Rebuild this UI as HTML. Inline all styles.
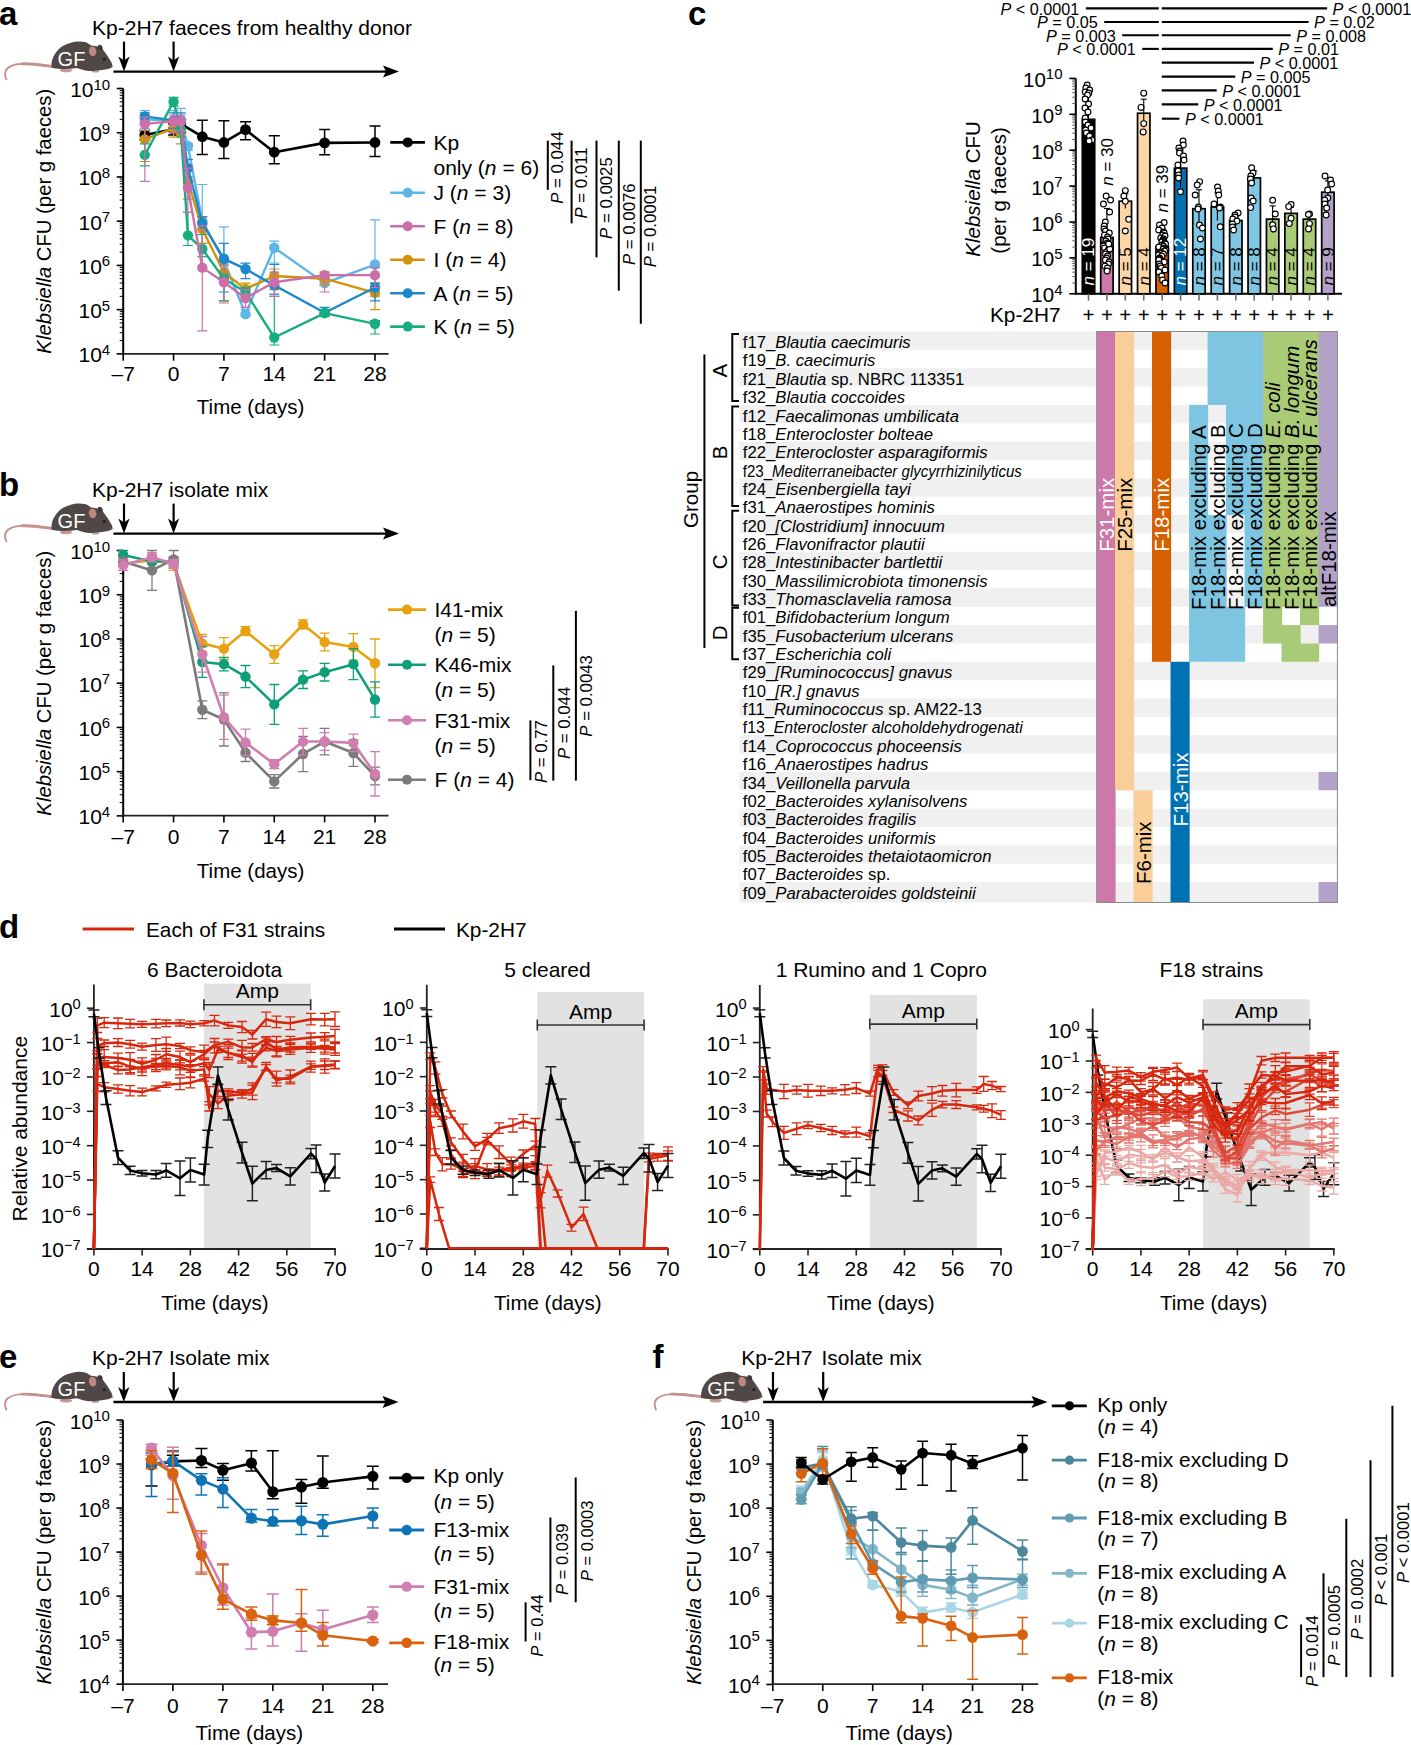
<!DOCTYPE html>
<html><head><meta charset="utf-8"><style>
html,body{margin:0;padding:0;background:#fff;overflow:hidden;width:1411px;height:1745px;}
svg{display:block;font-family:"Liberation Sans",sans-serif;}
</style></head><body>
<svg width="1411" height="1745" viewBox="0 0 1411 1745">
<defs><symbol id="mouse" overflow="visible">
<path d="M51.5,66.3 C42,65 32,63.3 22,63.8 C14,64.2 8,66.5 5.8,70.5 C4.6,73.5 5,76.5 6.4,79.3" fill="none" stroke="#C4918B" stroke-width="1.9" stroke-linecap="round"/>
<path d="M51.5,66.3 C42,65 32,63.3 22,63.8" fill="none" stroke="#C4918B" stroke-width="2.8" stroke-linecap="round"/>
<ellipse cx="66" cy="70.3" rx="6.2" ry="1.9" fill="#C99893"/>
<ellipse cx="95.5" cy="71.2" rx="3.8" ry="1.4" fill="#C99893"/>
<path d="M51.4,67.5 C51.2,62 52.5,57 55.6,53 C57.8,50 59.5,48.3 62,46.6 C64.5,45 66.5,44.1 68.9,43.4 C71.5,42.5 74,41.8 76.9,41.6 C80,41.4 82.5,41.5 84.9,42.1 C87,42.8 89,44 90.5,45.2 L97.6,46.5 C97.8,45.5 98.3,44.9 99.2,45 C101,45.3 102.5,47 103,49.8 C106,53.5 109,58 111.2,62 C112,63.5 112.6,65 112.5,66.8 C111.5,68 110.4,68.4 108,69 C104,69.8 100,70.2 96,70.6 C93,71 90,71 87,70.7 C83,70.3 80,69 76.9,68 C72,68.5 67,69.2 62,69 C57,68.8 53.5,68.3 51.4,67.5 Z" fill="#4F4846"/>
<ellipse cx="100.3" cy="47.4" rx="2.2" ry="2.5" fill="#3E3836"/>
<ellipse cx="92.6" cy="51.4" rx="3.7" ry="4.9" fill="#BE8782" transform="rotate(-10 92.6 51.4)"/>
<circle cx="104.3" cy="59.4" r="1.4" fill="#1a1a1a"/>
<circle cx="112.6" cy="66.6" r="0.9" fill="#D49C97"/>
<text x="57.6" y="65.5" font-size="20" fill="#fff">GF</text>
</symbol></defs>
<rect width="1411" height="1745" fill="#fff"/>
<text x="-1.00" y="24.80" font-size="33" font-weight="bold" >a</text>
<use href="#mouse" x="0.00" y="0.00"/>
<line x1="113.40" y1="71.60" x2="391.00" y2="71.60" stroke="#000" stroke-width="2.4" />
<path d="M399.00,71.60 L383.00,65.60 L386.00,71.60 L383.00,77.60 Z" fill="#000"/>
<line x1="124.00" y1="41.60" x2="124.00" y2="65.60" stroke="#000" stroke-width="2.2" />
<path d="M124.00,71.60 L118.40,56.60 L124.00,60.60 L129.60,56.60 Z" fill="#000"/>
<line x1="173.60" y1="41.60" x2="173.60" y2="65.60" stroke="#000" stroke-width="2.2" />
<path d="M173.60,71.60 L168.00,56.60 L173.60,60.60 L179.20,56.60 Z" fill="#000"/>
<text x="92.00" y="34.70" font-size="21" textLength="320" lengthAdjust="spacingAndGlyphs" >Kp-2H7 faeces from healthy donor</text>
<line x1="123.20" y1="88.50" x2="123.20" y2="353.88" stroke="#000" stroke-width="2" />
<line x1="116.70" y1="353.88" x2="123.20" y2="353.88" stroke="#000" stroke-width="1.6" />
<line x1="119.70" y1="340.57" x2="123.20" y2="340.57" stroke="#000" stroke-width="1.0" />
<line x1="119.70" y1="332.78" x2="123.20" y2="332.78" stroke="#000" stroke-width="1.0" />
<line x1="119.70" y1="327.25" x2="123.20" y2="327.25" stroke="#000" stroke-width="1.0" />
<line x1="119.70" y1="322.96" x2="123.20" y2="322.96" stroke="#000" stroke-width="1.0" />
<line x1="119.70" y1="319.46" x2="123.20" y2="319.46" stroke="#000" stroke-width="1.0" />
<line x1="119.70" y1="316.50" x2="123.20" y2="316.50" stroke="#000" stroke-width="1.0" />
<line x1="119.70" y1="313.94" x2="123.20" y2="313.94" stroke="#000" stroke-width="1.0" />
<line x1="119.70" y1="311.67" x2="123.20" y2="311.67" stroke="#000" stroke-width="1.0" />
<text x="110.20" y="362.38" font-size="21" text-anchor="end">10<tspan font-size="15" dy="-7.5">4</tspan></text>
<line x1="116.70" y1="309.65" x2="123.20" y2="309.65" stroke="#000" stroke-width="1.6" />
<line x1="119.70" y1="296.34" x2="123.20" y2="296.34" stroke="#000" stroke-width="1.0" />
<line x1="119.70" y1="288.55" x2="123.20" y2="288.55" stroke="#000" stroke-width="1.0" />
<line x1="119.70" y1="283.02" x2="123.20" y2="283.02" stroke="#000" stroke-width="1.0" />
<line x1="119.70" y1="278.73" x2="123.20" y2="278.73" stroke="#000" stroke-width="1.0" />
<line x1="119.70" y1="275.23" x2="123.20" y2="275.23" stroke="#000" stroke-width="1.0" />
<line x1="119.70" y1="272.27" x2="123.20" y2="272.27" stroke="#000" stroke-width="1.0" />
<line x1="119.70" y1="269.71" x2="123.20" y2="269.71" stroke="#000" stroke-width="1.0" />
<line x1="119.70" y1="267.44" x2="123.20" y2="267.44" stroke="#000" stroke-width="1.0" />
<text x="110.20" y="318.15" font-size="21" text-anchor="end">10<tspan font-size="15" dy="-7.5">5</tspan></text>
<line x1="116.70" y1="265.42" x2="123.20" y2="265.42" stroke="#000" stroke-width="1.6" />
<line x1="119.70" y1="252.11" x2="123.20" y2="252.11" stroke="#000" stroke-width="1.0" />
<line x1="119.70" y1="244.32" x2="123.20" y2="244.32" stroke="#000" stroke-width="1.0" />
<line x1="119.70" y1="238.79" x2="123.20" y2="238.79" stroke="#000" stroke-width="1.0" />
<line x1="119.70" y1="234.50" x2="123.20" y2="234.50" stroke="#000" stroke-width="1.0" />
<line x1="119.70" y1="231.00" x2="123.20" y2="231.00" stroke="#000" stroke-width="1.0" />
<line x1="119.70" y1="228.04" x2="123.20" y2="228.04" stroke="#000" stroke-width="1.0" />
<line x1="119.70" y1="225.48" x2="123.20" y2="225.48" stroke="#000" stroke-width="1.0" />
<line x1="119.70" y1="223.21" x2="123.20" y2="223.21" stroke="#000" stroke-width="1.0" />
<text x="110.20" y="273.92" font-size="21" text-anchor="end">10<tspan font-size="15" dy="-7.5">6</tspan></text>
<line x1="116.70" y1="221.19" x2="123.20" y2="221.19" stroke="#000" stroke-width="1.6" />
<line x1="119.70" y1="207.88" x2="123.20" y2="207.88" stroke="#000" stroke-width="1.0" />
<line x1="119.70" y1="200.09" x2="123.20" y2="200.09" stroke="#000" stroke-width="1.0" />
<line x1="119.70" y1="194.56" x2="123.20" y2="194.56" stroke="#000" stroke-width="1.0" />
<line x1="119.70" y1="190.27" x2="123.20" y2="190.27" stroke="#000" stroke-width="1.0" />
<line x1="119.70" y1="186.77" x2="123.20" y2="186.77" stroke="#000" stroke-width="1.0" />
<line x1="119.70" y1="183.81" x2="123.20" y2="183.81" stroke="#000" stroke-width="1.0" />
<line x1="119.70" y1="181.25" x2="123.20" y2="181.25" stroke="#000" stroke-width="1.0" />
<line x1="119.70" y1="178.98" x2="123.20" y2="178.98" stroke="#000" stroke-width="1.0" />
<text x="110.20" y="229.69" font-size="21" text-anchor="end">10<tspan font-size="15" dy="-7.5">7</tspan></text>
<line x1="116.70" y1="176.96" x2="123.20" y2="176.96" stroke="#000" stroke-width="1.6" />
<line x1="119.70" y1="163.65" x2="123.20" y2="163.65" stroke="#000" stroke-width="1.0" />
<line x1="119.70" y1="155.86" x2="123.20" y2="155.86" stroke="#000" stroke-width="1.0" />
<line x1="119.70" y1="150.33" x2="123.20" y2="150.33" stroke="#000" stroke-width="1.0" />
<line x1="119.70" y1="146.04" x2="123.20" y2="146.04" stroke="#000" stroke-width="1.0" />
<line x1="119.70" y1="142.54" x2="123.20" y2="142.54" stroke="#000" stroke-width="1.0" />
<line x1="119.70" y1="139.58" x2="123.20" y2="139.58" stroke="#000" stroke-width="1.0" />
<line x1="119.70" y1="137.02" x2="123.20" y2="137.02" stroke="#000" stroke-width="1.0" />
<line x1="119.70" y1="134.75" x2="123.20" y2="134.75" stroke="#000" stroke-width="1.0" />
<text x="110.20" y="185.46" font-size="21" text-anchor="end">10<tspan font-size="15" dy="-7.5">8</tspan></text>
<line x1="116.70" y1="132.73" x2="123.20" y2="132.73" stroke="#000" stroke-width="1.6" />
<line x1="119.70" y1="119.42" x2="123.20" y2="119.42" stroke="#000" stroke-width="1.0" />
<line x1="119.70" y1="111.63" x2="123.20" y2="111.63" stroke="#000" stroke-width="1.0" />
<line x1="119.70" y1="106.10" x2="123.20" y2="106.10" stroke="#000" stroke-width="1.0" />
<line x1="119.70" y1="101.81" x2="123.20" y2="101.81" stroke="#000" stroke-width="1.0" />
<line x1="119.70" y1="98.31" x2="123.20" y2="98.31" stroke="#000" stroke-width="1.0" />
<line x1="119.70" y1="95.35" x2="123.20" y2="95.35" stroke="#000" stroke-width="1.0" />
<line x1="119.70" y1="92.79" x2="123.20" y2="92.79" stroke="#000" stroke-width="1.0" />
<line x1="119.70" y1="90.52" x2="123.20" y2="90.52" stroke="#000" stroke-width="1.0" />
<text x="110.20" y="141.23" font-size="21" text-anchor="end">10<tspan font-size="15" dy="-7.5">9</tspan></text>
<line x1="116.70" y1="88.50" x2="123.20" y2="88.50" stroke="#000" stroke-width="1.6" />
<text x="110.20" y="97.00" font-size="21" text-anchor="end">10<tspan font-size="15" dy="-7.5">10</tspan></text>
<line x1="122.20" y1="353.90" x2="388.60" y2="353.90" stroke="#222" stroke-width="1.8" />
<line x1="123.20" y1="353.90" x2="123.20" y2="360.70" stroke="#000" stroke-width="1.6" />
<text x="123.20" y="381.20" font-size="21" text-anchor="middle" >–7</text>
<line x1="173.56" y1="353.90" x2="173.56" y2="360.70" stroke="#000" stroke-width="1.6" />
<text x="173.56" y="381.20" font-size="21" text-anchor="middle" >0</text>
<line x1="223.92" y1="353.90" x2="223.92" y2="360.70" stroke="#000" stroke-width="1.6" />
<text x="223.92" y="381.20" font-size="21" text-anchor="middle" >7</text>
<line x1="274.27" y1="353.90" x2="274.27" y2="360.70" stroke="#000" stroke-width="1.6" />
<text x="274.27" y="381.20" font-size="21" text-anchor="middle" >14</text>
<line x1="324.63" y1="353.90" x2="324.63" y2="360.70" stroke="#000" stroke-width="1.6" />
<text x="324.63" y="381.20" font-size="21" text-anchor="middle" >21</text>
<line x1="374.99" y1="353.90" x2="374.99" y2="360.70" stroke="#000" stroke-width="1.6" />
<text x="374.99" y="381.20" font-size="21" text-anchor="middle" >28</text>
<text x="250.59" y="414.40" font-size="20.5" text-anchor="middle" >Time (days)</text>
<text x="51.00" y="221.19" font-size="20.3" text-anchor="middle" transform="rotate(-90 51.00 221.19)"><tspan font-style="italic">Klebsiella</tspan> CFU (per g faeces)</text>
<path d="M144.8,130.5V139.4M139.3,130.5h11.0M139.3,139.4h11.0" stroke="#000" stroke-width="1.5" fill="none"/>
<path d="M173.6,123.9V134.9M168.1,123.9h11.0M168.1,134.9h11.0" stroke="#000" stroke-width="1.5" fill="none"/>
<path d="M180.8,119.5V132.7M175.3,119.5h11.0M175.3,132.7h11.0" stroke="#000" stroke-width="1.5" fill="none"/>
<path d="M202.3,120.3V154.4M196.8,120.3h11.0M196.8,154.4h11.0" stroke="#000" stroke-width="1.5" fill="none"/>
<path d="M223.9,120.8V158.4M218.4,120.8h11.0M218.4,158.4h11.0" stroke="#000" stroke-width="1.5" fill="none"/>
<path d="M245.5,121.7V139.8M240.0,121.7h11.0M240.0,139.8h11.0" stroke="#000" stroke-width="1.5" fill="none"/>
<path d="M274.3,135.8V163.7M268.8,135.8h11.0M268.8,163.7h11.0" stroke="#000" stroke-width="1.5" fill="none"/>
<path d="M324.6,129.6V154.8M319.1,129.6h11.0M319.1,154.8h11.0" stroke="#000" stroke-width="1.5" fill="none"/>
<path d="M375.0,126.1V156.6M369.5,126.1h11.0M369.5,156.6h11.0" stroke="#000" stroke-width="1.5" fill="none"/>
<polyline points="144.78,134.94 173.56,129.19 180.75,123.88 202.33,136.71 223.92,142.46 245.50,129.63 274.27,152.19 324.63,142.90 374.99,142.46" fill="none" stroke="#000" stroke-width="2.6" stroke-linejoin="round" />
<circle cx="144.78" cy="134.94" r="5.4" fill="#000" />
<circle cx="173.56" cy="129.19" r="5.4" fill="#000" />
<circle cx="180.75" cy="123.88" r="5.4" fill="#000" />
<circle cx="202.33" cy="136.71" r="5.4" fill="#000" />
<circle cx="223.92" cy="142.46" r="5.4" fill="#000" />
<circle cx="245.50" cy="129.63" r="5.4" fill="#000" />
<circle cx="274.27" cy="152.19" r="5.4" fill="#000" />
<circle cx="324.63" cy="142.90" r="5.4" fill="#000" />
<circle cx="374.99" cy="142.46" r="5.4" fill="#000" />
<path d="M144.8,110.6V128.3M139.8,110.6h10M139.8,128.3h10" stroke="#5DB5E8" stroke-width="1.2" fill="none"/>
<path d="M173.6,110.6V132.7M168.6,110.6h10M168.6,132.7h10" stroke="#5DB5E8" stroke-width="1.2" fill="none"/>
<path d="M180.8,108.4V128.3M175.8,108.4h10M175.8,128.3h10" stroke="#5DB5E8" stroke-width="1.2" fill="none"/>
<path d="M187.9,143.8V150.4M182.9,143.8h10M182.9,150.4h10" stroke="#5DB5E8" stroke-width="1.2" fill="none"/>
<path d="M202.3,184.5V243.3M197.3,184.5h10M197.3,243.3h10" stroke="#5DB5E8" stroke-width="1.2" fill="none"/>
<path d="M223.9,226.9V274.3M218.9,226.9h10M218.9,274.3h10" stroke="#5DB5E8" stroke-width="1.2" fill="none"/>
<path d="M245.5,309.6V316.3M240.5,309.6h10M240.5,316.3h10" stroke="#5DB5E8" stroke-width="1.2" fill="none"/>
<path d="M274.3,241.1V263.2M269.3,241.1h10M269.3,263.2h10" stroke="#5DB5E8" stroke-width="1.2" fill="none"/>
<path d="M324.6,278.7V285.3M319.6,278.7h10M319.6,285.3h10" stroke="#5DB5E8" stroke-width="1.2" fill="none"/>
<path d="M375.0,219.9V296.4M370.0,219.9h10M370.0,296.4h10" stroke="#5DB5E8" stroke-width="1.2" fill="none"/>
<polyline points="144.78,119.46 173.56,120.35 180.75,119.46 187.95,146.00 202.33,221.19 223.92,261.00 245.50,314.07 274.27,247.73 324.63,283.11 374.99,264.54" fill="none" stroke="#5DB5E8" stroke-width="2.4" stroke-linejoin="round" />
<circle cx="144.78" cy="119.46" r="5.2" fill="#5DB5E8" />
<circle cx="173.56" cy="120.35" r="5.2" fill="#5DB5E8" />
<circle cx="180.75" cy="119.46" r="5.2" fill="#5DB5E8" />
<circle cx="187.95" cy="146.00" r="5.2" fill="#5DB5E8" />
<circle cx="202.33" cy="221.19" r="5.2" fill="#5DB5E8" />
<circle cx="223.92" cy="261.00" r="5.2" fill="#5DB5E8" />
<circle cx="245.50" cy="314.07" r="5.2" fill="#5DB5E8" />
<circle cx="274.27" cy="247.73" r="5.2" fill="#5DB5E8" />
<circle cx="324.63" cy="283.11" r="5.2" fill="#5DB5E8" />
<circle cx="374.99" cy="264.54" r="5.2" fill="#5DB5E8" />
<path d="M144.8,130.5V161.5M139.8,130.5h10M139.8,161.5h10" stroke="#D3920B" stroke-width="1.2" fill="none"/>
<path d="M173.6,121.7V137.2M168.6,121.7h10M168.6,137.2h10" stroke="#D3920B" stroke-width="1.2" fill="none"/>
<path d="M180.8,123.9V143.8M175.8,123.9h10M175.8,143.8h10" stroke="#D3920B" stroke-width="1.2" fill="none"/>
<path d="M187.9,168.1V199.1M182.9,168.1h10M182.9,199.1h10" stroke="#D3920B" stroke-width="1.2" fill="none"/>
<path d="M202.3,216.8V243.3M197.3,216.8h10M197.3,243.3h10" stroke="#D3920B" stroke-width="1.2" fill="none"/>
<path d="M223.9,265.4V300.8M218.9,265.4h10M218.9,300.8h10" stroke="#D3920B" stroke-width="1.2" fill="none"/>
<path d="M245.5,283.1V296.4M240.5,283.1h10M240.5,296.4h10" stroke="#D3920B" stroke-width="1.2" fill="none"/>
<path d="M274.3,269.0V289.7M269.3,269.0h10M269.3,289.7h10" stroke="#D3920B" stroke-width="1.2" fill="none"/>
<path d="M324.6,272.1V285.3M319.6,272.1h10M319.6,285.3h10" stroke="#D3920B" stroke-width="1.2" fill="none"/>
<path d="M375.0,283.1V309.6M370.0,283.1h10M370.0,309.6h10" stroke="#D3920B" stroke-width="1.2" fill="none"/>
<polyline points="144.78,139.36 173.56,128.31 180.75,132.73 187.95,181.38 202.33,229.15 223.92,272.50 245.50,288.86 274.27,276.04 324.63,278.69 374.99,292.84" fill="none" stroke="#D3920B" stroke-width="2.4" stroke-linejoin="round" />
<circle cx="144.78" cy="139.36" r="5.2" fill="#D3920B" />
<circle cx="173.56" cy="128.31" r="5.2" fill="#D3920B" />
<circle cx="180.75" cy="132.73" r="5.2" fill="#D3920B" />
<circle cx="187.95" cy="181.38" r="5.2" fill="#D3920B" />
<circle cx="202.33" cy="229.15" r="5.2" fill="#D3920B" />
<circle cx="223.92" cy="272.50" r="5.2" fill="#D3920B" />
<circle cx="245.50" cy="288.86" r="5.2" fill="#D3920B" />
<circle cx="274.27" cy="276.04" r="5.2" fill="#D3920B" />
<circle cx="324.63" cy="278.69" r="5.2" fill="#D3920B" />
<circle cx="374.99" cy="292.84" r="5.2" fill="#D3920B" />
<path d="M144.8,112.8V121.7M139.8,112.8h10M139.8,121.7h10" stroke="#1D87CB" stroke-width="1.2" fill="none"/>
<path d="M173.6,112.8V128.3M168.6,112.8h10M168.6,128.3h10" stroke="#1D87CB" stroke-width="1.2" fill="none"/>
<path d="M180.8,112.8V132.7M175.8,112.8h10M175.8,132.7h10" stroke="#1D87CB" stroke-width="1.2" fill="none"/>
<path d="M187.9,159.3V177.0M182.9,159.3h10M182.9,177.0h10" stroke="#1D87CB" stroke-width="1.2" fill="none"/>
<path d="M202.3,216.8V234.5M197.3,216.8h10M197.3,234.5h10" stroke="#1D87CB" stroke-width="1.2" fill="none"/>
<path d="M223.9,243.3V292.0M218.9,243.3h10M218.9,292.0h10" stroke="#1D87CB" stroke-width="1.2" fill="none"/>
<path d="M245.5,263.2V278.7M240.5,263.2h10M240.5,278.7h10" stroke="#1D87CB" stroke-width="1.2" fill="none"/>
<path d="M274.3,264.5V294.2M269.3,264.5h10M269.3,294.2h10" stroke="#1D87CB" stroke-width="1.2" fill="none"/>
<path d="M324.6,307.4V316.3M319.6,307.4h10M319.6,316.3h10" stroke="#1D87CB" stroke-width="1.2" fill="none"/>
<path d="M375.0,283.1V300.8M370.0,283.1h10M370.0,300.8h10" stroke="#1D87CB" stroke-width="1.2" fill="none"/>
<polyline points="144.78,116.36 173.56,120.35 180.75,121.67 187.95,168.11 202.33,223.40 223.92,258.79 245.50,268.96 274.27,285.32 324.63,312.75 374.99,287.53" fill="none" stroke="#1D87CB" stroke-width="2.4" stroke-linejoin="round" />
<circle cx="144.78" cy="116.36" r="5.2" fill="#1D87CB" />
<circle cx="173.56" cy="120.35" r="5.2" fill="#1D87CB" />
<circle cx="180.75" cy="121.67" r="5.2" fill="#1D87CB" />
<circle cx="187.95" cy="168.11" r="5.2" fill="#1D87CB" />
<circle cx="202.33" cy="223.40" r="5.2" fill="#1D87CB" />
<circle cx="223.92" cy="258.79" r="5.2" fill="#1D87CB" />
<circle cx="245.50" cy="268.96" r="5.2" fill="#1D87CB" />
<circle cx="274.27" cy="285.32" r="5.2" fill="#1D87CB" />
<circle cx="324.63" cy="312.75" r="5.2" fill="#1D87CB" />
<circle cx="374.99" cy="287.53" r="5.2" fill="#1D87CB" />
<path d="M144.8,143.8V165.9M139.8,143.8h10M139.8,165.9h10" stroke="#16AE80" stroke-width="1.2" fill="none"/>
<path d="M173.6,97.3V106.2M168.6,97.3h10M168.6,106.2h10" stroke="#16AE80" stroke-width="1.2" fill="none"/>
<path d="M180.8,121.7V137.2M175.8,121.7h10M175.8,137.2h10" stroke="#16AE80" stroke-width="1.2" fill="none"/>
<path d="M187.9,212.3V245.5M182.9,212.3h10M182.9,245.5h10" stroke="#16AE80" stroke-width="1.2" fill="none"/>
<path d="M202.3,234.5V256.6M197.3,234.5h10M197.3,256.6h10" stroke="#16AE80" stroke-width="1.2" fill="none"/>
<path d="M223.9,274.3V300.8M218.9,274.3h10M218.9,300.8h10" stroke="#16AE80" stroke-width="1.2" fill="none"/>
<path d="M245.5,287.5V300.8M240.5,287.5h10M240.5,300.8h10" stroke="#16AE80" stroke-width="1.2" fill="none"/>
<path d="M274.3,296.4V345.0M269.3,296.4h10M269.3,345.0h10" stroke="#16AE80" stroke-width="1.2" fill="none"/>
<path d="M324.6,309.6V316.3M319.6,309.6h10M319.6,316.3h10" stroke="#16AE80" stroke-width="1.2" fill="none"/>
<path d="M375.0,320.7V334.0M370.0,320.7h10M370.0,334.0h10" stroke="#16AE80" stroke-width="1.2" fill="none"/>
<polyline points="144.78,154.84 173.56,101.77 180.75,129.19 187.95,235.34 202.33,249.05 223.92,278.69 245.50,291.96 274.27,337.51 324.63,313.19 374.99,323.80" fill="none" stroke="#16AE80" stroke-width="2.4" stroke-linejoin="round" />
<circle cx="144.78" cy="154.84" r="5.2" fill="#16AE80" />
<circle cx="173.56" cy="101.77" r="5.2" fill="#16AE80" />
<circle cx="180.75" cy="129.19" r="5.2" fill="#16AE80" />
<circle cx="187.95" cy="235.34" r="5.2" fill="#16AE80" />
<circle cx="202.33" cy="249.05" r="5.2" fill="#16AE80" />
<circle cx="223.92" cy="278.69" r="5.2" fill="#16AE80" />
<circle cx="245.50" cy="291.96" r="5.2" fill="#16AE80" />
<circle cx="274.27" cy="337.51" r="5.2" fill="#16AE80" />
<circle cx="324.63" cy="313.19" r="5.2" fill="#16AE80" />
<circle cx="374.99" cy="323.80" r="5.2" fill="#16AE80" />
<path d="M144.8,117.2V181.4M139.8,117.2h10M139.8,181.4h10" stroke="#CC6FA8" stroke-width="1.2" fill="none"/>
<path d="M173.6,115.0V132.7M168.6,115.0h10M168.6,132.7h10" stroke="#CC6FA8" stroke-width="1.2" fill="none"/>
<path d="M180.8,115.0V130.5M175.8,115.0h10M175.8,130.5h10" stroke="#CC6FA8" stroke-width="1.2" fill="none"/>
<path d="M187.9,168.1V212.3M182.9,168.1h10M182.9,212.3h10" stroke="#CC6FA8" stroke-width="1.2" fill="none"/>
<path d="M202.3,225.6V330.9M197.3,225.6h10M197.3,330.9h10" stroke="#CC6FA8" stroke-width="1.2" fill="none"/>
<path d="M223.9,265.4V303.0M218.9,265.4h10M218.9,303.0h10" stroke="#CC6FA8" stroke-width="1.2" fill="none"/>
<path d="M245.5,289.7V307.4M240.5,289.7h10M240.5,307.4h10" stroke="#CC6FA8" stroke-width="1.2" fill="none"/>
<path d="M274.3,272.1V296.4M269.3,272.1h10M269.3,296.4h10" stroke="#CC6FA8" stroke-width="1.2" fill="none"/>
<path d="M324.6,272.1V292.0M319.6,272.1h10M319.6,292.0h10" stroke="#CC6FA8" stroke-width="1.2" fill="none"/>
<path d="M375.0,267.6V287.5M370.0,267.6h10M370.0,287.5h10" stroke="#CC6FA8" stroke-width="1.2" fill="none"/>
<polyline points="144.78,123.88 173.56,121.23 180.75,121.23 187.95,188.02 202.33,267.63 223.92,282.23 245.50,298.15 274.27,282.23 324.63,275.15 374.99,275.15" fill="none" stroke="#CC6FA8" stroke-width="2.4" stroke-linejoin="round" />
<circle cx="144.78" cy="123.88" r="5.2" fill="#CC6FA8" />
<circle cx="173.56" cy="121.23" r="5.2" fill="#CC6FA8" />
<circle cx="180.75" cy="121.23" r="5.2" fill="#CC6FA8" />
<circle cx="187.95" cy="188.02" r="5.2" fill="#CC6FA8" />
<circle cx="202.33" cy="267.63" r="5.2" fill="#CC6FA8" />
<circle cx="223.92" cy="282.23" r="5.2" fill="#CC6FA8" />
<circle cx="245.50" cy="298.15" r="5.2" fill="#CC6FA8" />
<circle cx="274.27" cy="282.23" r="5.2" fill="#CC6FA8" />
<circle cx="324.63" cy="275.15" r="5.2" fill="#CC6FA8" />
<circle cx="374.99" cy="275.15" r="5.2" fill="#CC6FA8" />
<line x1="390.20" y1="142.40" x2="424.90" y2="142.40" stroke="#000" stroke-width="2.6" />
<circle cx="407.70" cy="142.40" r="5" fill="#000" />
<text x="433.50" y="149.90" font-size="21" >Kp</text>
<line x1="390.20" y1="192.80" x2="424.90" y2="192.80" stroke="#5DB5E8" stroke-width="2.6" />
<circle cx="407.70" cy="192.80" r="5" fill="#5DB5E8" />
<text x="433.50" y="200.30" font-size="21" >J (<tspan font-style="italic">n</tspan> = 3)</text>
<line x1="390.20" y1="226.30" x2="424.90" y2="226.30" stroke="#CC6FA8" stroke-width="2.6" />
<circle cx="407.70" cy="226.30" r="5" fill="#CC6FA8" />
<text x="433.50" y="233.80" font-size="21" >F (<tspan font-style="italic">n</tspan> = 8)</text>
<line x1="390.20" y1="259.70" x2="424.90" y2="259.70" stroke="#D3920B" stroke-width="2.6" />
<circle cx="407.70" cy="259.70" r="5" fill="#D3920B" />
<text x="433.50" y="267.20" font-size="21" >I (<tspan font-style="italic">n</tspan> = 4)</text>
<line x1="390.20" y1="293.20" x2="424.90" y2="293.20" stroke="#1D87CB" stroke-width="2.6" />
<circle cx="407.70" cy="293.20" r="5" fill="#1D87CB" />
<text x="433.50" y="300.70" font-size="21" >A (<tspan font-style="italic">n</tspan> = 5)</text>
<line x1="390.20" y1="326.60" x2="424.90" y2="326.60" stroke="#16AE80" stroke-width="2.6" />
<circle cx="407.70" cy="326.60" r="5" fill="#16AE80" />
<text x="433.50" y="334.10" font-size="21" >K (<tspan font-style="italic">n</tspan> = 5)</text>
<text x="433.50" y="175.30" font-size="21" >only (<tspan font-style="italic">n</tspan> = 6)</text>
<line x1="547.80" y1="140.60" x2="547.80" y2="189.80" stroke="#000" stroke-width="2" />
<text x="563.50" y="203.80" font-size="16.8" transform="rotate(-90 563.50 203.80)"><tspan font-style="italic">P</tspan> = 0.044</text>
<line x1="571.60" y1="140.60" x2="571.60" y2="223.40" stroke="#000" stroke-width="2" />
<text x="587.30" y="218.50" font-size="16.8" transform="rotate(-90 587.30 218.50)"><tspan font-style="italic">P</tspan> = 0.011</text>
<line x1="596.50" y1="140.60" x2="596.50" y2="257.40" stroke="#000" stroke-width="2" />
<text x="612.20" y="238.90" font-size="16.8" transform="rotate(-90 612.20 238.90)"><tspan font-style="italic">P</tspan> = 0.0025</text>
<line x1="618.80" y1="140.60" x2="618.80" y2="290.70" stroke="#000" stroke-width="2" />
<text x="634.50" y="265.00" font-size="16.8" transform="rotate(-90 634.50 265.00)"><tspan font-style="italic">P</tspan> = 0.0076</text>
<line x1="640.80" y1="140.60" x2="640.80" y2="323.80" stroke="#000" stroke-width="2" />
<text x="656.50" y="267.30" font-size="16.8" transform="rotate(-90 656.50 267.30)"><tspan font-style="italic">P</tspan> = 0.0001</text>
<text x="-1.00" y="496.10" font-size="33" font-weight="bold" >b</text>
<use href="#mouse" x="0.00" y="462.00"/>
<line x1="113.40" y1="533.60" x2="391.00" y2="533.60" stroke="#000" stroke-width="2.4" />
<path d="M399.00,533.60 L383.00,527.60 L386.00,533.60 L383.00,539.60 Z" fill="#000"/>
<line x1="124.00" y1="503.60" x2="124.00" y2="527.60" stroke="#000" stroke-width="2.2" />
<path d="M124.00,533.60 L118.40,518.60 L124.00,522.60 L129.60,518.60 Z" fill="#000"/>
<line x1="173.60" y1="503.60" x2="173.60" y2="527.60" stroke="#000" stroke-width="2.2" />
<path d="M173.60,533.60 L168.00,518.60 L173.60,522.60 L179.20,518.60 Z" fill="#000"/>
<text x="92.00" y="496.70" font-size="21" >Kp-2H7 isolate mix</text>
<line x1="123.20" y1="550.50" x2="123.20" y2="815.88" stroke="#000" stroke-width="2" />
<line x1="116.70" y1="815.88" x2="123.20" y2="815.88" stroke="#000" stroke-width="1.6" />
<line x1="119.70" y1="802.57" x2="123.20" y2="802.57" stroke="#000" stroke-width="1.0" />
<line x1="119.70" y1="794.78" x2="123.20" y2="794.78" stroke="#000" stroke-width="1.0" />
<line x1="119.70" y1="789.25" x2="123.20" y2="789.25" stroke="#000" stroke-width="1.0" />
<line x1="119.70" y1="784.96" x2="123.20" y2="784.96" stroke="#000" stroke-width="1.0" />
<line x1="119.70" y1="781.46" x2="123.20" y2="781.46" stroke="#000" stroke-width="1.0" />
<line x1="119.70" y1="778.50" x2="123.20" y2="778.50" stroke="#000" stroke-width="1.0" />
<line x1="119.70" y1="775.94" x2="123.20" y2="775.94" stroke="#000" stroke-width="1.0" />
<line x1="119.70" y1="773.67" x2="123.20" y2="773.67" stroke="#000" stroke-width="1.0" />
<text x="110.20" y="824.38" font-size="21" text-anchor="end">10<tspan font-size="15" dy="-7.5">4</tspan></text>
<line x1="116.70" y1="771.65" x2="123.20" y2="771.65" stroke="#000" stroke-width="1.6" />
<line x1="119.70" y1="758.34" x2="123.20" y2="758.34" stroke="#000" stroke-width="1.0" />
<line x1="119.70" y1="750.55" x2="123.20" y2="750.55" stroke="#000" stroke-width="1.0" />
<line x1="119.70" y1="745.02" x2="123.20" y2="745.02" stroke="#000" stroke-width="1.0" />
<line x1="119.70" y1="740.73" x2="123.20" y2="740.73" stroke="#000" stroke-width="1.0" />
<line x1="119.70" y1="737.23" x2="123.20" y2="737.23" stroke="#000" stroke-width="1.0" />
<line x1="119.70" y1="734.27" x2="123.20" y2="734.27" stroke="#000" stroke-width="1.0" />
<line x1="119.70" y1="731.71" x2="123.20" y2="731.71" stroke="#000" stroke-width="1.0" />
<line x1="119.70" y1="729.44" x2="123.20" y2="729.44" stroke="#000" stroke-width="1.0" />
<text x="110.20" y="780.15" font-size="21" text-anchor="end">10<tspan font-size="15" dy="-7.5">5</tspan></text>
<line x1="116.70" y1="727.42" x2="123.20" y2="727.42" stroke="#000" stroke-width="1.6" />
<line x1="119.70" y1="714.11" x2="123.20" y2="714.11" stroke="#000" stroke-width="1.0" />
<line x1="119.70" y1="706.32" x2="123.20" y2="706.32" stroke="#000" stroke-width="1.0" />
<line x1="119.70" y1="700.79" x2="123.20" y2="700.79" stroke="#000" stroke-width="1.0" />
<line x1="119.70" y1="696.50" x2="123.20" y2="696.50" stroke="#000" stroke-width="1.0" />
<line x1="119.70" y1="693.00" x2="123.20" y2="693.00" stroke="#000" stroke-width="1.0" />
<line x1="119.70" y1="690.04" x2="123.20" y2="690.04" stroke="#000" stroke-width="1.0" />
<line x1="119.70" y1="687.48" x2="123.20" y2="687.48" stroke="#000" stroke-width="1.0" />
<line x1="119.70" y1="685.21" x2="123.20" y2="685.21" stroke="#000" stroke-width="1.0" />
<text x="110.20" y="735.92" font-size="21" text-anchor="end">10<tspan font-size="15" dy="-7.5">6</tspan></text>
<line x1="116.70" y1="683.19" x2="123.20" y2="683.19" stroke="#000" stroke-width="1.6" />
<line x1="119.70" y1="669.88" x2="123.20" y2="669.88" stroke="#000" stroke-width="1.0" />
<line x1="119.70" y1="662.09" x2="123.20" y2="662.09" stroke="#000" stroke-width="1.0" />
<line x1="119.70" y1="656.56" x2="123.20" y2="656.56" stroke="#000" stroke-width="1.0" />
<line x1="119.70" y1="652.27" x2="123.20" y2="652.27" stroke="#000" stroke-width="1.0" />
<line x1="119.70" y1="648.77" x2="123.20" y2="648.77" stroke="#000" stroke-width="1.0" />
<line x1="119.70" y1="645.81" x2="123.20" y2="645.81" stroke="#000" stroke-width="1.0" />
<line x1="119.70" y1="643.25" x2="123.20" y2="643.25" stroke="#000" stroke-width="1.0" />
<line x1="119.70" y1="640.98" x2="123.20" y2="640.98" stroke="#000" stroke-width="1.0" />
<text x="110.20" y="691.69" font-size="21" text-anchor="end">10<tspan font-size="15" dy="-7.5">7</tspan></text>
<line x1="116.70" y1="638.96" x2="123.20" y2="638.96" stroke="#000" stroke-width="1.6" />
<line x1="119.70" y1="625.65" x2="123.20" y2="625.65" stroke="#000" stroke-width="1.0" />
<line x1="119.70" y1="617.86" x2="123.20" y2="617.86" stroke="#000" stroke-width="1.0" />
<line x1="119.70" y1="612.33" x2="123.20" y2="612.33" stroke="#000" stroke-width="1.0" />
<line x1="119.70" y1="608.04" x2="123.20" y2="608.04" stroke="#000" stroke-width="1.0" />
<line x1="119.70" y1="604.54" x2="123.20" y2="604.54" stroke="#000" stroke-width="1.0" />
<line x1="119.70" y1="601.58" x2="123.20" y2="601.58" stroke="#000" stroke-width="1.0" />
<line x1="119.70" y1="599.02" x2="123.20" y2="599.02" stroke="#000" stroke-width="1.0" />
<line x1="119.70" y1="596.75" x2="123.20" y2="596.75" stroke="#000" stroke-width="1.0" />
<text x="110.20" y="647.46" font-size="21" text-anchor="end">10<tspan font-size="15" dy="-7.5">8</tspan></text>
<line x1="116.70" y1="594.73" x2="123.20" y2="594.73" stroke="#000" stroke-width="1.6" />
<line x1="119.70" y1="581.42" x2="123.20" y2="581.42" stroke="#000" stroke-width="1.0" />
<line x1="119.70" y1="573.63" x2="123.20" y2="573.63" stroke="#000" stroke-width="1.0" />
<line x1="119.70" y1="568.10" x2="123.20" y2="568.10" stroke="#000" stroke-width="1.0" />
<line x1="119.70" y1="563.81" x2="123.20" y2="563.81" stroke="#000" stroke-width="1.0" />
<line x1="119.70" y1="560.31" x2="123.20" y2="560.31" stroke="#000" stroke-width="1.0" />
<line x1="119.70" y1="557.35" x2="123.20" y2="557.35" stroke="#000" stroke-width="1.0" />
<line x1="119.70" y1="554.79" x2="123.20" y2="554.79" stroke="#000" stroke-width="1.0" />
<line x1="119.70" y1="552.52" x2="123.20" y2="552.52" stroke="#000" stroke-width="1.0" />
<text x="110.20" y="603.23" font-size="21" text-anchor="end">10<tspan font-size="15" dy="-7.5">9</tspan></text>
<line x1="116.70" y1="550.50" x2="123.20" y2="550.50" stroke="#000" stroke-width="1.6" />
<text x="110.20" y="559.00" font-size="21" text-anchor="end">10<tspan font-size="15" dy="-7.5">10</tspan></text>
<line x1="122.20" y1="815.60" x2="388.50" y2="815.60" stroke="#222" stroke-width="1.8" />
<line x1="123.20" y1="815.60" x2="123.20" y2="822.40" stroke="#000" stroke-width="1.6" />
<text x="123.20" y="844.40" font-size="21" text-anchor="middle" >–7</text>
<line x1="173.56" y1="815.60" x2="173.56" y2="822.40" stroke="#000" stroke-width="1.6" />
<text x="173.56" y="844.40" font-size="21" text-anchor="middle" >0</text>
<line x1="223.92" y1="815.60" x2="223.92" y2="822.40" stroke="#000" stroke-width="1.6" />
<text x="223.92" y="844.40" font-size="21" text-anchor="middle" >7</text>
<line x1="274.27" y1="815.60" x2="274.27" y2="822.40" stroke="#000" stroke-width="1.6" />
<text x="274.27" y="844.40" font-size="21" text-anchor="middle" >14</text>
<line x1="324.63" y1="815.60" x2="324.63" y2="822.40" stroke="#000" stroke-width="1.6" />
<text x="324.63" y="844.40" font-size="21" text-anchor="middle" >21</text>
<line x1="374.99" y1="815.60" x2="374.99" y2="822.40" stroke="#000" stroke-width="1.6" />
<text x="374.99" y="844.40" font-size="21" text-anchor="middle" >28</text>
<text x="250.59" y="878.20" font-size="20.5" text-anchor="middle" >Time (days)</text>
<text x="51.00" y="683.19" font-size="20.3" text-anchor="middle" transform="rotate(-90 51.00 683.19)"><tspan font-style="italic">Klebsiella</tspan> CFU (per g faeces)</text>
<path d="M123.2,557.1V570.4M118.2,557.1h10M118.2,570.4h10" stroke="#E8A20F" stroke-width="1.3" fill="none"/>
<path d="M152.0,555.8V564.7M147.0,555.8h10M147.0,564.7h10" stroke="#E8A20F" stroke-width="1.3" fill="none"/>
<path d="M173.6,557.1V570.4M168.6,557.1h10M168.6,570.4h10" stroke="#E8A20F" stroke-width="1.3" fill="none"/>
<path d="M202.3,634.5V652.2M197.3,634.5h10M197.3,652.2h10" stroke="#E8A20F" stroke-width="1.3" fill="none"/>
<path d="M223.9,637.6V659.7M218.9,637.6h10M218.9,659.7h10" stroke="#E8A20F" stroke-width="1.3" fill="none"/>
<path d="M245.5,626.6V635.4M240.5,626.6h10M240.5,635.4h10" stroke="#E8A20F" stroke-width="1.3" fill="none"/>
<path d="M274.3,645.6V663.3M269.3,645.6h10M269.3,663.3h10" stroke="#E8A20F" stroke-width="1.3" fill="none"/>
<path d="M303.1,619.9V628.8M298.1,619.9h10M298.1,628.8h10" stroke="#E8A20F" stroke-width="1.3" fill="none"/>
<path d="M324.6,633.2V650.9M319.6,633.2h10M319.6,650.9h10" stroke="#E8A20F" stroke-width="1.3" fill="none"/>
<path d="M353.4,633.7V660.2M348.4,633.7h10M348.4,660.2h10" stroke="#E8A20F" stroke-width="1.3" fill="none"/>
<path d="M375.0,639.0V687.6M370.0,639.0h10M370.0,687.6h10" stroke="#E8A20F" stroke-width="1.3" fill="none"/>
<polyline points="123.20,563.77 151.98,560.23 173.56,563.77 202.33,643.38 223.92,648.69 245.50,631.00 274.27,654.44 303.05,624.36 324.63,642.06 353.41,646.92 374.99,663.29" fill="none" stroke="#E8A20F" stroke-width="2.6" stroke-linejoin="round" />
<circle cx="123.20" cy="563.77" r="5.2" fill="#E8A20F" />
<circle cx="151.98" cy="560.23" r="5.2" fill="#E8A20F" />
<circle cx="173.56" cy="563.77" r="5.2" fill="#E8A20F" />
<circle cx="202.33" cy="643.38" r="5.2" fill="#E8A20F" />
<circle cx="223.92" cy="648.69" r="5.2" fill="#E8A20F" />
<circle cx="245.50" cy="631.00" r="5.2" fill="#E8A20F" />
<circle cx="274.27" cy="654.44" r="5.2" fill="#E8A20F" />
<circle cx="303.05" cy="624.36" r="5.2" fill="#E8A20F" />
<circle cx="324.63" cy="642.06" r="5.2" fill="#E8A20F" />
<circle cx="353.41" cy="646.92" r="5.2" fill="#E8A20F" />
<circle cx="374.99" cy="663.29" r="5.2" fill="#E8A20F" />
<path d="M123.2,550.5V559.3M118.2,550.5h10M118.2,559.3h10" stroke="#0F9F78" stroke-width="1.3" fill="none"/>
<path d="M152.0,554.9V568.2M147.0,554.9h10M147.0,568.2h10" stroke="#0F9F78" stroke-width="1.3" fill="none"/>
<path d="M173.6,557.1V566.0M168.6,557.1h10M168.6,566.0h10" stroke="#0F9F78" stroke-width="1.3" fill="none"/>
<path d="M202.3,646.5V677.4M197.3,646.5h10M197.3,677.4h10" stroke="#0F9F78" stroke-width="1.3" fill="none"/>
<path d="M223.9,657.5V670.8M218.9,657.5h10M218.9,670.8h10" stroke="#0F9F78" stroke-width="1.3" fill="none"/>
<path d="M245.5,665.5V687.6M240.5,665.5h10M240.5,687.6h10" stroke="#0F9F78" stroke-width="1.3" fill="none"/>
<path d="M274.3,684.5V724.3M269.3,684.5h10M269.3,724.3h10" stroke="#0F9F78" stroke-width="1.3" fill="none"/>
<path d="M303.1,670.8V688.5M298.1,670.8h10M298.1,688.5h10" stroke="#0F9F78" stroke-width="1.3" fill="none"/>
<path d="M324.6,663.3V681.0M319.6,663.3h10M319.6,681.0h10" stroke="#0F9F78" stroke-width="1.3" fill="none"/>
<path d="M353.4,648.7V679.7M348.4,648.7h10M348.4,679.7h10" stroke="#0F9F78" stroke-width="1.3" fill="none"/>
<path d="M375.0,681.9V717.2M370.0,681.9h10M370.0,717.2h10" stroke="#0F9F78" stroke-width="1.3" fill="none"/>
<polyline points="123.20,554.92 151.98,561.56 173.56,561.56 202.33,661.96 223.92,664.17 245.50,676.56 274.27,704.42 303.05,679.65 324.63,672.13 353.41,664.17 374.99,699.56" fill="none" stroke="#0F9F78" stroke-width="2.6" stroke-linejoin="round" />
<circle cx="123.20" cy="554.92" r="5.2" fill="#0F9F78" />
<circle cx="151.98" cy="561.56" r="5.2" fill="#0F9F78" />
<circle cx="173.56" cy="561.56" r="5.2" fill="#0F9F78" />
<circle cx="202.33" cy="661.96" r="5.2" fill="#0F9F78" />
<circle cx="223.92" cy="664.17" r="5.2" fill="#0F9F78" />
<circle cx="245.50" cy="676.56" r="5.2" fill="#0F9F78" />
<circle cx="274.27" cy="704.42" r="5.2" fill="#0F9F78" />
<circle cx="303.05" cy="679.65" r="5.2" fill="#0F9F78" />
<circle cx="324.63" cy="672.13" r="5.2" fill="#0F9F78" />
<circle cx="353.41" cy="664.17" r="5.2" fill="#0F9F78" />
<circle cx="374.99" cy="699.56" r="5.2" fill="#0F9F78" />
<path d="M123.2,557.1V566.0M118.2,557.1h10M118.2,566.0h10" stroke="#7B7B7B" stroke-width="1.3" fill="none"/>
<path d="M152.0,550.5V590.3M147.0,550.5h10M147.0,590.3h10" stroke="#7B7B7B" stroke-width="1.3" fill="none"/>
<path d="M173.6,550.5V568.2M168.6,550.5h10M168.6,568.2h10" stroke="#7B7B7B" stroke-width="1.3" fill="none"/>
<path d="M202.3,700.9V718.6M197.3,700.9h10M197.3,718.6h10" stroke="#7B7B7B" stroke-width="1.3" fill="none"/>
<path d="M223.9,692.9V746.0M218.9,692.9h10M218.9,746.0h10" stroke="#7B7B7B" stroke-width="1.3" fill="none"/>
<path d="M245.5,743.8V761.5M240.5,743.8h10M240.5,761.5h10" stroke="#7B7B7B" stroke-width="1.3" fill="none"/>
<path d="M274.3,774.7V788.0M269.3,774.7h10M269.3,788.0h10" stroke="#7B7B7B" stroke-width="1.3" fill="none"/>
<path d="M303.1,736.3V771.6M298.1,736.3h10M298.1,771.6h10" stroke="#7B7B7B" stroke-width="1.3" fill="none"/>
<path d="M324.6,728.3V754.8M319.6,728.3h10M319.6,754.8h10" stroke="#7B7B7B" stroke-width="1.3" fill="none"/>
<path d="M353.4,739.8V766.3M348.4,739.8h10M348.4,766.3h10" stroke="#7B7B7B" stroke-width="1.3" fill="none"/>
<path d="M375.0,767.2V784.9M370.0,767.2h10M370.0,784.9h10" stroke="#7B7B7B" stroke-width="1.3" fill="none"/>
<polyline points="123.20,561.56 151.98,570.40 173.56,559.35 202.33,709.73 223.92,719.46 245.50,752.63 274.27,781.38 303.05,753.96 324.63,741.57 353.41,753.07 374.99,776.07" fill="none" stroke="#7B7B7B" stroke-width="2.6" stroke-linejoin="round" />
<circle cx="123.20" cy="561.56" r="5.2" fill="#7B7B7B" />
<circle cx="151.98" cy="570.40" r="5.2" fill="#7B7B7B" />
<circle cx="173.56" cy="559.35" r="5.2" fill="#7B7B7B" />
<circle cx="202.33" cy="709.73" r="5.2" fill="#7B7B7B" />
<circle cx="223.92" cy="719.46" r="5.2" fill="#7B7B7B" />
<circle cx="245.50" cy="752.63" r="5.2" fill="#7B7B7B" />
<circle cx="274.27" cy="781.38" r="5.2" fill="#7B7B7B" />
<circle cx="303.05" cy="753.96" r="5.2" fill="#7B7B7B" />
<circle cx="324.63" cy="741.57" r="5.2" fill="#7B7B7B" />
<circle cx="353.41" cy="753.07" r="5.2" fill="#7B7B7B" />
<circle cx="374.99" cy="776.07" r="5.2" fill="#7B7B7B" />
<path d="M123.2,559.8V570.4M118.2,559.8h10M118.2,570.4h10" stroke="#D07DB0" stroke-width="1.3" fill="none"/>
<path d="M152.0,552.7V561.6M147.0,552.7h10M147.0,561.6h10" stroke="#D07DB0" stroke-width="1.3" fill="none"/>
<path d="M173.6,559.3V568.2M168.6,559.3h10M168.6,568.2h10" stroke="#D07DB0" stroke-width="1.3" fill="none"/>
<path d="M202.3,636.7V672.1M197.3,636.7h10M197.3,672.1h10" stroke="#D07DB0" stroke-width="1.3" fill="none"/>
<path d="M223.9,695.1V739.4M218.9,695.1h10M218.9,739.4h10" stroke="#D07DB0" stroke-width="1.3" fill="none"/>
<path d="M245.5,729.2V755.7M240.5,729.2h10M240.5,755.7h10" stroke="#D07DB0" stroke-width="1.3" fill="none"/>
<path d="M274.3,759.7V768.6M269.3,759.7h10M269.3,768.6h10" stroke="#D07DB0" stroke-width="1.3" fill="none"/>
<path d="M303.1,728.3V754.8M298.1,728.3h10M298.1,754.8h10" stroke="#D07DB0" stroke-width="1.3" fill="none"/>
<path d="M324.6,732.7V750.4M319.6,732.7h10M319.6,750.4h10" stroke="#D07DB0" stroke-width="1.3" fill="none"/>
<path d="M353.4,734.1V751.7M348.4,734.1h10M348.4,751.7h10" stroke="#D07DB0" stroke-width="1.3" fill="none"/>
<path d="M375.0,751.7V796.0M370.0,751.7h10M370.0,796.0h10" stroke="#D07DB0" stroke-width="1.3" fill="none"/>
<polyline points="123.20,565.10 151.98,557.13 173.56,563.77 202.33,654.44 223.92,717.25 245.50,742.46 274.27,764.13 303.05,741.57 324.63,741.57 353.41,742.90 374.99,773.86" fill="none" stroke="#D07DB0" stroke-width="2.6" stroke-linejoin="round" />
<circle cx="123.20" cy="565.10" r="5.2" fill="#D07DB0" />
<circle cx="151.98" cy="557.13" r="5.2" fill="#D07DB0" />
<circle cx="173.56" cy="563.77" r="5.2" fill="#D07DB0" />
<circle cx="202.33" cy="654.44" r="5.2" fill="#D07DB0" />
<circle cx="223.92" cy="717.25" r="5.2" fill="#D07DB0" />
<circle cx="245.50" cy="742.46" r="5.2" fill="#D07DB0" />
<circle cx="274.27" cy="764.13" r="5.2" fill="#D07DB0" />
<circle cx="303.05" cy="741.57" r="5.2" fill="#D07DB0" />
<circle cx="324.63" cy="741.57" r="5.2" fill="#D07DB0" />
<circle cx="353.41" cy="742.90" r="5.2" fill="#D07DB0" />
<circle cx="374.99" cy="773.86" r="5.2" fill="#D07DB0" />
<line x1="388.00" y1="609.60" x2="426.00" y2="609.60" stroke="#E8A20F" stroke-width="2.6" />
<circle cx="407.00" cy="609.60" r="5" fill="#E8A20F" />
<text x="434.50" y="617.10" font-size="21" >I41-mix</text>
<text x="434.50" y="641.90" font-size="21" >(<tspan font-style="italic">n</tspan> = 5)</text>
<line x1="388.00" y1="664.70" x2="426.00" y2="664.70" stroke="#0F9F78" stroke-width="2.6" />
<circle cx="407.00" cy="664.70" r="5" fill="#0F9F78" />
<text x="434.50" y="672.20" font-size="21" >K46-mix</text>
<text x="434.50" y="697.00" font-size="21" >(<tspan font-style="italic">n</tspan> = 5)</text>
<line x1="388.00" y1="720.30" x2="426.00" y2="720.30" stroke="#D07DB0" stroke-width="2.6" />
<circle cx="407.00" cy="720.30" r="5" fill="#D07DB0" />
<text x="434.50" y="727.80" font-size="21" >F31-mix</text>
<text x="434.50" y="752.60" font-size="21" >(<tspan font-style="italic">n</tspan> = 5)</text>
<line x1="388.00" y1="779.80" x2="426.00" y2="779.80" stroke="#7B7B7B" stroke-width="2.6" />
<circle cx="407.00" cy="779.80" r="5" fill="#7B7B7B" />
<text x="434.50" y="787.30" font-size="21" >F (<tspan font-style="italic">n</tspan> = 4)</text>
<line x1="530.40" y1="720.40" x2="530.40" y2="780.20" stroke="#000" stroke-width="2" />
<text x="546.70" y="783.10" font-size="16.8" transform="rotate(-90 546.70 783.10)"><tspan font-style="italic">P</tspan> = 0.77</text>
<line x1="553.30" y1="665.40" x2="553.30" y2="780.60" stroke="#000" stroke-width="2" />
<text x="569.60" y="759.10" font-size="16.8" transform="rotate(-90 569.60 759.10)"><tspan font-style="italic">P</tspan> = 0.044</text>
<line x1="575.90" y1="610.90" x2="575.90" y2="780.60" stroke="#000" stroke-width="2" />
<text x="592.20" y="736.70" font-size="16.8" transform="rotate(-90 592.20 736.70)"><tspan font-style="italic">P</tspan> = 0.0043</text>
<text x="688.00" y="25.20" font-size="33" font-weight="bold" >c</text>
<line x1="1085.80" y1="8.40" x2="1158.80" y2="8.40" stroke="#000" stroke-width="2.1" />
<text x="1079.30" y="14.60" font-size="16.2" text-anchor="end"><tspan font-style="italic">P</tspan> &lt; 0.0001</text>
<line x1="1104.20" y1="22.00" x2="1158.80" y2="22.00" stroke="#000" stroke-width="2.1" />
<text x="1097.70" y="28.20" font-size="16.2" text-anchor="end"><tspan font-style="italic">P</tspan> = 0.05</text>
<line x1="1122.20" y1="35.30" x2="1158.80" y2="35.30" stroke="#000" stroke-width="2.1" />
<text x="1115.70" y="41.50" font-size="16.2" text-anchor="end"><tspan font-style="italic">P</tspan> = 0.003</text>
<line x1="1142.20" y1="48.90" x2="1158.80" y2="48.90" stroke="#000" stroke-width="2.1" />
<text x="1135.70" y="55.10" font-size="16.2" text-anchor="end"><tspan font-style="italic">P</tspan> &lt; 0.0001</text>
<line x1="1161.80" y1="8.40" x2="1327.10" y2="8.40" stroke="#000" stroke-width="2.1" />
<text x="1332.60" y="14.60" font-size="16.2"><tspan font-style="italic">P</tspan> &lt; 0.0001</text>
<line x1="1161.80" y1="22.00" x2="1308.60" y2="22.00" stroke="#000" stroke-width="2.1" />
<text x="1314.10" y="28.20" font-size="16.2"><tspan font-style="italic">P</tspan> = 0.02</text>
<line x1="1161.80" y1="35.30" x2="1290.70" y2="35.30" stroke="#000" stroke-width="2.1" />
<text x="1296.20" y="41.50" font-size="16.2"><tspan font-style="italic">P</tspan> = 0.008</text>
<line x1="1161.80" y1="48.90" x2="1272.80" y2="48.90" stroke="#000" stroke-width="2.1" />
<text x="1278.30" y="55.10" font-size="16.2"><tspan font-style="italic">P</tspan> = 0.01</text>
<line x1="1161.80" y1="62.60" x2="1254.00" y2="62.60" stroke="#000" stroke-width="2.1" />
<text x="1259.50" y="68.80" font-size="16.2"><tspan font-style="italic">P</tspan> &lt; 0.0001</text>
<line x1="1161.80" y1="76.60" x2="1235.20" y2="76.60" stroke="#000" stroke-width="2.1" />
<text x="1240.70" y="82.80" font-size="16.2"><tspan font-style="italic">P</tspan> = 0.005</text>
<line x1="1161.80" y1="90.40" x2="1216.70" y2="90.40" stroke="#000" stroke-width="2.1" />
<text x="1222.20" y="96.60" font-size="16.2"><tspan font-style="italic">P</tspan> &lt; 0.0001</text>
<line x1="1161.80" y1="104.40" x2="1198.20" y2="104.40" stroke="#000" stroke-width="2.1" />
<text x="1203.70" y="110.60" font-size="16.2"><tspan font-style="italic">P</tspan> &lt; 0.0001</text>
<line x1="1161.80" y1="118.70" x2="1179.40" y2="118.70" stroke="#000" stroke-width="2.1" />
<text x="1184.90" y="124.90" font-size="16.2"><tspan font-style="italic">P</tspan> &lt; 0.0001</text>
<line x1="1075.80" y1="78.40" x2="1075.80" y2="293.80" stroke="#000" stroke-width="2" />
<line x1="1069.30" y1="293.80" x2="1075.80" y2="293.80" stroke="#000" stroke-width="1.6" />
<line x1="1072.30" y1="282.99" x2="1075.80" y2="282.99" stroke="#555" stroke-width="1.0" />
<line x1="1072.30" y1="276.67" x2="1075.80" y2="276.67" stroke="#555" stroke-width="1.0" />
<line x1="1072.30" y1="272.19" x2="1075.80" y2="272.19" stroke="#555" stroke-width="1.0" />
<line x1="1072.30" y1="268.71" x2="1075.80" y2="268.71" stroke="#555" stroke-width="1.0" />
<line x1="1072.30" y1="265.86" x2="1075.80" y2="265.86" stroke="#555" stroke-width="1.0" />
<line x1="1072.30" y1="263.46" x2="1075.80" y2="263.46" stroke="#555" stroke-width="1.0" />
<line x1="1072.30" y1="261.38" x2="1075.80" y2="261.38" stroke="#555" stroke-width="1.0" />
<line x1="1072.30" y1="259.54" x2="1075.80" y2="259.54" stroke="#555" stroke-width="1.0" />
<text x="1062.50" y="302.30" font-size="20.5" text-anchor="end">10<tspan font-size="15" dy="-7.5">4</tspan></text>
<line x1="1069.30" y1="257.90" x2="1075.80" y2="257.90" stroke="#000" stroke-width="1.6" />
<line x1="1072.30" y1="247.09" x2="1075.80" y2="247.09" stroke="#555" stroke-width="1.0" />
<line x1="1072.30" y1="240.77" x2="1075.80" y2="240.77" stroke="#555" stroke-width="1.0" />
<line x1="1072.30" y1="236.29" x2="1075.80" y2="236.29" stroke="#555" stroke-width="1.0" />
<line x1="1072.30" y1="232.81" x2="1075.80" y2="232.81" stroke="#555" stroke-width="1.0" />
<line x1="1072.30" y1="229.96" x2="1075.80" y2="229.96" stroke="#555" stroke-width="1.0" />
<line x1="1072.30" y1="227.56" x2="1075.80" y2="227.56" stroke="#555" stroke-width="1.0" />
<line x1="1072.30" y1="225.48" x2="1075.80" y2="225.48" stroke="#555" stroke-width="1.0" />
<line x1="1072.30" y1="223.64" x2="1075.80" y2="223.64" stroke="#555" stroke-width="1.0" />
<text x="1062.50" y="266.40" font-size="20.5" text-anchor="end">10<tspan font-size="15" dy="-7.5">5</tspan></text>
<line x1="1069.30" y1="222.00" x2="1075.80" y2="222.00" stroke="#000" stroke-width="1.6" />
<line x1="1072.30" y1="211.19" x2="1075.80" y2="211.19" stroke="#555" stroke-width="1.0" />
<line x1="1072.30" y1="204.87" x2="1075.80" y2="204.87" stroke="#555" stroke-width="1.0" />
<line x1="1072.30" y1="200.39" x2="1075.80" y2="200.39" stroke="#555" stroke-width="1.0" />
<line x1="1072.30" y1="196.91" x2="1075.80" y2="196.91" stroke="#555" stroke-width="1.0" />
<line x1="1072.30" y1="194.06" x2="1075.80" y2="194.06" stroke="#555" stroke-width="1.0" />
<line x1="1072.30" y1="191.66" x2="1075.80" y2="191.66" stroke="#555" stroke-width="1.0" />
<line x1="1072.30" y1="189.58" x2="1075.80" y2="189.58" stroke="#555" stroke-width="1.0" />
<line x1="1072.30" y1="187.74" x2="1075.80" y2="187.74" stroke="#555" stroke-width="1.0" />
<text x="1062.50" y="230.50" font-size="20.5" text-anchor="end">10<tspan font-size="15" dy="-7.5">6</tspan></text>
<line x1="1069.30" y1="186.10" x2="1075.80" y2="186.10" stroke="#000" stroke-width="1.6" />
<line x1="1072.30" y1="175.29" x2="1075.80" y2="175.29" stroke="#555" stroke-width="1.0" />
<line x1="1072.30" y1="168.97" x2="1075.80" y2="168.97" stroke="#555" stroke-width="1.0" />
<line x1="1072.30" y1="164.49" x2="1075.80" y2="164.49" stroke="#555" stroke-width="1.0" />
<line x1="1072.30" y1="161.01" x2="1075.80" y2="161.01" stroke="#555" stroke-width="1.0" />
<line x1="1072.30" y1="158.16" x2="1075.80" y2="158.16" stroke="#555" stroke-width="1.0" />
<line x1="1072.30" y1="155.76" x2="1075.80" y2="155.76" stroke="#555" stroke-width="1.0" />
<line x1="1072.30" y1="153.68" x2="1075.80" y2="153.68" stroke="#555" stroke-width="1.0" />
<line x1="1072.30" y1="151.84" x2="1075.80" y2="151.84" stroke="#555" stroke-width="1.0" />
<text x="1062.50" y="194.60" font-size="20.5" text-anchor="end">10<tspan font-size="15" dy="-7.5">7</tspan></text>
<line x1="1069.30" y1="150.20" x2="1075.80" y2="150.20" stroke="#000" stroke-width="1.6" />
<line x1="1072.30" y1="139.39" x2="1075.80" y2="139.39" stroke="#555" stroke-width="1.0" />
<line x1="1072.30" y1="133.07" x2="1075.80" y2="133.07" stroke="#555" stroke-width="1.0" />
<line x1="1072.30" y1="128.59" x2="1075.80" y2="128.59" stroke="#555" stroke-width="1.0" />
<line x1="1072.30" y1="125.11" x2="1075.80" y2="125.11" stroke="#555" stroke-width="1.0" />
<line x1="1072.30" y1="122.26" x2="1075.80" y2="122.26" stroke="#555" stroke-width="1.0" />
<line x1="1072.30" y1="119.86" x2="1075.80" y2="119.86" stroke="#555" stroke-width="1.0" />
<line x1="1072.30" y1="117.78" x2="1075.80" y2="117.78" stroke="#555" stroke-width="1.0" />
<line x1="1072.30" y1="115.94" x2="1075.80" y2="115.94" stroke="#555" stroke-width="1.0" />
<text x="1062.50" y="158.70" font-size="20.5" text-anchor="end">10<tspan font-size="15" dy="-7.5">8</tspan></text>
<line x1="1069.30" y1="114.30" x2="1075.80" y2="114.30" stroke="#000" stroke-width="1.6" />
<line x1="1072.30" y1="103.49" x2="1075.80" y2="103.49" stroke="#555" stroke-width="1.0" />
<line x1="1072.30" y1="97.17" x2="1075.80" y2="97.17" stroke="#555" stroke-width="1.0" />
<line x1="1072.30" y1="92.69" x2="1075.80" y2="92.69" stroke="#555" stroke-width="1.0" />
<line x1="1072.30" y1="89.21" x2="1075.80" y2="89.21" stroke="#555" stroke-width="1.0" />
<line x1="1072.30" y1="86.36" x2="1075.80" y2="86.36" stroke="#555" stroke-width="1.0" />
<line x1="1072.30" y1="83.96" x2="1075.80" y2="83.96" stroke="#555" stroke-width="1.0" />
<line x1="1072.30" y1="81.88" x2="1075.80" y2="81.88" stroke="#555" stroke-width="1.0" />
<line x1="1072.30" y1="80.04" x2="1075.80" y2="80.04" stroke="#555" stroke-width="1.0" />
<text x="1062.50" y="122.80" font-size="20.5" text-anchor="end">10<tspan font-size="15" dy="-7.5">9</tspan></text>
<line x1="1069.30" y1="78.40" x2="1075.80" y2="78.40" stroke="#000" stroke-width="1.6" />
<text x="1062.50" y="86.90" font-size="20.5" text-anchor="end">10<tspan font-size="15" dy="-7.5">10</tspan></text>
<line x1="1074.80" y1="293.80" x2="1342.00" y2="293.80" stroke="#000" stroke-width="2" />
<text x="980.3" y="188.9" font-size="20.5" text-anchor="middle" transform="rotate(-90 980.3 188.9)"><tspan font-style="italic">Klebsiella</tspan> CFU</text>
<text x="1006.2" y="190.4" font-size="20.5" text-anchor="middle" transform="rotate(-90 1006.2 190.4)">(per g faeces)</text>
<text x="990.00" y="322.00" font-size="20.5" textLength="70.5" lengthAdjust="spacingAndGlyphs" >Kp-2H7</text>
<rect x="1082.30" y="119.33" width="12.40" height="174.47" fill="#000000" stroke="#000" stroke-width="1.7"/>
<line x1="1088.50" y1="293.80" x2="1088.50" y2="300.60" stroke="#6e6e6e" stroke-width="1.6" />
<text x="1088.50" y="322.00" font-size="20.5" text-anchor="middle" >+</text>
<rect x="1100.71" y="237.44" width="12.40" height="56.36" fill="#CC78A8" stroke="#000" stroke-width="1.7"/>
<line x1="1106.91" y1="293.80" x2="1106.91" y2="300.60" stroke="#6e6e6e" stroke-width="1.6" />
<text x="1106.91" y="322.00" font-size="20.5" text-anchor="middle" >+</text>
<rect x="1119.13" y="201.18" width="12.40" height="92.62" fill="#FCD6A6" stroke="#000" stroke-width="1.7"/>
<line x1="1125.33" y1="293.80" x2="1125.33" y2="300.60" stroke="#6e6e6e" stroke-width="1.6" />
<text x="1125.33" y="322.00" font-size="20.5" text-anchor="middle" >+</text>
<rect x="1137.54" y="113.22" width="12.40" height="180.58" fill="#FCD6A6" stroke="#000" stroke-width="1.7"/>
<line x1="1143.74" y1="293.80" x2="1143.74" y2="300.60" stroke="#6e6e6e" stroke-width="1.6" />
<text x="1143.74" y="322.00" font-size="20.5" text-anchor="middle" >+</text>
<rect x="1155.96" y="246.77" width="12.40" height="47.03" fill="#D65F00" stroke="#000" stroke-width="1.7"/>
<line x1="1162.16" y1="293.80" x2="1162.16" y2="300.60" stroke="#6e6e6e" stroke-width="1.6" />
<text x="1162.16" y="322.00" font-size="20.5" text-anchor="middle" >+</text>
<rect x="1174.38" y="168.15" width="12.40" height="125.65" fill="#0072B2" stroke="#000" stroke-width="1.7"/>
<line x1="1180.58" y1="293.80" x2="1180.58" y2="300.60" stroke="#6e6e6e" stroke-width="1.6" />
<text x="1180.58" y="322.00" font-size="20.5" text-anchor="middle" >+</text>
<rect x="1192.79" y="208.72" width="12.40" height="85.08" fill="#7EC6E4" stroke="#000" stroke-width="1.7"/>
<line x1="1198.99" y1="293.80" x2="1198.99" y2="300.60" stroke="#6e6e6e" stroke-width="1.6" />
<text x="1198.99" y="322.00" font-size="20.5" text-anchor="middle" >+</text>
<rect x="1211.20" y="206.92" width="12.40" height="86.88" fill="#7EC6E4" stroke="#000" stroke-width="1.7"/>
<line x1="1217.40" y1="293.80" x2="1217.40" y2="300.60" stroke="#6e6e6e" stroke-width="1.6" />
<text x="1217.40" y="322.00" font-size="20.5" text-anchor="middle" >+</text>
<rect x="1229.62" y="220.56" width="12.40" height="73.24" fill="#7EC6E4" stroke="#000" stroke-width="1.7"/>
<line x1="1235.82" y1="293.80" x2="1235.82" y2="300.60" stroke="#6e6e6e" stroke-width="1.6" />
<text x="1235.82" y="322.00" font-size="20.5" text-anchor="middle" >+</text>
<rect x="1248.03" y="177.84" width="12.40" height="115.96" fill="#7EC6E4" stroke="#000" stroke-width="1.7"/>
<line x1="1254.23" y1="293.80" x2="1254.23" y2="300.60" stroke="#6e6e6e" stroke-width="1.6" />
<text x="1254.23" y="322.00" font-size="20.5" text-anchor="middle" >+</text>
<rect x="1266.45" y="219.13" width="12.40" height="74.67" fill="#A9CB77" stroke="#000" stroke-width="1.7"/>
<line x1="1272.65" y1="293.80" x2="1272.65" y2="300.60" stroke="#6e6e6e" stroke-width="1.6" />
<text x="1272.65" y="322.00" font-size="20.5" text-anchor="middle" >+</text>
<rect x="1284.87" y="213.38" width="12.40" height="80.42" fill="#A9CB77" stroke="#000" stroke-width="1.7"/>
<line x1="1291.07" y1="293.80" x2="1291.07" y2="300.60" stroke="#6e6e6e" stroke-width="1.6" />
<text x="1291.07" y="322.00" font-size="20.5" text-anchor="middle" >+</text>
<rect x="1303.28" y="219.13" width="12.40" height="74.67" fill="#A9CB77" stroke="#000" stroke-width="1.7"/>
<line x1="1309.48" y1="293.80" x2="1309.48" y2="300.60" stroke="#6e6e6e" stroke-width="1.6" />
<text x="1309.48" y="322.00" font-size="20.5" text-anchor="middle" >+</text>
<rect x="1321.69" y="192.20" width="12.40" height="101.60" fill="#B3A2C7" stroke="#000" stroke-width="1.7"/>
<line x1="1327.89" y1="293.80" x2="1327.89" y2="300.60" stroke="#6e6e6e" stroke-width="1.6" />
<text x="1327.89" y="322.00" font-size="20.5" text-anchor="middle" >+</text>
<line x1="1088.50" y1="95.30" x2="1088.50" y2="143.35" stroke="#000" stroke-width="1.1" />
<line x1="1085.50" y1="95.30" x2="1091.50" y2="95.30" stroke="#000" stroke-width="1.1" />
<circle cx="1087.16" cy="85.00" r="2.9" fill="#fff" stroke="#000" stroke-width="1.15"/>
<circle cx="1085.85" cy="88.00" r="2.9" fill="#fff" stroke="#000" stroke-width="1.15"/>
<circle cx="1089.65" cy="90.00" r="2.9" fill="#fff" stroke="#000" stroke-width="1.15"/>
<circle cx="1085.25" cy="92.00" r="2.9" fill="#fff" stroke="#000" stroke-width="1.15"/>
<circle cx="1088.77" cy="93.00" r="2.9" fill="#fff" stroke="#000" stroke-width="1.15"/>
<circle cx="1087.48" cy="95.00" r="2.9" fill="#fff" stroke="#000" stroke-width="1.15"/>
<circle cx="1085.14" cy="99.00" r="2.9" fill="#fff" stroke="#000" stroke-width="1.15"/>
<circle cx="1088.56" cy="104.00" r="2.9" fill="#fff" stroke="#000" stroke-width="1.15"/>
<circle cx="1084.98" cy="108.00" r="2.9" fill="#fff" stroke="#000" stroke-width="1.15"/>
<circle cx="1088.00" cy="112.00" r="2.9" fill="#fff" stroke="#000" stroke-width="1.15"/>
<circle cx="1085.23" cy="118.00" r="2.9" fill="#fff" stroke="#000" stroke-width="1.15"/>
<circle cx="1085.39" cy="122.00" r="2.9" fill="#fff" stroke="#000" stroke-width="1.15"/>
<circle cx="1087.93" cy="125.00" r="2.9" fill="#fff" stroke="#000" stroke-width="1.15"/>
<circle cx="1090.98" cy="128.00" r="2.9" fill="#fff" stroke="#000" stroke-width="1.15"/>
<circle cx="1085.64" cy="130.00" r="2.9" fill="#fff" stroke="#000" stroke-width="1.15"/>
<circle cx="1086.40" cy="133.00" r="2.9" fill="#fff" stroke="#000" stroke-width="1.15"/>
<circle cx="1089.47" cy="136.00" r="2.9" fill="#fff" stroke="#000" stroke-width="1.15"/>
<circle cx="1091.90" cy="140.00" r="2.9" fill="#fff" stroke="#000" stroke-width="1.15"/>
<circle cx="1089.09" cy="141.00" r="2.9" fill="#fff" stroke="#000" stroke-width="1.15"/>
<line x1="1106.91" y1="208.43" x2="1106.91" y2="266.44" stroke="#000" stroke-width="1.1" />
<line x1="1103.91" y1="208.43" x2="1109.91" y2="208.43" stroke="#000" stroke-width="1.1" />
<circle cx="1106.13" cy="196.00" r="2.9" fill="#fff" stroke="#000" stroke-width="1.15"/>
<circle cx="1110.53" cy="200.00" r="2.9" fill="#fff" stroke="#000" stroke-width="1.15"/>
<circle cx="1103.47" cy="204.00" r="2.9" fill="#fff" stroke="#000" stroke-width="1.15"/>
<circle cx="1109.64" cy="212.00" r="2.9" fill="#fff" stroke="#000" stroke-width="1.15"/>
<circle cx="1105.32" cy="222.00" r="2.9" fill="#fff" stroke="#000" stroke-width="1.15"/>
<circle cx="1104.21" cy="226.00" r="2.9" fill="#fff" stroke="#000" stroke-width="1.15"/>
<circle cx="1104.01" cy="229.00" r="2.9" fill="#fff" stroke="#000" stroke-width="1.15"/>
<circle cx="1105.46" cy="231.00" r="2.9" fill="#fff" stroke="#000" stroke-width="1.15"/>
<circle cx="1109.32" cy="233.00" r="2.9" fill="#fff" stroke="#000" stroke-width="1.15"/>
<circle cx="1104.49" cy="235.00" r="2.9" fill="#fff" stroke="#000" stroke-width="1.15"/>
<circle cx="1107.54" cy="237.00" r="2.9" fill="#fff" stroke="#000" stroke-width="1.15"/>
<circle cx="1107.97" cy="239.00" r="2.9" fill="#fff" stroke="#000" stroke-width="1.15"/>
<circle cx="1105.95" cy="241.00" r="2.9" fill="#fff" stroke="#000" stroke-width="1.15"/>
<circle cx="1107.28" cy="243.00" r="2.9" fill="#fff" stroke="#000" stroke-width="1.15"/>
<circle cx="1103.59" cy="245.00" r="2.9" fill="#fff" stroke="#000" stroke-width="1.15"/>
<circle cx="1103.57" cy="246.00" r="2.9" fill="#fff" stroke="#000" stroke-width="1.15"/>
<circle cx="1104.68" cy="248.00" r="2.9" fill="#fff" stroke="#000" stroke-width="1.15"/>
<circle cx="1108.29" cy="250.00" r="2.9" fill="#fff" stroke="#000" stroke-width="1.15"/>
<circle cx="1106.36" cy="252.00" r="2.9" fill="#fff" stroke="#000" stroke-width="1.15"/>
<circle cx="1105.50" cy="254.00" r="2.9" fill="#fff" stroke="#000" stroke-width="1.15"/>
<circle cx="1107.57" cy="256.00" r="2.9" fill="#fff" stroke="#000" stroke-width="1.15"/>
<circle cx="1106.56" cy="258.00" r="2.9" fill="#fff" stroke="#000" stroke-width="1.15"/>
<circle cx="1105.39" cy="260.00" r="2.9" fill="#fff" stroke="#000" stroke-width="1.15"/>
<circle cx="1109.15" cy="262.00" r="2.9" fill="#fff" stroke="#000" stroke-width="1.15"/>
<circle cx="1108.43" cy="264.00" r="2.9" fill="#fff" stroke="#000" stroke-width="1.15"/>
<circle cx="1104.97" cy="266.00" r="2.9" fill="#fff" stroke="#000" stroke-width="1.15"/>
<circle cx="1107.48" cy="268.00" r="2.9" fill="#fff" stroke="#000" stroke-width="1.15"/>
<circle cx="1107.11" cy="271.00" r="2.9" fill="#fff" stroke="#000" stroke-width="1.15"/>
<circle cx="1109.77" cy="249.00" r="2.9" fill="#fff" stroke="#000" stroke-width="1.15"/>
<circle cx="1108.66" cy="244.00" r="2.9" fill="#fff" stroke="#000" stroke-width="1.15"/>
<line x1="1125.33" y1="193.77" x2="1125.33" y2="208.58" stroke="#000" stroke-width="1.1" />
<line x1="1122.33" y1="193.77" x2="1128.33" y2="193.77" stroke="#000" stroke-width="1.1" />
<circle cx="1125.33" cy="190.60" r="2.9" fill="#fff" stroke="#000" stroke-width="1.15"/>
<circle cx="1123.85" cy="196.00" r="2.9" fill="#fff" stroke="#000" stroke-width="1.15"/>
<circle cx="1125.33" cy="201.30" r="2.9" fill="#fff" stroke="#000" stroke-width="1.15"/>
<circle cx="1128.69" cy="219.30" r="2.9" fill="#fff" stroke="#000" stroke-width="1.15"/>
<circle cx="1125.33" cy="231.00" r="2.9" fill="#fff" stroke="#000" stroke-width="1.15"/>
<line x1="1143.74" y1="99.21" x2="1143.74" y2="127.24" stroke="#000" stroke-width="1.1" />
<line x1="1140.74" y1="99.21" x2="1146.74" y2="99.21" stroke="#000" stroke-width="1.1" />
<circle cx="1143.74" cy="93.20" r="2.9" fill="#fff" stroke="#000" stroke-width="1.15"/>
<circle cx="1141.07" cy="107.40" r="2.9" fill="#fff" stroke="#000" stroke-width="1.15"/>
<circle cx="1143.74" cy="123.60" r="2.9" fill="#fff" stroke="#000" stroke-width="1.15"/>
<circle cx="1143.17" cy="131.90" r="2.9" fill="#fff" stroke="#000" stroke-width="1.15"/>
<line x1="1162.16" y1="229.78" x2="1162.16" y2="263.76" stroke="#000" stroke-width="1.1" />
<line x1="1159.16" y1="229.78" x2="1165.16" y2="229.78" stroke="#000" stroke-width="1.1" />
<circle cx="1164.11" cy="222.50" r="2.9" fill="#fff" stroke="#000" stroke-width="1.15"/>
<circle cx="1159.52" cy="225.00" r="2.9" fill="#fff" stroke="#000" stroke-width="1.15"/>
<circle cx="1162.08" cy="228.00" r="2.9" fill="#fff" stroke="#000" stroke-width="1.15"/>
<circle cx="1158.66" cy="230.00" r="2.9" fill="#fff" stroke="#000" stroke-width="1.15"/>
<circle cx="1163.44" cy="232.00" r="2.9" fill="#fff" stroke="#000" stroke-width="1.15"/>
<circle cx="1164.17" cy="233.00" r="2.9" fill="#fff" stroke="#000" stroke-width="1.15"/>
<circle cx="1162.71" cy="235.00" r="2.9" fill="#fff" stroke="#000" stroke-width="1.15"/>
<circle cx="1165.01" cy="236.00" r="2.9" fill="#fff" stroke="#000" stroke-width="1.15"/>
<circle cx="1160.74" cy="238.00" r="2.9" fill="#fff" stroke="#000" stroke-width="1.15"/>
<circle cx="1163.64" cy="239.00" r="2.9" fill="#fff" stroke="#000" stroke-width="1.15"/>
<circle cx="1162.88" cy="240.00" r="2.9" fill="#fff" stroke="#000" stroke-width="1.15"/>
<circle cx="1162.77" cy="241.00" r="2.9" fill="#fff" stroke="#000" stroke-width="1.15"/>
<circle cx="1161.83" cy="242.00" r="2.9" fill="#fff" stroke="#000" stroke-width="1.15"/>
<circle cx="1164.74" cy="243.00" r="2.9" fill="#fff" stroke="#000" stroke-width="1.15"/>
<circle cx="1165.54" cy="244.00" r="2.9" fill="#fff" stroke="#000" stroke-width="1.15"/>
<circle cx="1161.96" cy="245.00" r="2.9" fill="#fff" stroke="#000" stroke-width="1.15"/>
<circle cx="1163.41" cy="246.00" r="2.9" fill="#fff" stroke="#000" stroke-width="1.15"/>
<circle cx="1158.82" cy="247.00" r="2.9" fill="#fff" stroke="#000" stroke-width="1.15"/>
<circle cx="1163.69" cy="248.00" r="2.9" fill="#fff" stroke="#000" stroke-width="1.15"/>
<circle cx="1163.28" cy="249.00" r="2.9" fill="#fff" stroke="#000" stroke-width="1.15"/>
<circle cx="1165.91" cy="250.00" r="2.9" fill="#fff" stroke="#000" stroke-width="1.15"/>
<circle cx="1164.61" cy="251.00" r="2.9" fill="#fff" stroke="#000" stroke-width="1.15"/>
<circle cx="1160.52" cy="252.00" r="2.9" fill="#fff" stroke="#000" stroke-width="1.15"/>
<circle cx="1161.29" cy="253.00" r="2.9" fill="#fff" stroke="#000" stroke-width="1.15"/>
<circle cx="1163.44" cy="254.00" r="2.9" fill="#fff" stroke="#000" stroke-width="1.15"/>
<circle cx="1158.53" cy="255.00" r="2.9" fill="#fff" stroke="#000" stroke-width="1.15"/>
<circle cx="1161.87" cy="256.00" r="2.9" fill="#fff" stroke="#000" stroke-width="1.15"/>
<circle cx="1159.64" cy="258.00" r="2.9" fill="#fff" stroke="#000" stroke-width="1.15"/>
<circle cx="1159.25" cy="259.00" r="2.9" fill="#fff" stroke="#000" stroke-width="1.15"/>
<circle cx="1158.81" cy="260.00" r="2.9" fill="#fff" stroke="#000" stroke-width="1.15"/>
<circle cx="1164.20" cy="262.00" r="2.9" fill="#fff" stroke="#000" stroke-width="1.15"/>
<circle cx="1159.34" cy="264.00" r="2.9" fill="#fff" stroke="#000" stroke-width="1.15"/>
<circle cx="1160.24" cy="266.00" r="2.9" fill="#fff" stroke="#000" stroke-width="1.15"/>
<circle cx="1161.33" cy="268.00" r="2.9" fill="#fff" stroke="#000" stroke-width="1.15"/>
<circle cx="1164.98" cy="270.00" r="2.9" fill="#fff" stroke="#000" stroke-width="1.15"/>
<circle cx="1158.97" cy="272.00" r="2.9" fill="#fff" stroke="#000" stroke-width="1.15"/>
<circle cx="1161.77" cy="276.00" r="2.9" fill="#fff" stroke="#000" stroke-width="1.15"/>
<circle cx="1162.54" cy="280.00" r="2.9" fill="#fff" stroke="#000" stroke-width="1.15"/>
<circle cx="1165.07" cy="283.00" r="2.9" fill="#fff" stroke="#000" stroke-width="1.15"/>
<line x1="1180.58" y1="149.15" x2="1180.58" y2="187.16" stroke="#000" stroke-width="1.1" />
<line x1="1177.58" y1="149.15" x2="1183.58" y2="149.15" stroke="#000" stroke-width="1.1" />
<circle cx="1183.00" cy="141.00" r="2.9" fill="#fff" stroke="#000" stroke-width="1.15"/>
<circle cx="1183.34" cy="145.00" r="2.9" fill="#fff" stroke="#000" stroke-width="1.15"/>
<circle cx="1178.89" cy="148.00" r="2.9" fill="#fff" stroke="#000" stroke-width="1.15"/>
<circle cx="1179.93" cy="151.00" r="2.9" fill="#fff" stroke="#000" stroke-width="1.15"/>
<circle cx="1179.50" cy="153.00" r="2.9" fill="#fff" stroke="#000" stroke-width="1.15"/>
<circle cx="1183.49" cy="156.00" r="2.9" fill="#fff" stroke="#000" stroke-width="1.15"/>
<circle cx="1184.05" cy="160.00" r="2.9" fill="#fff" stroke="#000" stroke-width="1.15"/>
<circle cx="1177.92" cy="165.00" r="2.9" fill="#fff" stroke="#000" stroke-width="1.15"/>
<circle cx="1178.11" cy="171.00" r="2.9" fill="#fff" stroke="#000" stroke-width="1.15"/>
<circle cx="1178.54" cy="175.00" r="2.9" fill="#fff" stroke="#000" stroke-width="1.15"/>
<circle cx="1178.55" cy="178.00" r="2.9" fill="#fff" stroke="#000" stroke-width="1.15"/>
<circle cx="1180.46" cy="191.70" r="2.9" fill="#fff" stroke="#000" stroke-width="1.15"/>
<line x1="1198.99" y1="189.74" x2="1198.99" y2="227.70" stroke="#000" stroke-width="1.1" />
<line x1="1195.99" y1="189.74" x2="1201.99" y2="189.74" stroke="#000" stroke-width="1.1" />
<circle cx="1199.67" cy="181.60" r="2.9" fill="#fff" stroke="#000" stroke-width="1.15"/>
<circle cx="1197.19" cy="185.00" r="2.9" fill="#fff" stroke="#000" stroke-width="1.15"/>
<circle cx="1195.22" cy="195.00" r="2.9" fill="#fff" stroke="#000" stroke-width="1.15"/>
<circle cx="1198.37" cy="207.00" r="2.9" fill="#fff" stroke="#000" stroke-width="1.15"/>
<circle cx="1198.00" cy="209.00" r="2.9" fill="#fff" stroke="#000" stroke-width="1.15"/>
<circle cx="1199.49" cy="225.00" r="2.9" fill="#fff" stroke="#000" stroke-width="1.15"/>
<circle cx="1202.43" cy="228.00" r="2.9" fill="#fff" stroke="#000" stroke-width="1.15"/>
<circle cx="1200.44" cy="239.00" r="2.9" fill="#fff" stroke="#000" stroke-width="1.15"/>
<line x1="1217.40" y1="192.98" x2="1217.40" y2="220.87" stroke="#000" stroke-width="1.1" />
<line x1="1214.40" y1="192.98" x2="1220.40" y2="192.98" stroke="#000" stroke-width="1.1" />
<circle cx="1217.52" cy="187.00" r="2.9" fill="#fff" stroke="#000" stroke-width="1.15"/>
<circle cx="1218.30" cy="191.00" r="2.9" fill="#fff" stroke="#000" stroke-width="1.15"/>
<circle cx="1218.74" cy="195.00" r="2.9" fill="#fff" stroke="#000" stroke-width="1.15"/>
<circle cx="1214.02" cy="204.00" r="2.9" fill="#fff" stroke="#000" stroke-width="1.15"/>
<circle cx="1220.44" cy="207.00" r="2.9" fill="#fff" stroke="#000" stroke-width="1.15"/>
<circle cx="1219.53" cy="208.00" r="2.9" fill="#fff" stroke="#000" stroke-width="1.15"/>
<circle cx="1220.25" cy="226.80" r="2.9" fill="#fff" stroke="#000" stroke-width="1.15"/>
<line x1="1235.82" y1="215.27" x2="1235.82" y2="225.86" stroke="#000" stroke-width="1.1" />
<line x1="1232.82" y1="215.27" x2="1238.82" y2="215.27" stroke="#000" stroke-width="1.1" />
<circle cx="1238.08" cy="213.00" r="2.9" fill="#fff" stroke="#000" stroke-width="1.15"/>
<circle cx="1235.00" cy="215.00" r="2.9" fill="#fff" stroke="#000" stroke-width="1.15"/>
<circle cx="1235.05" cy="217.00" r="2.9" fill="#fff" stroke="#000" stroke-width="1.15"/>
<circle cx="1232.81" cy="219.00" r="2.9" fill="#fff" stroke="#000" stroke-width="1.15"/>
<circle cx="1236.84" cy="221.00" r="2.9" fill="#fff" stroke="#000" stroke-width="1.15"/>
<circle cx="1232.49" cy="224.00" r="2.9" fill="#fff" stroke="#000" stroke-width="1.15"/>
<circle cx="1232.53" cy="227.00" r="2.9" fill="#fff" stroke="#000" stroke-width="1.15"/>
<circle cx="1233.61" cy="230.00" r="2.9" fill="#fff" stroke="#000" stroke-width="1.15"/>
<line x1="1254.23" y1="170.81" x2="1254.23" y2="184.87" stroke="#000" stroke-width="1.1" />
<line x1="1251.23" y1="170.81" x2="1257.23" y2="170.81" stroke="#000" stroke-width="1.1" />
<circle cx="1251.67" cy="167.80" r="2.9" fill="#fff" stroke="#000" stroke-width="1.15"/>
<circle cx="1253.02" cy="173.00" r="2.9" fill="#fff" stroke="#000" stroke-width="1.15"/>
<circle cx="1250.83" cy="176.00" r="2.9" fill="#fff" stroke="#000" stroke-width="1.15"/>
<circle cx="1250.44" cy="179.00" r="2.9" fill="#fff" stroke="#000" stroke-width="1.15"/>
<circle cx="1251.58" cy="183.00" r="2.9" fill="#fff" stroke="#000" stroke-width="1.15"/>
<circle cx="1251.21" cy="198.00" r="2.9" fill="#fff" stroke="#000" stroke-width="1.15"/>
<circle cx="1253.20" cy="201.00" r="2.9" fill="#fff" stroke="#000" stroke-width="1.15"/>
<circle cx="1250.63" cy="207.60" r="2.9" fill="#fff" stroke="#000" stroke-width="1.15"/>
<line x1="1272.65" y1="205.88" x2="1272.65" y2="232.38" stroke="#000" stroke-width="1.1" />
<line x1="1269.65" y1="205.88" x2="1275.65" y2="205.88" stroke="#000" stroke-width="1.1" />
<circle cx="1272.65" cy="200.20" r="2.9" fill="#fff" stroke="#000" stroke-width="1.15"/>
<circle cx="1275.27" cy="214.00" r="2.9" fill="#fff" stroke="#000" stroke-width="1.15"/>
<circle cx="1272.65" cy="224.70" r="2.9" fill="#fff" stroke="#000" stroke-width="1.15"/>
<circle cx="1273.45" cy="228.90" r="2.9" fill="#fff" stroke="#000" stroke-width="1.15"/>
<line x1="1291.07" y1="207.17" x2="1291.07" y2="219.60" stroke="#000" stroke-width="1.1" />
<line x1="1288.07" y1="207.17" x2="1294.07" y2="207.17" stroke="#000" stroke-width="1.1" />
<circle cx="1291.07" cy="204.50" r="2.9" fill="#fff" stroke="#000" stroke-width="1.15"/>
<circle cx="1288.60" cy="206.60" r="2.9" fill="#fff" stroke="#000" stroke-width="1.15"/>
<circle cx="1291.07" cy="218.30" r="2.9" fill="#fff" stroke="#000" stroke-width="1.15"/>
<circle cx="1289.33" cy="223.60" r="2.9" fill="#fff" stroke="#000" stroke-width="1.15"/>
<line x1="1309.48" y1="215.54" x2="1309.48" y2="222.72" stroke="#000" stroke-width="1.1" />
<line x1="1306.48" y1="215.54" x2="1312.48" y2="215.54" stroke="#000" stroke-width="1.1" />
<circle cx="1309.48" cy="214.00" r="2.9" fill="#fff" stroke="#000" stroke-width="1.15"/>
<circle cx="1308.41" cy="214.50" r="2.9" fill="#fff" stroke="#000" stroke-width="1.15"/>
<circle cx="1309.48" cy="223.60" r="2.9" fill="#fff" stroke="#000" stroke-width="1.15"/>
<circle cx="1308.53" cy="228.90" r="2.9" fill="#fff" stroke="#000" stroke-width="1.15"/>
<line x1="1327.89" y1="180.86" x2="1327.89" y2="203.55" stroke="#000" stroke-width="1.1" />
<line x1="1324.89" y1="180.86" x2="1330.89" y2="180.86" stroke="#000" stroke-width="1.1" />
<circle cx="1325.03" cy="176.00" r="2.9" fill="#fff" stroke="#000" stroke-width="1.15"/>
<circle cx="1330.55" cy="180.00" r="2.9" fill="#fff" stroke="#000" stroke-width="1.15"/>
<circle cx="1331.64" cy="184.00" r="2.9" fill="#fff" stroke="#000" stroke-width="1.15"/>
<circle cx="1327.64" cy="190.00" r="2.9" fill="#fff" stroke="#000" stroke-width="1.15"/>
<circle cx="1327.77" cy="198.00" r="2.9" fill="#fff" stroke="#000" stroke-width="1.15"/>
<circle cx="1324.75" cy="200.00" r="2.9" fill="#fff" stroke="#000" stroke-width="1.15"/>
<circle cx="1324.87" cy="204.00" r="2.9" fill="#fff" stroke="#000" stroke-width="1.15"/>
<circle cx="1326.70" cy="208.00" r="2.9" fill="#fff" stroke="#000" stroke-width="1.15"/>
<circle cx="1326.11" cy="215.00" r="2.9" fill="#fff" stroke="#000" stroke-width="1.15"/>
<text x="1094.30" y="285.50" font-size="17" fill="#fff" transform="rotate(-90 1094.30 285.50)"><tspan font-style="italic">n</tspan> = 19</text>
<text x="1131.13" y="285.50" font-size="17" fill="#000" transform="rotate(-90 1131.13 285.50)"><tspan font-style="italic">n</tspan> = 5</text>
<text x="1149.54" y="285.50" font-size="17" fill="#000" transform="rotate(-90 1149.54 285.50)"><tspan font-style="italic">n</tspan> = 4</text>
<text x="1186.38" y="285.50" font-size="17" fill="#fff" transform="rotate(-90 1186.38 285.50)"><tspan font-style="italic">n</tspan> = 12</text>
<text x="1204.79" y="285.50" font-size="17" fill="#000" transform="rotate(-90 1204.79 285.50)"><tspan font-style="italic">n</tspan> = 8</text>
<text x="1223.20" y="285.50" font-size="17" fill="#000" transform="rotate(-90 1223.20 285.50)"><tspan font-style="italic">n</tspan> = 7</text>
<text x="1241.62" y="285.50" font-size="17" fill="#000" transform="rotate(-90 1241.62 285.50)"><tspan font-style="italic">n</tspan> = 8</text>
<text x="1260.03" y="285.50" font-size="17" fill="#000" transform="rotate(-90 1260.03 285.50)"><tspan font-style="italic">n</tspan> = 8</text>
<text x="1278.45" y="285.50" font-size="17" fill="#000" transform="rotate(-90 1278.45 285.50)"><tspan font-style="italic">n</tspan> = 4</text>
<text x="1296.87" y="285.50" font-size="17" fill="#000" transform="rotate(-90 1296.87 285.50)"><tspan font-style="italic">n</tspan> = 4</text>
<text x="1315.28" y="285.50" font-size="17" fill="#000" transform="rotate(-90 1315.28 285.50)"><tspan font-style="italic">n</tspan> = 4</text>
<text x="1333.69" y="285.50" font-size="17" fill="#000" transform="rotate(-90 1333.69 285.50)"><tspan font-style="italic">n</tspan> = 9</text>
<text x="1112.71" y="185.80" font-size="17" transform="rotate(-90 1112.71 185.80)"><tspan font-style="italic">n</tspan> = 30</text>
<text x="1167.96" y="212.50" font-size="17" transform="rotate(-90 1167.96 212.50)"><tspan font-style="italic">n</tspan> = 39</text>
<rect x="739.50" y="331.50" width="597.90" height="18.35" fill="#F0F0F0" />
<rect x="739.50" y="368.20" width="597.90" height="18.35" fill="#F0F0F0" />
<rect x="739.50" y="404.90" width="597.90" height="18.35" fill="#F0F0F0" />
<rect x="739.50" y="441.60" width="597.90" height="18.35" fill="#F0F0F0" />
<rect x="739.50" y="478.30" width="597.90" height="18.35" fill="#F0F0F0" />
<rect x="739.50" y="515.00" width="597.90" height="18.35" fill="#F0F0F0" />
<rect x="739.50" y="551.70" width="597.90" height="18.35" fill="#F0F0F0" />
<rect x="739.50" y="588.40" width="597.90" height="18.35" fill="#F0F0F0" />
<rect x="739.50" y="625.10" width="597.90" height="18.35" fill="#F0F0F0" />
<rect x="739.50" y="661.80" width="597.90" height="18.35" fill="#F0F0F0" />
<rect x="739.50" y="698.50" width="597.90" height="18.35" fill="#F0F0F0" />
<rect x="739.50" y="735.20" width="597.90" height="18.35" fill="#F0F0F0" />
<rect x="739.50" y="771.90" width="597.90" height="18.35" fill="#F0F0F0" />
<rect x="739.50" y="808.60" width="597.90" height="18.35" fill="#F0F0F0" />
<rect x="739.50" y="845.30" width="597.90" height="18.35" fill="#F0F0F0" />
<rect x="739.50" y="882.00" width="597.90" height="20.50" fill="#F0F0F0" />
<text x="742.8" y="348.10" font-size="16.7" >f17_<tspan font-style="italic">Blautia caecimuris</tspan></text>
<text x="742.8" y="366.45" font-size="16.7" >f19_<tspan font-style="italic">B. caecimuris</tspan></text>
<text x="742.8" y="384.80" font-size="16.7" >f21_<tspan font-style="italic">Blautia</tspan> sp. NBRC 113351</text>
<text x="742.8" y="403.15" font-size="16.7" >f32_<tspan font-style="italic">Blautia coccoides</tspan></text>
<text x="742.8" y="421.50" font-size="16.7" >f12_<tspan font-style="italic">Faecalimonas umbilicata</tspan></text>
<text x="742.8" y="439.85" font-size="16.7" >f18_<tspan font-style="italic">Enterocloster bolteae</tspan></text>
<text x="742.8" y="458.20" font-size="16.7" >f22_<tspan font-style="italic">Enterocloster asparagiformis</tspan></text>
<text x="742.8" y="476.55" font-size="16.7" textLength="279" lengthAdjust="spacingAndGlyphs">f23_<tspan font-style="italic">Mediterraneibacter glycyrrhizinilyticus</tspan></text>
<text x="742.8" y="494.90" font-size="16.7" >f24_<tspan font-style="italic">Eisenbergiella tayi</tspan></text>
<text x="742.8" y="513.25" font-size="16.7" >f31_<tspan font-style="italic">Anaerostipes hominis</tspan></text>
<text x="742.8" y="531.60" font-size="16.7" >f20_<tspan font-style="italic">[Clostridium] innocuum</tspan></text>
<text x="742.8" y="549.95" font-size="16.7" >f26_<tspan font-style="italic">Flavonifractor plautii</tspan></text>
<text x="742.8" y="568.30" font-size="16.7" >f28_<tspan font-style="italic">Intestinibacter bartlettii</tspan></text>
<text x="742.8" y="586.65" font-size="16.7" >f30_<tspan font-style="italic">Massilimicrobiota timonensis</tspan></text>
<text x="742.8" y="605.00" font-size="16.7" >f33_<tspan font-style="italic">Thomasclavelia ramosa</tspan></text>
<text x="742.8" y="623.35" font-size="16.7" >f01_<tspan font-style="italic">Bifidobacterium longum</tspan></text>
<text x="742.8" y="641.70" font-size="16.7" >f35_<tspan font-style="italic">Fusobacterium ulcerans</tspan></text>
<text x="742.8" y="660.05" font-size="16.7" >f37_<tspan font-style="italic">Escherichia coli</tspan></text>
<text x="742.8" y="678.40" font-size="16.7" >f29_<tspan font-style="italic">[Ruminococcus] gnavus</tspan></text>
<text x="742.8" y="696.75" font-size="16.7" >f10_<tspan font-style="italic">[R.] gnavus</tspan></text>
<text x="742.8" y="715.10" font-size="16.7" >f11_<tspan font-style="italic">Ruminococcus</tspan> sp. AM22-13</text>
<text x="742.8" y="733.45" font-size="16.7" textLength="280" lengthAdjust="spacingAndGlyphs">f13_<tspan font-style="italic">Enterocloster alcoholdehydrogenati</tspan></text>
<text x="742.8" y="751.80" font-size="16.7" >f14_<tspan font-style="italic">Coprococcus phoceensis</tspan></text>
<text x="742.8" y="770.15" font-size="16.7" >f16_<tspan font-style="italic">Anaerostipes hadrus</tspan></text>
<text x="742.8" y="788.50" font-size="16.7" >f34_<tspan font-style="italic">Veillonella parvula</tspan></text>
<text x="742.8" y="806.85" font-size="16.7" >f02_<tspan font-style="italic">Bacteroides xylanisolvens</tspan></text>
<text x="742.8" y="825.20" font-size="16.7" >f03_<tspan font-style="italic">Bacteroides fragilis</tspan></text>
<text x="742.8" y="843.55" font-size="16.7" >f04_<tspan font-style="italic">Bacteroides uniformis</tspan></text>
<text x="742.8" y="861.90" font-size="16.7" >f05_<tspan font-style="italic">Bacteroides thetaiotaomicron</tspan></text>
<text x="742.8" y="880.25" font-size="16.7" >f07_<tspan font-style="italic">Bacteroides</tspan> sp.</text>
<text x="742.8" y="898.60" font-size="16.7" >f09_<tspan font-style="italic">Parabacteroides goldsteinii</tspan></text>
<rect x="1096.50" y="331.50" width="19.11" height="571.00" fill="#CC78A8" />
<rect x="1115.01" y="331.50" width="19.11" height="458.75" fill="#F9CE98" />
<rect x="1133.52" y="790.25" width="19.11" height="112.25" fill="#F9CE98" />
<rect x="1152.02" y="331.50" width="19.11" height="330.30" fill="#D65F00" />
<rect x="1170.53" y="661.80" width="19.11" height="240.70" fill="#0072B2" />
<rect x="1189.04" y="404.90" width="19.11" height="256.90" fill="#7EC5E2" />
<rect x="1207.55" y="331.50" width="19.11" height="73.40" fill="#7EC5E2" />
<rect x="1207.55" y="515.00" width="19.11" height="146.80" fill="#7EC5E2" />
<rect x="1226.05" y="331.50" width="19.11" height="183.50" fill="#7EC5E2" />
<rect x="1226.05" y="606.75" width="19.11" height="55.05" fill="#7EC5E2" />
<rect x="1244.56" y="331.50" width="19.11" height="275.25" fill="#7EC5E2" />
<rect x="1263.07" y="331.50" width="19.11" height="311.95" fill="#A9CB77" />
<rect x="1281.58" y="331.50" width="19.11" height="275.25" fill="#A9CB77" />
<rect x="1281.58" y="625.10" width="19.11" height="36.70" fill="#A9CB77" />
<rect x="1300.08" y="331.50" width="19.11" height="293.60" fill="#A9CB77" />
<rect x="1300.08" y="643.45" width="19.11" height="18.35" fill="#A9CB77" />
<rect x="1318.59" y="331.50" width="19.11" height="275.25" fill="#B3A2C7" />
<rect x="1318.59" y="625.10" width="19.11" height="18.35" fill="#B3A2C7" />
<rect x="1318.59" y="771.90" width="19.11" height="18.35" fill="#B3A2C7" />
<rect x="1318.59" y="882.00" width="19.11" height="20.50" fill="#B3A2C7" />
<rect x="1096.80" y="331.50" width="240.60" height="571.00" fill="none" stroke="#8a8a8a" stroke-width="1"/>
<text x="1113.65" y="551.80" font-size="20.5" fill="#fff" transform="rotate(-90 1113.65 551.80)">F31-mix</text>
<text x="1132.16" y="551.80" font-size="20.5" fill="#000" transform="rotate(-90 1132.16 551.80)">F25-mix</text>
<text x="1150.67" y="884.00" font-size="20.5" fill="#000" transform="rotate(-90 1150.67 884.00)">F6-mix</text>
<text x="1169.18" y="551.80" font-size="20.5" fill="#fff" transform="rotate(-90 1169.18 551.80)">F18-mix</text>
<text x="1187.68" y="826.50" font-size="20.5" fill="#fff" transform="rotate(-90 1187.68 826.50)">F13-mix</text>
<text x="1206.19" y="610.00" font-size="20.5" fill="#000" transform="rotate(-90 1206.19 610.00)">F18-mix excluding A</text>
<text x="1224.70" y="610.00" font-size="20.5" fill="#000" transform="rotate(-90 1224.70 610.00)">F18-mix excluding B</text>
<text x="1243.21" y="610.00" font-size="20.5" fill="#000" transform="rotate(-90 1243.21 610.00)">F18-mix excluding C</text>
<text x="1261.72" y="610.00" font-size="20.5" fill="#000" transform="rotate(-90 1261.72 610.00)">F18-mix excluding D</text>
<text x="1280.22" y="610.00" font-size="20.5" fill="#000" transform="rotate(-90 1280.22 610.00)">F18-mix excluding <tspan font-style="italic">E. coli</tspan></text>
<text x="1298.73" y="610.00" font-size="20.5" fill="#000" transform="rotate(-90 1298.73 610.00)">F18-mix excluding <tspan font-style="italic">B. longum</tspan></text>
<text x="1317.24" y="610.00" font-size="20.5" fill="#000" transform="rotate(-90 1317.24 610.00)">F18-mix excluding <tspan font-style="italic">F. ulcerans</tspan></text>
<text x="1335.75" y="607.00" font-size="20.5" fill="#000" transform="rotate(-90 1335.75 607.00)">altF18-mix</text>
<path d="M739,334.00 H732.3 V401.00 H739" fill="none" stroke="#000" stroke-width="2"/>
<path d="M739,406.40 H732.3 V506.00 H739" fill="none" stroke="#000" stroke-width="2"/>
<path d="M739,510.70 H732.3 V605.40 H739" fill="none" stroke="#000" stroke-width="2"/>
<path d="M739,607.80 H732.3 V659.30 H739" fill="none" stroke="#000" stroke-width="2"/>
<text x="727" y="370.60" font-size="20.5" text-anchor="middle" transform="rotate(-90 727 370.60)">A</text>
<text x="727" y="452.50" font-size="20.5" text-anchor="middle" transform="rotate(-90 727 452.50)">B</text>
<text x="727" y="561.80" font-size="20.5" text-anchor="middle" transform="rotate(-90 727 561.80)">C</text>
<text x="727" y="632.90" font-size="20.5" text-anchor="middle" transform="rotate(-90 727 632.90)">D</text>
<line x1="704.40" y1="354.50" x2="704.40" y2="648.00" stroke="#000" stroke-width="2" />
<text x="698.5" y="499.4" font-size="20.5" text-anchor="middle" transform="rotate(-90 698.5 499.4)">Group</text>
<text x="-1.00" y="937.70" font-size="33" font-weight="bold" >d</text>
<line x1="82.60" y1="929.00" x2="134.00" y2="929.00" stroke="#D7280F" stroke-width="2.8" />
<text x="146.00" y="937.30" font-size="20.8" >Each of F31 strains</text>
<line x1="394.00" y1="929.00" x2="445.00" y2="929.00" stroke="#000" stroke-width="2.8" />
<text x="456.00" y="937.30" font-size="20.8" >Kp-2H7</text>
<text x="27" y="1128.7" font-size="21" text-anchor="middle" transform="rotate(-90 27 1128.7)">Relative abundance</text>
<rect x="203.90" y="983.70" width="106.80" height="265.30" fill="#E2E2E2" />
<line x1="203.90" y1="1004.70" x2="310.70" y2="1004.70" stroke="#333" stroke-width="1.6" />
<line x1="203.90" y1="999.20" x2="203.90" y2="1010.20" stroke="#333" stroke-width="1.6" />
<line x1="310.70" y1="999.20" x2="310.70" y2="1010.20" stroke="#333" stroke-width="1.6" />
<text x="257.30" y="998.40" font-size="21" text-anchor="middle" >Amp</text>
<text x="214.60" y="976.50" font-size="21" text-anchor="middle" >6 Bacteroidota</text>
<line x1="93.90" y1="984.40" x2="93.90" y2="1249.00" stroke="#222" stroke-width="1.8" />
<line x1="86.90" y1="1248.79" x2="93.90" y2="1248.79" stroke="#222" stroke-width="1.6" />
<text x="80.70" y="1257.19" font-size="21" text-anchor="end">10<tspan font-size="14.6" dy="-7.2">−7</tspan></text>
<line x1="86.90" y1="1214.42" x2="93.90" y2="1214.42" stroke="#222" stroke-width="1.6" />
<text x="80.70" y="1222.82" font-size="21" text-anchor="end">10<tspan font-size="14.6" dy="-7.2">−6</tspan></text>
<line x1="86.90" y1="1180.05" x2="93.90" y2="1180.05" stroke="#222" stroke-width="1.6" />
<text x="80.70" y="1188.45" font-size="21" text-anchor="end">10<tspan font-size="14.6" dy="-7.2">−5</tspan></text>
<line x1="86.90" y1="1145.68" x2="93.90" y2="1145.68" stroke="#222" stroke-width="1.6" />
<text x="80.70" y="1154.08" font-size="21" text-anchor="end">10<tspan font-size="14.6" dy="-7.2">−4</tspan></text>
<line x1="86.90" y1="1111.31" x2="93.90" y2="1111.31" stroke="#222" stroke-width="1.6" />
<text x="80.70" y="1119.71" font-size="21" text-anchor="end">10<tspan font-size="14.6" dy="-7.2">−3</tspan></text>
<line x1="86.90" y1="1076.94" x2="93.90" y2="1076.94" stroke="#222" stroke-width="1.6" />
<text x="80.70" y="1085.34" font-size="21" text-anchor="end">10<tspan font-size="14.6" dy="-7.2">−2</tspan></text>
<line x1="86.90" y1="1042.57" x2="93.90" y2="1042.57" stroke="#222" stroke-width="1.6" />
<text x="80.70" y="1050.97" font-size="21" text-anchor="end">10<tspan font-size="14.6" dy="-7.2">−1</tspan></text>
<line x1="86.90" y1="1008.20" x2="93.90" y2="1008.20" stroke="#222" stroke-width="1.6" />
<text x="80.70" y="1016.60" font-size="21" text-anchor="end">10<tspan font-size="14.6" dy="-7.2">0</tspan></text>
<line x1="86.90" y1="1249.00" x2="335.90" y2="1249.00" stroke="#222" stroke-width="1.8" />
<line x1="93.90" y1="1249.00" x2="93.90" y2="1255.50" stroke="#222" stroke-width="1.6" />
<text x="93.90" y="1275.80" font-size="21" text-anchor="middle" >0</text>
<line x1="142.13" y1="1249.00" x2="142.13" y2="1255.50" stroke="#222" stroke-width="1.6" />
<text x="142.13" y="1275.80" font-size="21" text-anchor="middle" >14</text>
<line x1="190.36" y1="1249.00" x2="190.36" y2="1255.50" stroke="#222" stroke-width="1.6" />
<text x="190.36" y="1275.80" font-size="21" text-anchor="middle" >28</text>
<line x1="238.59" y1="1249.00" x2="238.59" y2="1255.50" stroke="#222" stroke-width="1.6" />
<text x="238.59" y="1275.80" font-size="21" text-anchor="middle" >42</text>
<line x1="286.82" y1="1249.00" x2="286.82" y2="1255.50" stroke="#222" stroke-width="1.6" />
<text x="286.82" y="1275.80" font-size="21" text-anchor="middle" >56</text>
<line x1="335.05" y1="1249.00" x2="335.05" y2="1255.50" stroke="#222" stroke-width="1.6" />
<text x="335.05" y="1275.80" font-size="21" text-anchor="middle" >70</text>
<text x="214.90" y="1310.00" font-size="20.5" text-anchor="middle" >Time (days)</text>
<path d="M97.3,1018.3V1032.5M92.3,1018.3h10M92.3,1032.5h10" stroke="#D7280F" stroke-width="1.3" fill="none"/>
<path d="M104.2,1017.7V1027.6M99.2,1017.7h10M99.2,1027.6h10" stroke="#D7280F" stroke-width="1.3" fill="none"/>
<path d="M118.0,1018.0V1028.6M113.0,1018.0h10M113.0,1028.6h10" stroke="#D7280F" stroke-width="1.3" fill="none"/>
<path d="M130.1,1019.4V1027.9M125.1,1019.4h10M125.1,1027.9h10" stroke="#D7280F" stroke-width="1.3" fill="none"/>
<path d="M142.1,1021.4V1027.3M137.1,1021.4h10M137.1,1027.3h10" stroke="#D7280F" stroke-width="1.3" fill="none"/>
<path d="M155.9,1019.4V1027.9M150.9,1019.4h10M150.9,1027.9h10" stroke="#D7280F" stroke-width="1.3" fill="none"/>
<path d="M166.2,1020.0V1026.6M161.2,1020.0h10M161.2,1026.6h10" stroke="#D7280F" stroke-width="1.3" fill="none"/>
<path d="M180.0,1019.9V1026.0M175.0,1019.9h10M175.0,1026.0h10" stroke="#D7280F" stroke-width="1.3" fill="none"/>
<path d="M190.4,1021.1V1027.6M185.4,1021.1h10M185.4,1027.6h10" stroke="#D7280F" stroke-width="1.3" fill="none"/>
<path d="M204.1,1020.7V1025.9M199.1,1020.7h10M199.1,1025.9h10" stroke="#D7280F" stroke-width="1.3" fill="none"/>
<path d="M214.5,1015.3V1025.8M209.5,1015.3h10M209.5,1025.8h10" stroke="#D7280F" stroke-width="1.3" fill="none"/>
<path d="M228.3,1022.4V1028.4M223.3,1022.4h10M223.3,1028.4h10" stroke="#D7280F" stroke-width="1.3" fill="none"/>
<path d="M242.0,1021.5V1032.7M237.0,1021.5h10M237.0,1032.7h10" stroke="#D7280F" stroke-width="1.3" fill="none"/>
<path d="M252.4,1030.4V1039.0M247.4,1030.4h10M247.4,1039.0h10" stroke="#D7280F" stroke-width="1.3" fill="none"/>
<path d="M266.1,1012.1V1026.3M261.1,1012.1h10M261.1,1026.3h10" stroke="#D7280F" stroke-width="1.3" fill="none"/>
<path d="M276.5,1016.2V1027.7M271.5,1016.2h10M271.5,1027.7h10" stroke="#D7280F" stroke-width="1.3" fill="none"/>
<path d="M290.3,1016.9V1029.7M285.3,1016.9h10M285.3,1029.7h10" stroke="#D7280F" stroke-width="1.3" fill="none"/>
<path d="M310.9,1013.4V1024.9M305.9,1013.4h10M305.9,1024.9h10" stroke="#D7280F" stroke-width="1.3" fill="none"/>
<path d="M324.7,1013.3V1025.8M319.7,1013.3h10M319.7,1025.8h10" stroke="#D7280F" stroke-width="1.3" fill="none"/>
<path d="M335.0,1011.9V1026.5M330.0,1011.9h10M330.0,1026.5h10" stroke="#D7280F" stroke-width="1.3" fill="none"/>
<polyline points="93.90,1248.79 97.34,1025.38 104.23,1022.64 118.02,1023.32 130.07,1023.67 142.13,1024.35 155.91,1023.67 166.25,1023.32 180.03,1022.98 190.36,1024.35 204.14,1023.32 214.47,1020.57 228.25,1025.38 242.03,1027.10 252.37,1034.66 266.15,1019.20 276.49,1021.95 290.26,1023.32 310.94,1019.20 324.72,1019.54 335.05,1019.20" fill="none" stroke="#D7280F" stroke-width="2.5" stroke-linejoin="round" />
<path d="M97.3,1038.5V1053.6M92.3,1038.5h10M92.3,1053.6h10" stroke="#D7280F" stroke-width="1.3" fill="none"/>
<path d="M104.2,1040.0V1046.5M99.2,1040.0h10M99.2,1046.5h10" stroke="#D7280F" stroke-width="1.3" fill="none"/>
<path d="M118.0,1038.6V1046.5M113.0,1038.6h10M113.0,1046.5h10" stroke="#D7280F" stroke-width="1.3" fill="none"/>
<path d="M130.1,1040.4V1048.2M125.1,1040.4h10M125.1,1048.2h10" stroke="#D7280F" stroke-width="1.3" fill="none"/>
<path d="M142.1,1043.2V1050.2M137.1,1043.2h10M137.1,1050.2h10" stroke="#D7280F" stroke-width="1.3" fill="none"/>
<path d="M155.9,1038.6V1051.3M150.9,1038.6h10M150.9,1051.3h10" stroke="#D7280F" stroke-width="1.3" fill="none"/>
<path d="M166.2,1037.1V1051.4M161.2,1037.1h10M161.2,1051.4h10" stroke="#D7280F" stroke-width="1.3" fill="none"/>
<path d="M180.0,1043.3V1048.7M175.0,1043.3h10M175.0,1048.7h10" stroke="#D7280F" stroke-width="1.3" fill="none"/>
<path d="M190.4,1046.9V1053.4M185.4,1046.9h10M185.4,1053.4h10" stroke="#D7280F" stroke-width="1.3" fill="none"/>
<path d="M204.1,1045.1V1059.3M199.1,1045.1h10M199.1,1059.3h10" stroke="#D7280F" stroke-width="1.3" fill="none"/>
<path d="M214.5,1042.0V1047.9M209.5,1042.0h10M209.5,1047.9h10" stroke="#D7280F" stroke-width="1.3" fill="none"/>
<path d="M228.3,1039.1V1044.7M223.3,1039.1h10M223.3,1044.7h10" stroke="#D7280F" stroke-width="1.3" fill="none"/>
<path d="M242.0,1040.4V1054.4M237.0,1040.4h10M237.0,1054.4h10" stroke="#D7280F" stroke-width="1.3" fill="none"/>
<path d="M252.4,1043.5V1051.2M247.4,1043.5h10M247.4,1051.2h10" stroke="#D7280F" stroke-width="1.3" fill="none"/>
<path d="M266.1,1036.7V1041.6M261.1,1036.7h10M261.1,1041.6h10" stroke="#D7280F" stroke-width="1.3" fill="none"/>
<path d="M276.5,1036.5V1047.2M271.5,1036.5h10M271.5,1047.2h10" stroke="#D7280F" stroke-width="1.3" fill="none"/>
<path d="M290.3,1036.4V1043.2M285.3,1036.4h10M285.3,1043.2h10" stroke="#D7280F" stroke-width="1.3" fill="none"/>
<path d="M310.9,1033.0V1041.8M305.9,1033.0h10M305.9,1041.8h10" stroke="#D7280F" stroke-width="1.3" fill="none"/>
<path d="M324.7,1032.6V1040.8M319.7,1032.6h10M319.7,1040.8h10" stroke="#D7280F" stroke-width="1.3" fill="none"/>
<path d="M335.0,1029.4V1042.7M330.0,1029.4h10M330.0,1042.7h10" stroke="#D7280F" stroke-width="1.3" fill="none"/>
<polyline points="93.90,1248.79 97.34,1046.01 104.23,1043.26 118.02,1042.57 130.07,1044.29 142.13,1046.69 155.91,1044.98 166.25,1044.29 180.03,1046.01 190.36,1050.13 204.14,1052.19 214.47,1044.98 228.25,1041.88 242.03,1047.38 252.37,1047.38 266.15,1039.13 276.49,1041.88 290.26,1039.82 310.94,1037.41 324.72,1036.73 335.05,1036.04" fill="none" stroke="#D7280F" stroke-width="2.5" stroke-linejoin="round" />
<path d="M97.3,1050.8V1065.3M92.3,1050.8h10M92.3,1065.3h10" stroke="#D7280F" stroke-width="1.3" fill="none"/>
<path d="M104.2,1049.6V1064.4M99.2,1049.6h10M99.2,1064.4h10" stroke="#D7280F" stroke-width="1.3" fill="none"/>
<path d="M118.0,1053.1V1063.0M113.0,1053.1h10M113.0,1063.0h10" stroke="#D7280F" stroke-width="1.3" fill="none"/>
<path d="M130.1,1052.6V1066.9M125.1,1052.6h10M125.1,1066.9h10" stroke="#D7280F" stroke-width="1.3" fill="none"/>
<path d="M142.1,1057.9V1069.8M137.1,1057.9h10M137.1,1069.8h10" stroke="#D7280F" stroke-width="1.3" fill="none"/>
<path d="M155.9,1054.5V1065.0M150.9,1054.5h10M150.9,1065.0h10" stroke="#D7280F" stroke-width="1.3" fill="none"/>
<path d="M166.2,1048.5V1060.0M161.2,1048.5h10M161.2,1060.0h10" stroke="#D7280F" stroke-width="1.3" fill="none"/>
<path d="M180.0,1051.2V1062.8M175.0,1051.2h10M175.0,1062.8h10" stroke="#D7280F" stroke-width="1.3" fill="none"/>
<path d="M190.4,1055.0V1069.3M185.4,1055.0h10M185.4,1069.3h10" stroke="#D7280F" stroke-width="1.3" fill="none"/>
<path d="M204.1,1050.5V1058.0M199.1,1050.5h10M199.1,1058.0h10" stroke="#D7280F" stroke-width="1.3" fill="none"/>
<path d="M214.5,1038.5V1052.8M209.5,1038.5h10M209.5,1052.8h10" stroke="#D7280F" stroke-width="1.3" fill="none"/>
<path d="M228.3,1046.1V1059.7M223.3,1046.1h10M223.3,1059.7h10" stroke="#D7280F" stroke-width="1.3" fill="none"/>
<path d="M242.0,1050.1V1061.2M237.0,1050.1h10M237.0,1061.2h10" stroke="#D7280F" stroke-width="1.3" fill="none"/>
<path d="M252.4,1057.1V1067.2M247.4,1057.1h10M247.4,1067.2h10" stroke="#D7280F" stroke-width="1.3" fill="none"/>
<path d="M266.1,1037.9V1045.9M261.1,1037.9h10M261.1,1045.9h10" stroke="#D7280F" stroke-width="1.3" fill="none"/>
<path d="M276.5,1042.1V1056.8M271.5,1042.1h10M271.5,1056.8h10" stroke="#D7280F" stroke-width="1.3" fill="none"/>
<path d="M290.3,1042.8V1052.0M285.3,1042.8h10M285.3,1052.0h10" stroke="#D7280F" stroke-width="1.3" fill="none"/>
<path d="M310.9,1044.0V1049.4M305.9,1044.0h10M305.9,1049.4h10" stroke="#D7280F" stroke-width="1.3" fill="none"/>
<path d="M324.7,1039.2V1054.2M319.7,1039.2h10M319.7,1054.2h10" stroke="#D7280F" stroke-width="1.3" fill="none"/>
<path d="M335.0,1041.8V1053.0M330.0,1041.8h10M330.0,1053.0h10" stroke="#D7280F" stroke-width="1.3" fill="none"/>
<polyline points="93.90,1248.79 97.34,1058.04 104.23,1057.01 118.02,1058.04 130.07,1059.76 142.13,1063.88 155.91,1059.76 166.25,1054.26 180.03,1057.01 190.36,1062.16 204.14,1054.26 214.47,1045.66 228.25,1052.88 242.03,1055.63 252.37,1062.16 266.15,1041.88 276.49,1049.44 290.26,1047.38 310.94,1046.69 324.72,1046.69 335.05,1047.38" fill="none" stroke="#D7280F" stroke-width="2.5" stroke-linejoin="round" />
<path d="M97.3,1059.2V1068.6M92.3,1059.2h10M92.3,1068.6h10" stroke="#D7280F" stroke-width="1.3" fill="none"/>
<path d="M104.2,1060.7V1065.7M99.2,1060.7h10M99.2,1065.7h10" stroke="#D7280F" stroke-width="1.3" fill="none"/>
<path d="M118.0,1057.6V1066.7M113.0,1057.6h10M113.0,1066.7h10" stroke="#D7280F" stroke-width="1.3" fill="none"/>
<path d="M130.1,1059.3V1074.0M125.1,1059.3h10M125.1,1074.0h10" stroke="#D7280F" stroke-width="1.3" fill="none"/>
<path d="M142.1,1061.1V1075.6M137.1,1061.1h10M137.1,1075.6h10" stroke="#D7280F" stroke-width="1.3" fill="none"/>
<path d="M155.9,1063.5V1069.7M150.9,1063.5h10M150.9,1069.7h10" stroke="#D7280F" stroke-width="1.3" fill="none"/>
<path d="M166.2,1062.0V1069.9M161.2,1062.0h10M161.2,1069.9h10" stroke="#D7280F" stroke-width="1.3" fill="none"/>
<path d="M180.0,1059.8V1074.8M175.0,1059.8h10M175.0,1074.8h10" stroke="#D7280F" stroke-width="1.3" fill="none"/>
<path d="M190.4,1064.7V1076.8M185.4,1064.7h10M185.4,1076.8h10" stroke="#D7280F" stroke-width="1.3" fill="none"/>
<path d="M204.1,1064.2V1074.6M199.1,1064.2h10M199.1,1074.6h10" stroke="#D7280F" stroke-width="1.3" fill="none"/>
<path d="M209.3,1104.8V1111.0M204.3,1104.8h10M204.3,1111.0h10" stroke="#D7280F" stroke-width="1.3" fill="none"/>
<path d="M217.9,1085.0V1096.3M212.9,1085.0h10M212.9,1096.3h10" stroke="#D7280F" stroke-width="1.3" fill="none"/>
<path d="M228.3,1088.8V1094.0M223.3,1088.8h10M223.3,1094.0h10" stroke="#D7280F" stroke-width="1.3" fill="none"/>
<path d="M242.0,1089.8V1095.0M237.0,1089.8h10M237.0,1095.0h10" stroke="#D7280F" stroke-width="1.3" fill="none"/>
<path d="M252.4,1082.9V1095.1M247.4,1082.9h10M247.4,1095.1h10" stroke="#D7280F" stroke-width="1.3" fill="none"/>
<path d="M266.1,1064.5V1070.1M261.1,1064.5h10M261.1,1070.1h10" stroke="#D7280F" stroke-width="1.3" fill="none"/>
<path d="M276.5,1071.1V1086.2M271.5,1071.1h10M271.5,1086.2h10" stroke="#D7280F" stroke-width="1.3" fill="none"/>
<path d="M290.3,1075.1V1082.2M285.3,1075.1h10M285.3,1082.2h10" stroke="#D7280F" stroke-width="1.3" fill="none"/>
<path d="M310.9,1063.9V1069.3M305.9,1063.9h10M305.9,1069.3h10" stroke="#D7280F" stroke-width="1.3" fill="none"/>
<path d="M324.7,1061.0V1069.5M319.7,1061.0h10M319.7,1069.5h10" stroke="#D7280F" stroke-width="1.3" fill="none"/>
<path d="M335.0,1060.8V1068.4M330.0,1060.8h10M330.0,1068.4h10" stroke="#D7280F" stroke-width="1.3" fill="none"/>
<polyline points="93.90,1248.79 97.34,1063.88 104.23,1063.19 118.02,1062.16 130.07,1066.63 142.13,1068.35 155.91,1066.63 166.25,1065.94 180.03,1067.32 190.36,1070.75 204.14,1069.38 209.31,1107.87 217.92,1090.69 228.25,1091.38 242.03,1092.41 252.37,1088.97 266.15,1067.32 276.49,1078.66 290.26,1078.66 310.94,1066.63 324.72,1065.25 335.05,1064.57" fill="none" stroke="#D7280F" stroke-width="2.5" stroke-linejoin="round" />
<path d="M97.3,1076.5V1091.1M92.3,1076.5h10M92.3,1091.1h10" stroke="#D7280F" stroke-width="1.3" fill="none"/>
<path d="M104.2,1082.7V1091.8M99.2,1082.7h10M99.2,1091.8h10" stroke="#D7280F" stroke-width="1.3" fill="none"/>
<path d="M118.0,1084.8V1093.1M113.0,1084.8h10M113.0,1093.1h10" stroke="#D7280F" stroke-width="1.3" fill="none"/>
<path d="M130.1,1085.6V1095.8M125.1,1085.6h10M125.1,1095.8h10" stroke="#D7280F" stroke-width="1.3" fill="none"/>
<path d="M142.1,1088.2V1095.9M137.1,1088.2h10M137.1,1095.9h10" stroke="#D7280F" stroke-width="1.3" fill="none"/>
<path d="M155.9,1085.8V1090.8M150.9,1085.8h10M150.9,1090.8h10" stroke="#D7280F" stroke-width="1.3" fill="none"/>
<path d="M166.2,1082.2V1087.4M161.2,1082.2h10M161.2,1087.4h10" stroke="#D7280F" stroke-width="1.3" fill="none"/>
<path d="M180.0,1078.0V1089.7M175.0,1078.0h10M175.0,1089.7h10" stroke="#D7280F" stroke-width="1.3" fill="none"/>
<path d="M190.4,1077.7V1087.9M185.4,1077.7h10M185.4,1087.9h10" stroke="#D7280F" stroke-width="1.3" fill="none"/>
<path d="M204.1,1076.2V1081.1M199.1,1076.2h10M199.1,1081.1h10" stroke="#D7280F" stroke-width="1.3" fill="none"/>
<path d="M209.3,1086.6V1101.6M204.3,1086.6h10M204.3,1101.6h10" stroke="#D7280F" stroke-width="1.3" fill="none"/>
<path d="M217.9,1098.2V1108.6M212.9,1098.2h10M212.9,1108.6h10" stroke="#D7280F" stroke-width="1.3" fill="none"/>
<path d="M228.3,1091.0V1100.7M223.3,1091.0h10M223.3,1100.7h10" stroke="#D7280F" stroke-width="1.3" fill="none"/>
<path d="M242.0,1090.0V1098.2M237.0,1090.0h10M237.0,1098.2h10" stroke="#D7280F" stroke-width="1.3" fill="none"/>
<path d="M252.4,1085.1V1099.7M247.4,1085.1h10M247.4,1099.7h10" stroke="#D7280F" stroke-width="1.3" fill="none"/>
<path d="M266.1,1062.4V1070.9M261.1,1062.4h10M261.1,1070.9h10" stroke="#D7280F" stroke-width="1.3" fill="none"/>
<path d="M276.5,1077.9V1082.8M271.5,1077.9h10M271.5,1082.8h10" stroke="#D7280F" stroke-width="1.3" fill="none"/>
<path d="M290.3,1070.0V1083.8M285.3,1070.0h10M285.3,1083.8h10" stroke="#D7280F" stroke-width="1.3" fill="none"/>
<path d="M310.9,1061.2V1072.1M305.9,1061.2h10M305.9,1072.1h10" stroke="#D7280F" stroke-width="1.3" fill="none"/>
<path d="M324.7,1058.8V1073.1M319.7,1058.8h10M319.7,1073.1h10" stroke="#D7280F" stroke-width="1.3" fill="none"/>
<path d="M335.0,1061.0V1068.9M330.0,1061.0h10M330.0,1068.9h10" stroke="#D7280F" stroke-width="1.3" fill="none"/>
<polyline points="93.90,1248.79 97.34,1083.81 104.23,1087.25 118.02,1088.97 130.07,1090.69 142.13,1092.06 155.91,1088.28 166.25,1084.85 180.03,1083.81 190.36,1082.78 204.14,1078.66 209.31,1094.12 217.92,1103.40 228.25,1095.84 242.03,1094.12 252.37,1092.41 266.15,1066.63 276.49,1080.38 290.26,1076.94 310.94,1066.63 324.72,1065.94 335.05,1064.91" fill="none" stroke="#D7280F" stroke-width="2.5" stroke-linejoin="round" />
<path d="M97.3,1054.0V1069.0M92.3,1054.0h10M92.3,1069.0h10" stroke="#D7280F" stroke-width="1.3" fill="none"/>
<path d="M104.2,1062.3V1067.5M99.2,1062.3h10M99.2,1067.5h10" stroke="#D7280F" stroke-width="1.3" fill="none"/>
<path d="M118.0,1066.2V1073.9M113.0,1066.2h10M113.0,1073.9h10" stroke="#D7280F" stroke-width="1.3" fill="none"/>
<path d="M130.1,1066.2V1072.6M125.1,1066.2h10M125.1,1072.6h10" stroke="#D7280F" stroke-width="1.3" fill="none"/>
<path d="M142.1,1062.6V1072.0M137.1,1062.6h10M137.1,1072.0h10" stroke="#D7280F" stroke-width="1.3" fill="none"/>
<path d="M155.9,1058.3V1071.5M150.9,1058.3h10M150.9,1071.5h10" stroke="#D7280F" stroke-width="1.3" fill="none"/>
<path d="M166.2,1058.3V1068.1M161.2,1058.3h10M161.2,1068.1h10" stroke="#D7280F" stroke-width="1.3" fill="none"/>
<path d="M180.0,1060.0V1069.8M175.0,1060.0h10M175.0,1069.8h10" stroke="#D7280F" stroke-width="1.3" fill="none"/>
<path d="M190.4,1061.0V1072.3M185.4,1061.0h10M185.4,1072.3h10" stroke="#D7280F" stroke-width="1.3" fill="none"/>
<path d="M204.1,1059.8V1066.6M199.1,1059.8h10M199.1,1066.6h10" stroke="#D7280F" stroke-width="1.3" fill="none"/>
<path d="M209.3,1062.6V1077.6M204.3,1062.6h10M204.3,1077.6h10" stroke="#D7280F" stroke-width="1.3" fill="none"/>
<path d="M217.9,1046.3V1052.6M212.9,1046.3h10M212.9,1052.6h10" stroke="#D7280F" stroke-width="1.3" fill="none"/>
<path d="M228.3,1048.2V1057.5M223.3,1048.2h10M223.3,1057.5h10" stroke="#D7280F" stroke-width="1.3" fill="none"/>
<path d="M242.0,1050.9V1063.2M237.0,1050.9h10M237.0,1063.2h10" stroke="#D7280F" stroke-width="1.3" fill="none"/>
<path d="M252.4,1053.3V1066.2M247.4,1053.3h10M247.4,1066.2h10" stroke="#D7280F" stroke-width="1.3" fill="none"/>
<path d="M266.1,1044.6V1050.9M261.1,1044.6h10M261.1,1050.9h10" stroke="#D7280F" stroke-width="1.3" fill="none"/>
<path d="M276.5,1046.3V1056.0M271.5,1046.3h10M271.5,1056.0h10" stroke="#D7280F" stroke-width="1.3" fill="none"/>
<path d="M290.3,1044.5V1054.3M285.3,1044.5h10M285.3,1054.3h10" stroke="#D7280F" stroke-width="1.3" fill="none"/>
<path d="M310.9,1043.2V1052.3M305.9,1043.2h10M305.9,1052.3h10" stroke="#D7280F" stroke-width="1.3" fill="none"/>
<path d="M324.7,1045.4V1052.1M319.7,1045.4h10M319.7,1052.1h10" stroke="#D7280F" stroke-width="1.3" fill="none"/>
<path d="M335.0,1043.5V1055.4M330.0,1043.5h10M330.0,1055.4h10" stroke="#D7280F" stroke-width="1.3" fill="none"/>
<polyline points="93.90,1248.79 97.34,1061.47 104.23,1064.91 118.02,1070.07 130.07,1069.38 142.13,1067.32 155.91,1064.91 166.25,1063.19 180.03,1064.91 190.36,1066.63 204.14,1063.19 209.31,1070.07 217.92,1049.44 228.25,1052.88 242.03,1057.01 252.37,1059.76 266.15,1047.73 276.49,1051.16 290.26,1049.44 310.94,1047.73 324.72,1048.76 335.05,1049.44" fill="none" stroke="#D7280F" stroke-width="2.5" stroke-linejoin="round" />
<path d="M93.9,1009.9V1016.8M88.4,1009.9h11.0M88.4,1016.8h11.0" stroke="#222" stroke-width="1.5" fill="none"/>
<path d="M99.1,1047.7V1058.0M93.6,1047.7h11.0M93.6,1058.0h11.0" stroke="#222" stroke-width="1.5" fill="none"/>
<path d="M106.0,1090.7V1104.4M100.5,1090.7h11.0M100.5,1104.4h11.0" stroke="#222" stroke-width="1.5" fill="none"/>
<path d="M118.0,1150.8V1164.6M112.5,1150.8h11.0M112.5,1164.6h11.0" stroke="#222" stroke-width="1.5" fill="none"/>
<path d="M130.1,1166.3V1174.6M124.6,1166.3h11.0M124.6,1174.6h11.0" stroke="#222" stroke-width="1.5" fill="none"/>
<path d="M142.1,1170.4V1175.9M136.6,1170.4h11.0M136.6,1175.9h11.0" stroke="#222" stroke-width="1.5" fill="none"/>
<path d="M155.9,1170.4V1178.7M150.4,1170.4h11.0M150.4,1178.7h11.0" stroke="#222" stroke-width="1.5" fill="none"/>
<path d="M166.2,1163.6V1177.3M160.7,1163.6h11.0M160.7,1177.3h11.0" stroke="#222" stroke-width="1.5" fill="none"/>
<path d="M180.0,1161.1V1195.5M174.5,1161.1h11.0M174.5,1195.5h11.0" stroke="#222" stroke-width="1.5" fill="none"/>
<path d="M190.4,1158.1V1182.1M184.9,1158.1h11.0M184.9,1182.1h11.0" stroke="#222" stroke-width="1.5" fill="none"/>
<path d="M204.1,1164.2V1184.9M198.6,1164.2h11.0M198.6,1184.9h11.0" stroke="#222" stroke-width="1.5" fill="none"/>
<path d="M207.6,1130.2V1147.4M202.1,1130.2h11.0M202.1,1147.4h11.0" stroke="#222" stroke-width="1.5" fill="none"/>
<path d="M217.9,1067.0V1084.2M212.4,1067.0h11.0M212.4,1084.2h11.0" stroke="#222" stroke-width="1.5" fill="none"/>
<path d="M228.3,1099.3V1119.9M222.8,1099.3h11.0M222.8,1119.9h11.0" stroke="#222" stroke-width="1.5" fill="none"/>
<path d="M242.0,1142.2V1162.9M236.5,1142.2h11.0M236.5,1162.9h11.0" stroke="#222" stroke-width="1.5" fill="none"/>
<path d="M252.4,1166.3V1200.7M246.9,1166.3h11.0M246.9,1200.7h11.0" stroke="#222" stroke-width="1.5" fill="none"/>
<path d="M266.1,1161.5V1178.7M260.6,1161.5h11.0M260.6,1178.7h11.0" stroke="#222" stroke-width="1.5" fill="none"/>
<path d="M276.5,1164.6V1171.5M271.0,1164.6h11.0M271.0,1171.5h11.0" stroke="#222" stroke-width="1.5" fill="none"/>
<path d="M290.3,1167.7V1184.9M284.8,1167.7h11.0M284.8,1184.9h11.0" stroke="#222" stroke-width="1.5" fill="none"/>
<path d="M310.9,1148.4V1158.7M305.4,1148.4h11.0M305.4,1158.7h11.0" stroke="#222" stroke-width="1.5" fill="none"/>
<path d="M316.1,1145.0V1172.5M310.6,1145.0h11.0M310.6,1172.5h11.0" stroke="#222" stroke-width="1.5" fill="none"/>
<path d="M324.7,1173.9V1191.0M319.2,1173.9h11.0M319.2,1191.0h11.0" stroke="#222" stroke-width="1.5" fill="none"/>
<path d="M335.0,1153.9V1178.0M329.5,1153.9h11.0M329.5,1178.0h11.0" stroke="#222" stroke-width="1.5" fill="none"/>
<polyline points="93.90,1013.36 99.07,1052.88 105.96,1097.56 118.02,1157.71 130.07,1170.43 142.13,1173.18 155.91,1174.55 166.25,1170.43 180.03,1178.33 190.36,1170.08 204.14,1174.55 207.58,1138.81 217.92,1075.57 228.25,1109.59 242.03,1152.55 252.37,1183.49 266.15,1170.08 276.49,1168.02 290.26,1176.27 310.94,1153.59 316.10,1158.74 324.72,1182.46 335.05,1165.96" fill="none" stroke="#000" stroke-width="2.6" stroke-linejoin="round" />
<rect x="537.30" y="992.10" width="106.80" height="256.90" fill="#E2E2E2" />
<line x1="537.30" y1="1025.00" x2="644.10" y2="1025.00" stroke="#333" stroke-width="1.6" />
<line x1="537.30" y1="1019.50" x2="537.30" y2="1030.50" stroke="#333" stroke-width="1.6" />
<line x1="644.10" y1="1019.50" x2="644.10" y2="1030.50" stroke="#333" stroke-width="1.6" />
<text x="590.70" y="1018.70" font-size="21" text-anchor="middle" >Amp</text>
<text x="547.50" y="976.50" font-size="21" text-anchor="middle" >5 cleared</text>
<line x1="426.80" y1="984.70" x2="426.80" y2="1249.00" stroke="#222" stroke-width="1.8" />
<line x1="419.80" y1="1248.31" x2="426.80" y2="1248.31" stroke="#222" stroke-width="1.6" />
<text x="413.60" y="1256.71" font-size="21" text-anchor="end">10<tspan font-size="14.6" dy="-7.2">−7</tspan></text>
<line x1="419.80" y1="1213.98" x2="426.80" y2="1213.98" stroke="#222" stroke-width="1.6" />
<text x="413.60" y="1222.38" font-size="21" text-anchor="end">10<tspan font-size="14.6" dy="-7.2">−6</tspan></text>
<line x1="419.80" y1="1179.65" x2="426.80" y2="1179.65" stroke="#222" stroke-width="1.6" />
<text x="413.60" y="1188.05" font-size="21" text-anchor="end">10<tspan font-size="14.6" dy="-7.2">−5</tspan></text>
<line x1="419.80" y1="1145.32" x2="426.80" y2="1145.32" stroke="#222" stroke-width="1.6" />
<text x="413.60" y="1153.72" font-size="21" text-anchor="end">10<tspan font-size="14.6" dy="-7.2">−4</tspan></text>
<line x1="419.80" y1="1110.99" x2="426.80" y2="1110.99" stroke="#222" stroke-width="1.6" />
<text x="413.60" y="1119.39" font-size="21" text-anchor="end">10<tspan font-size="14.6" dy="-7.2">−3</tspan></text>
<line x1="419.80" y1="1076.66" x2="426.80" y2="1076.66" stroke="#222" stroke-width="1.6" />
<text x="413.60" y="1085.06" font-size="21" text-anchor="end">10<tspan font-size="14.6" dy="-7.2">−2</tspan></text>
<line x1="419.80" y1="1042.33" x2="426.80" y2="1042.33" stroke="#222" stroke-width="1.6" />
<text x="413.60" y="1050.73" font-size="21" text-anchor="end">10<tspan font-size="14.6" dy="-7.2">−1</tspan></text>
<line x1="419.80" y1="1008.00" x2="426.80" y2="1008.00" stroke="#222" stroke-width="1.6" />
<text x="413.60" y="1016.40" font-size="21" text-anchor="end">10<tspan font-size="14.6" dy="-7.2">0</tspan></text>
<line x1="419.80" y1="1249.00" x2="668.80" y2="1249.00" stroke="#222" stroke-width="1.8" />
<line x1="426.80" y1="1249.00" x2="426.80" y2="1255.50" stroke="#222" stroke-width="1.6" />
<text x="426.80" y="1275.80" font-size="21" text-anchor="middle" >0</text>
<line x1="475.03" y1="1249.00" x2="475.03" y2="1255.50" stroke="#222" stroke-width="1.6" />
<text x="475.03" y="1275.80" font-size="21" text-anchor="middle" >14</text>
<line x1="523.26" y1="1249.00" x2="523.26" y2="1255.50" stroke="#222" stroke-width="1.6" />
<text x="523.26" y="1275.80" font-size="21" text-anchor="middle" >28</text>
<line x1="571.49" y1="1249.00" x2="571.49" y2="1255.50" stroke="#222" stroke-width="1.6" />
<text x="571.49" y="1275.80" font-size="21" text-anchor="middle" >42</text>
<line x1="619.72" y1="1249.00" x2="619.72" y2="1255.50" stroke="#222" stroke-width="1.6" />
<text x="619.72" y="1275.80" font-size="21" text-anchor="middle" >56</text>
<line x1="667.95" y1="1249.00" x2="667.95" y2="1255.50" stroke="#222" stroke-width="1.6" />
<text x="667.95" y="1275.80" font-size="21" text-anchor="middle" >70</text>
<text x="547.80" y="1310.00" font-size="20.5" text-anchor="middle" >Time (days)</text>
<path d="M430.2,1052.8V1059.3M425.2,1052.8h10M425.2,1059.3h10" stroke="#D7280F" stroke-width="1.3" fill="none"/>
<path d="M435.4,1061.9V1074.2M430.4,1061.9h10M430.4,1074.2h10" stroke="#D7280F" stroke-width="1.3" fill="none"/>
<path d="M442.3,1089.6V1098.0M437.3,1089.6h10M437.3,1098.0h10" stroke="#D7280F" stroke-width="1.3" fill="none"/>
<path d="M450.9,1111.0V1117.9M445.9,1111.0h10M445.9,1117.9h10" stroke="#D7280F" stroke-width="1.3" fill="none"/>
<path d="M463.0,1124.2V1138.9M458.0,1124.2h10M458.0,1138.9h10" stroke="#D7280F" stroke-width="1.3" fill="none"/>
<path d="M475.0,1142.4V1150.3M470.0,1142.4h10M470.0,1150.3h10" stroke="#D7280F" stroke-width="1.3" fill="none"/>
<path d="M487.1,1133.3V1144.9M482.1,1133.3h10M482.1,1144.9h10" stroke="#D7280F" stroke-width="1.3" fill="none"/>
<path d="M499.1,1122.9V1133.4M494.1,1122.9h10M494.1,1133.4h10" stroke="#D7280F" stroke-width="1.3" fill="none"/>
<path d="M512.9,1118.9V1132.0M507.9,1118.9h10M507.9,1132.0h10" stroke="#D7280F" stroke-width="1.3" fill="none"/>
<path d="M523.3,1114.4V1128.2M518.3,1114.4h10M518.3,1128.2h10" stroke="#D7280F" stroke-width="1.3" fill="none"/>
<path d="M535.3,1118.5V1129.6M530.3,1118.5h10M530.3,1129.6h10" stroke="#D7280F" stroke-width="1.3" fill="none"/>
<polyline points="426.80,1248.31 430.25,1056.06 435.41,1068.08 442.30,1093.83 450.92,1114.42 462.97,1131.59 475.03,1146.35 487.09,1139.14 499.14,1128.15 512.92,1125.41 523.26,1121.29 535.32,1124.04 540.49,1248.31 667.95,1248.31" fill="none" stroke="#D7280F" stroke-width="2.5" stroke-linejoin="round" />
<path d="M430.2,1085.6V1098.6M425.2,1085.6h10M425.2,1098.6h10" stroke="#D7280F" stroke-width="1.3" fill="none"/>
<path d="M435.4,1099.6V1112.1M430.4,1099.6h10M430.4,1112.1h10" stroke="#D7280F" stroke-width="1.3" fill="none"/>
<path d="M442.3,1106.0V1119.4M437.3,1106.0h10M437.3,1119.4h10" stroke="#D7280F" stroke-width="1.3" fill="none"/>
<path d="M450.9,1137.9V1145.9M445.9,1137.9h10M445.9,1145.9h10" stroke="#D7280F" stroke-width="1.3" fill="none"/>
<path d="M463.0,1154.3V1163.8M458.0,1154.3h10M458.0,1163.8h10" stroke="#D7280F" stroke-width="1.3" fill="none"/>
<path d="M475.0,1166.9V1175.3M470.0,1166.9h10M470.0,1175.3h10" stroke="#D7280F" stroke-width="1.3" fill="none"/>
<path d="M487.1,1137.3V1143.0M482.1,1137.3h10M482.1,1143.0h10" stroke="#D7280F" stroke-width="1.3" fill="none"/>
<path d="M499.1,1145.8V1158.5M494.1,1145.8h10M494.1,1158.5h10" stroke="#D7280F" stroke-width="1.3" fill="none"/>
<path d="M511.2,1157.2V1171.2M506.2,1157.2h10M506.2,1171.2h10" stroke="#D7280F" stroke-width="1.3" fill="none"/>
<path d="M523.3,1150.0V1157.8M518.3,1150.0h10M518.3,1157.8h10" stroke="#D7280F" stroke-width="1.3" fill="none"/>
<path d="M535.3,1141.1V1149.5M530.3,1141.1h10M530.3,1149.5h10" stroke="#D7280F" stroke-width="1.3" fill="none"/>
<path d="M649.0,1153.1V1158.2M644.0,1153.1h10M644.0,1158.2h10" stroke="#D7280F" stroke-width="1.3" fill="none"/>
<path d="M668.0,1146.8V1161.0M663.0,1146.8h10M663.0,1161.0h10" stroke="#D7280F" stroke-width="1.3" fill="none"/>
<polyline points="426.80,1248.31 430.25,1092.11 435.41,1105.84 442.30,1112.71 450.92,1141.89 462.97,1159.05 475.03,1171.07 487.09,1140.17 499.14,1152.19 511.20,1164.20 523.26,1153.90 535.32,1145.32 545.65,1248.31 643.84,1248.31 649.00,1155.62 667.95,1153.90" fill="none" stroke="#D7280F" stroke-width="2.5" stroke-linejoin="round" />
<path d="M430.2,1091.0V1103.5M425.2,1091.0h10M425.2,1103.5h10" stroke="#D7280F" stroke-width="1.3" fill="none"/>
<path d="M435.4,1105.3V1116.7M430.4,1105.3h10M430.4,1116.7h10" stroke="#D7280F" stroke-width="1.3" fill="none"/>
<path d="M442.3,1116.3V1126.3M437.3,1116.3h10M437.3,1126.3h10" stroke="#D7280F" stroke-width="1.3" fill="none"/>
<path d="M450.9,1149.8V1158.0M445.9,1149.8h10M445.9,1158.0h10" stroke="#D7280F" stroke-width="1.3" fill="none"/>
<path d="M463.0,1171.4V1177.6M458.0,1171.4h10M458.0,1177.6h10" stroke="#D7280F" stroke-width="1.3" fill="none"/>
<path d="M475.0,1163.6V1178.6M470.0,1163.6h10M470.0,1178.6h10" stroke="#D7280F" stroke-width="1.3" fill="none"/>
<path d="M487.1,1170.6V1176.4M482.1,1170.6h10M482.1,1176.4h10" stroke="#D7280F" stroke-width="1.3" fill="none"/>
<path d="M499.1,1167.1V1175.0M494.1,1167.1h10M494.1,1175.0h10" stroke="#D7280F" stroke-width="1.3" fill="none"/>
<path d="M511.2,1162.1V1176.6M506.2,1162.1h10M506.2,1176.6h10" stroke="#D7280F" stroke-width="1.3" fill="none"/>
<path d="M523.3,1164.8V1170.5M518.3,1164.8h10M518.3,1170.5h10" stroke="#D7280F" stroke-width="1.3" fill="none"/>
<path d="M535.3,1161.7V1170.1M530.3,1161.7h10M530.3,1170.1h10" stroke="#D7280F" stroke-width="1.3" fill="none"/>
<path d="M540.5,1192.7V1207.8M535.5,1192.7h10M535.5,1207.8h10" stroke="#D7280F" stroke-width="1.3" fill="none"/>
<path d="M547.4,1165.1V1177.1M542.4,1165.1h10M542.4,1177.1h10" stroke="#D7280F" stroke-width="1.3" fill="none"/>
<path d="M557.7,1189.8V1197.0M552.7,1189.8h10M552.7,1197.0h10" stroke="#D7280F" stroke-width="1.3" fill="none"/>
<path d="M571.5,1224.3V1231.1M566.5,1224.3h10M566.5,1231.1h10" stroke="#D7280F" stroke-width="1.3" fill="none"/>
<path d="M583.5,1207.2V1220.7M578.5,1207.2h10M578.5,1220.7h10" stroke="#D7280F" stroke-width="1.3" fill="none"/>
<polyline points="426.80,1248.31 430.25,1097.26 435.41,1110.99 442.30,1121.29 450.92,1153.90 462.97,1174.50 475.03,1171.07 487.09,1173.47 499.14,1171.07 511.20,1169.35 523.26,1167.63 535.32,1165.92 540.49,1200.25 547.38,1171.07 557.71,1193.38 571.49,1227.71 583.55,1213.98 597.33,1248.31 667.95,1248.31" fill="none" stroke="#D7280F" stroke-width="2.5" stroke-linejoin="round" />
<path d="M430.2,1115.1V1127.5M425.2,1115.1h10M425.2,1127.5h10" stroke="#D7280F" stroke-width="1.3" fill="none"/>
<path d="M435.4,1148.9V1155.5M430.4,1148.9h10M430.4,1155.5h10" stroke="#D7280F" stroke-width="1.3" fill="none"/>
<path d="M442.3,1157.6V1170.8M437.3,1157.6h10M437.3,1170.8h10" stroke="#D7280F" stroke-width="1.3" fill="none"/>
<path d="M450.9,1159.2V1169.2M445.9,1159.2h10M445.9,1169.2h10" stroke="#D7280F" stroke-width="1.3" fill="none"/>
<path d="M463.0,1162.2V1176.5M458.0,1162.2h10M458.0,1176.5h10" stroke="#D7280F" stroke-width="1.3" fill="none"/>
<path d="M475.0,1158.6V1173.2M470.0,1158.6h10M470.0,1173.2h10" stroke="#D7280F" stroke-width="1.3" fill="none"/>
<path d="M487.1,1163.6V1175.1M482.1,1163.6h10M482.1,1175.1h10" stroke="#D7280F" stroke-width="1.3" fill="none"/>
<path d="M499.1,1163.8V1176.3M494.1,1163.8h10M494.1,1176.3h10" stroke="#D7280F" stroke-width="1.3" fill="none"/>
<path d="M511.2,1164.8V1170.5M506.2,1164.8h10M506.2,1170.5h10" stroke="#D7280F" stroke-width="1.3" fill="none"/>
<path d="M523.3,1163.2V1168.6M518.3,1163.2h10M518.3,1168.6h10" stroke="#D7280F" stroke-width="1.3" fill="none"/>
<path d="M535.3,1155.6V1169.4M530.3,1155.6h10M530.3,1169.4h10" stroke="#D7280F" stroke-width="1.3" fill="none"/>
<path d="M649.0,1156.2V1161.9M644.0,1156.2h10M644.0,1161.9h10" stroke="#D7280F" stroke-width="1.3" fill="none"/>
<path d="M657.6,1153.5V1161.2M652.6,1153.5h10M652.6,1161.2h10" stroke="#D7280F" stroke-width="1.3" fill="none"/>
<path d="M668.0,1150.8V1160.4M663.0,1150.8h10M663.0,1160.4h10" stroke="#D7280F" stroke-width="1.3" fill="none"/>
<polyline points="426.80,1248.31 430.25,1121.29 435.41,1152.19 442.30,1164.20 450.92,1164.20 462.97,1169.35 475.03,1165.92 487.09,1169.35 499.14,1170.04 511.20,1167.63 523.26,1165.92 535.32,1162.48 540.49,1248.31 643.84,1248.31 649.00,1159.05 657.62,1157.34 667.95,1155.62" fill="none" stroke="#D7280F" stroke-width="2.5" stroke-linejoin="round" />
<path d="M430.2,1176.9V1182.4M425.2,1176.9h10M425.2,1182.4h10" stroke="#D7280F" stroke-width="1.3" fill="none"/>
<path d="M438.9,1207.5V1220.5M433.9,1207.5h10M433.9,1220.5h10" stroke="#D7280F" stroke-width="1.3" fill="none"/>
<polyline points="426.80,1248.31 430.25,1179.65 438.86,1213.98 449.19,1248.31 667.95,1248.31" fill="none" stroke="#D7280F" stroke-width="2.5" stroke-linejoin="round" />
<path d="M426.8,1009.7V1016.6M421.3,1009.7h11.0M421.3,1016.6h11.0" stroke="#222" stroke-width="1.5" fill="none"/>
<path d="M432.0,1047.5V1057.8M426.5,1047.5h11.0M426.5,1057.8h11.0" stroke="#222" stroke-width="1.5" fill="none"/>
<path d="M438.9,1090.4V1104.1M433.4,1090.4h11.0M433.4,1104.1h11.0" stroke="#222" stroke-width="1.5" fill="none"/>
<path d="M450.9,1150.5V1164.2M445.4,1150.5h11.0M445.4,1164.2h11.0" stroke="#222" stroke-width="1.5" fill="none"/>
<path d="M463.0,1165.9V1174.2M457.5,1165.9h11.0M457.5,1174.2h11.0" stroke="#222" stroke-width="1.5" fill="none"/>
<path d="M475.0,1170.0V1175.5M469.5,1170.0h11.0M469.5,1175.5h11.0" stroke="#222" stroke-width="1.5" fill="none"/>
<path d="M488.8,1170.0V1178.3M483.3,1170.0h11.0M483.3,1178.3h11.0" stroke="#222" stroke-width="1.5" fill="none"/>
<path d="M499.1,1163.2V1176.9M493.6,1163.2h11.0M493.6,1176.9h11.0" stroke="#222" stroke-width="1.5" fill="none"/>
<path d="M512.9,1160.8V1195.1M507.4,1160.8h11.0M507.4,1195.1h11.0" stroke="#222" stroke-width="1.5" fill="none"/>
<path d="M523.3,1157.7V1181.7M517.8,1157.7h11.0M517.8,1181.7h11.0" stroke="#222" stroke-width="1.5" fill="none"/>
<path d="M537.0,1163.9V1184.5M531.5,1163.9h11.0M531.5,1184.5h11.0" stroke="#222" stroke-width="1.5" fill="none"/>
<path d="M540.5,1129.9V1147.0M535.0,1129.9h11.0M535.0,1147.0h11.0" stroke="#222" stroke-width="1.5" fill="none"/>
<path d="M550.8,1066.7V1083.9M545.3,1066.7h11.0M545.3,1083.9h11.0" stroke="#222" stroke-width="1.5" fill="none"/>
<path d="M561.2,1099.0V1119.6M555.7,1099.0h11.0M555.7,1119.6h11.0" stroke="#222" stroke-width="1.5" fill="none"/>
<path d="M574.9,1141.9V1162.5M569.4,1141.9h11.0M569.4,1162.5h11.0" stroke="#222" stroke-width="1.5" fill="none"/>
<path d="M585.3,1165.9V1200.2M579.8,1165.9h11.0M579.8,1200.2h11.0" stroke="#222" stroke-width="1.5" fill="none"/>
<path d="M599.0,1161.1V1178.3M593.5,1161.1h11.0M593.5,1178.3h11.0" stroke="#222" stroke-width="1.5" fill="none"/>
<path d="M609.4,1164.2V1171.1M603.9,1164.2h11.0M603.9,1171.1h11.0" stroke="#222" stroke-width="1.5" fill="none"/>
<path d="M623.2,1167.3V1184.5M617.7,1167.3h11.0M617.7,1184.5h11.0" stroke="#222" stroke-width="1.5" fill="none"/>
<path d="M643.8,1148.1V1158.4M638.3,1148.1h11.0M638.3,1158.4h11.0" stroke="#222" stroke-width="1.5" fill="none"/>
<path d="M649.0,1144.6V1172.1M643.5,1144.6h11.0M643.5,1172.1h11.0" stroke="#222" stroke-width="1.5" fill="none"/>
<path d="M657.6,1173.5V1190.6M652.1,1173.5h11.0M652.1,1190.6h11.0" stroke="#222" stroke-width="1.5" fill="none"/>
<path d="M668.0,1153.6V1177.6M662.5,1153.6h11.0M662.5,1177.6h11.0" stroke="#222" stroke-width="1.5" fill="none"/>
<polyline points="426.80,1013.15 431.97,1052.63 438.86,1097.26 450.92,1157.34 462.97,1170.04 475.03,1172.78 488.81,1174.16 499.14,1170.04 512.92,1177.93 523.26,1169.69 537.04,1174.16 540.49,1138.45 550.82,1075.29 561.15,1109.27 574.93,1152.19 585.27,1183.08 599.05,1169.69 609.38,1167.63 623.16,1175.87 643.84,1153.22 649.00,1158.37 657.62,1182.05 667.95,1165.57" fill="none" stroke="#000" stroke-width="2.6" stroke-linejoin="round" />
<rect x="869.80" y="994.90" width="107.00" height="254.10" fill="#E2E2E2" />
<line x1="869.80" y1="1024.10" x2="976.80" y2="1024.10" stroke="#333" stroke-width="1.6" />
<line x1="869.80" y1="1018.60" x2="869.80" y2="1029.60" stroke="#333" stroke-width="1.6" />
<line x1="976.80" y1="1018.60" x2="976.80" y2="1029.60" stroke="#333" stroke-width="1.6" />
<text x="923.30" y="1017.80" font-size="21" text-anchor="middle" >Amp</text>
<text x="881.30" y="976.50" font-size="21" text-anchor="middle" >1 Rumino and 1 Copro</text>
<line x1="759.80" y1="985.00" x2="759.80" y2="1249.00" stroke="#222" stroke-width="1.8" />
<line x1="752.80" y1="1249.32" x2="759.80" y2="1249.32" stroke="#222" stroke-width="1.6" />
<text x="746.60" y="1257.72" font-size="21" text-anchor="end">10<tspan font-size="14.6" dy="-7.2">−7</tspan></text>
<line x1="752.80" y1="1214.86" x2="759.80" y2="1214.86" stroke="#222" stroke-width="1.6" />
<text x="746.60" y="1223.26" font-size="21" text-anchor="end">10<tspan font-size="14.6" dy="-7.2">−6</tspan></text>
<line x1="752.80" y1="1180.40" x2="759.80" y2="1180.40" stroke="#222" stroke-width="1.6" />
<text x="746.60" y="1188.80" font-size="21" text-anchor="end">10<tspan font-size="14.6" dy="-7.2">−5</tspan></text>
<line x1="752.80" y1="1145.94" x2="759.80" y2="1145.94" stroke="#222" stroke-width="1.6" />
<text x="746.60" y="1154.34" font-size="21" text-anchor="end">10<tspan font-size="14.6" dy="-7.2">−4</tspan></text>
<line x1="752.80" y1="1111.48" x2="759.80" y2="1111.48" stroke="#222" stroke-width="1.6" />
<text x="746.60" y="1119.88" font-size="21" text-anchor="end">10<tspan font-size="14.6" dy="-7.2">−3</tspan></text>
<line x1="752.80" y1="1077.02" x2="759.80" y2="1077.02" stroke="#222" stroke-width="1.6" />
<text x="746.60" y="1085.42" font-size="21" text-anchor="end">10<tspan font-size="14.6" dy="-7.2">−2</tspan></text>
<line x1="752.80" y1="1042.56" x2="759.80" y2="1042.56" stroke="#222" stroke-width="1.6" />
<text x="746.60" y="1050.96" font-size="21" text-anchor="end">10<tspan font-size="14.6" dy="-7.2">−1</tspan></text>
<line x1="752.80" y1="1008.10" x2="759.80" y2="1008.10" stroke="#222" stroke-width="1.6" />
<text x="746.60" y="1016.50" font-size="21" text-anchor="end">10<tspan font-size="14.6" dy="-7.2">0</tspan></text>
<line x1="752.80" y1="1249.00" x2="1001.80" y2="1249.00" stroke="#222" stroke-width="1.8" />
<line x1="759.80" y1="1249.00" x2="759.80" y2="1255.50" stroke="#222" stroke-width="1.6" />
<text x="759.80" y="1275.80" font-size="21" text-anchor="middle" >0</text>
<line x1="808.03" y1="1249.00" x2="808.03" y2="1255.50" stroke="#222" stroke-width="1.6" />
<text x="808.03" y="1275.80" font-size="21" text-anchor="middle" >14</text>
<line x1="856.26" y1="1249.00" x2="856.26" y2="1255.50" stroke="#222" stroke-width="1.6" />
<text x="856.26" y="1275.80" font-size="21" text-anchor="middle" >28</text>
<line x1="904.49" y1="1249.00" x2="904.49" y2="1255.50" stroke="#222" stroke-width="1.6" />
<text x="904.49" y="1275.80" font-size="21" text-anchor="middle" >42</text>
<line x1="952.72" y1="1249.00" x2="952.72" y2="1255.50" stroke="#222" stroke-width="1.6" />
<text x="952.72" y="1275.80" font-size="21" text-anchor="middle" >56</text>
<line x1="1000.95" y1="1249.00" x2="1000.95" y2="1255.50" stroke="#222" stroke-width="1.6" />
<text x="1000.95" y="1275.80" font-size="21" text-anchor="middle" >70</text>
<text x="880.80" y="1310.00" font-size="20.5" text-anchor="middle" >Time (days)</text>
<path d="M763.2,1066.7V1072.2M758.2,1066.7h10M758.2,1072.2h10" stroke="#D7280F" stroke-width="1.3" fill="none"/>
<path d="M766.7,1083.9V1094.3M761.7,1083.9h10M761.7,1094.3h10" stroke="#D7280F" stroke-width="1.3" fill="none"/>
<path d="M783.9,1084.3V1098.7M778.9,1084.3h10M778.9,1098.7h10" stroke="#D7280F" stroke-width="1.3" fill="none"/>
<path d="M796.7,1086.1V1094.2M791.7,1086.1h10M791.7,1094.2h10" stroke="#D7280F" stroke-width="1.3" fill="none"/>
<path d="M808.0,1084.4V1097.2M803.0,1084.4h10M803.0,1097.2h10" stroke="#D7280F" stroke-width="1.3" fill="none"/>
<path d="M820.8,1086.1V1095.5M815.8,1086.1h10M815.8,1095.5h10" stroke="#D7280F" stroke-width="1.3" fill="none"/>
<path d="M832.1,1087.8V1093.8M827.1,1087.8h10M827.1,1093.8h10" stroke="#D7280F" stroke-width="1.3" fill="none"/>
<path d="M844.9,1084.7V1094.8M839.9,1084.7h10M839.9,1094.8h10" stroke="#D7280F" stroke-width="1.3" fill="none"/>
<path d="M856.3,1082.6V1093.5M851.3,1082.6h10M851.3,1093.5h10" stroke="#D7280F" stroke-width="1.3" fill="none"/>
<path d="M870.0,1091.0V1096.1M865.0,1091.0h10M865.0,1096.1h10" stroke="#D7280F" stroke-width="1.3" fill="none"/>
<path d="M878.0,1065.3V1070.2M873.0,1065.3h10M873.0,1070.2h10" stroke="#D7280F" stroke-width="1.3" fill="none"/>
<path d="M882.4,1064.8V1075.5M877.4,1064.8h10M877.4,1075.5h10" stroke="#D7280F" stroke-width="1.3" fill="none"/>
<path d="M893.5,1089.6V1095.4M888.5,1089.6h10M888.5,1095.4h10" stroke="#D7280F" stroke-width="1.3" fill="none"/>
<path d="M907.9,1102.0V1108.6M902.9,1102.0h10M902.9,1108.6h10" stroke="#D7280F" stroke-width="1.3" fill="none"/>
<path d="M918.3,1091.1V1100.9M913.3,1091.1h10M913.3,1100.9h10" stroke="#D7280F" stroke-width="1.3" fill="none"/>
<path d="M932.0,1086.7V1100.4M927.0,1086.7h10M927.0,1100.4h10" stroke="#D7280F" stroke-width="1.3" fill="none"/>
<path d="M942.4,1085.5V1096.1M937.4,1085.5h10M937.4,1096.1h10" stroke="#D7280F" stroke-width="1.3" fill="none"/>
<path d="M956.2,1083.4V1096.8M951.2,1083.4h10M951.2,1096.8h10" stroke="#D7280F" stroke-width="1.3" fill="none"/>
<path d="M976.8,1086.8V1093.4M971.8,1086.8h10M971.8,1093.4h10" stroke="#D7280F" stroke-width="1.3" fill="none"/>
<path d="M983.7,1076.5V1091.3M978.7,1076.5h10M978.7,1091.3h10" stroke="#D7280F" stroke-width="1.3" fill="none"/>
<path d="M992.0,1081.5V1089.7M987.0,1081.5h10M987.0,1089.7h10" stroke="#D7280F" stroke-width="1.3" fill="none"/>
<path d="M1000.9,1086.5V1091.7M995.9,1086.5h10M995.9,1091.7h10" stroke="#D7280F" stroke-width="1.3" fill="none"/>
<polyline points="759.80,1249.32 763.25,1069.44 766.69,1089.08 783.91,1091.49 796.66,1090.11 808.03,1090.80 820.78,1090.80 832.14,1090.80 844.89,1089.77 856.26,1088.05 870.04,1093.56 877.96,1067.72 882.44,1070.13 893.47,1092.53 907.93,1105.28 918.27,1095.97 932.05,1093.56 942.38,1090.80 956.16,1090.11 976.83,1090.11 983.72,1083.91 991.99,1085.63 1000.95,1089.08" fill="none" stroke="#D7280F" stroke-width="2.5" stroke-linejoin="round" />
<path d="M763.2,1070.8V1079.8M758.2,1070.8h10M758.2,1079.8h10" stroke="#D7280F" stroke-width="1.3" fill="none"/>
<path d="M766.7,1110.1V1117.0M761.7,1110.1h10M761.7,1117.0h10" stroke="#D7280F" stroke-width="1.3" fill="none"/>
<path d="M772.5,1117.0V1126.6M767.5,1117.0h10M767.5,1126.6h10" stroke="#D7280F" stroke-width="1.3" fill="none"/>
<path d="M783.9,1126.3V1139.4M778.9,1126.3h10M778.9,1139.4h10" stroke="#D7280F" stroke-width="1.3" fill="none"/>
<path d="M796.7,1122.8V1134.6M791.7,1122.8h10M791.7,1134.6h10" stroke="#D7280F" stroke-width="1.3" fill="none"/>
<path d="M808.0,1121.9V1128.6M803.0,1121.9h10M803.0,1128.6h10" stroke="#D7280F" stroke-width="1.3" fill="none"/>
<path d="M820.8,1124.3V1131.7M815.8,1124.3h10M815.8,1131.7h10" stroke="#D7280F" stroke-width="1.3" fill="none"/>
<path d="M832.1,1126.3V1134.5M827.1,1126.3h10M827.1,1134.5h10" stroke="#D7280F" stroke-width="1.3" fill="none"/>
<path d="M844.9,1130.8V1137.0M839.9,1130.8h10M839.9,1137.0h10" stroke="#D7280F" stroke-width="1.3" fill="none"/>
<path d="M856.3,1127.2V1137.1M851.3,1127.2h10M851.3,1137.1h10" stroke="#D7280F" stroke-width="1.3" fill="none"/>
<path d="M870.0,1132.9V1139.7M865.0,1132.9h10M865.0,1139.7h10" stroke="#D7280F" stroke-width="1.3" fill="none"/>
<path d="M878.0,1067.7V1076.7M873.0,1067.7h10M873.0,1076.7h10" stroke="#D7280F" stroke-width="1.3" fill="none"/>
<path d="M882.4,1070.5V1081.5M877.4,1070.5h10M877.4,1081.5h10" stroke="#D7280F" stroke-width="1.3" fill="none"/>
<path d="M893.5,1107.0V1112.5M888.5,1107.0h10M888.5,1112.5h10" stroke="#D7280F" stroke-width="1.3" fill="none"/>
<path d="M907.9,1110.9V1121.0M902.9,1110.9h10M902.9,1121.0h10" stroke="#D7280F" stroke-width="1.3" fill="none"/>
<path d="M918.3,1116.0V1124.8M913.3,1116.0h10M913.3,1124.8h10" stroke="#D7280F" stroke-width="1.3" fill="none"/>
<path d="M932.0,1103.2V1116.3M927.0,1103.2h10M927.0,1116.3h10" stroke="#D7280F" stroke-width="1.3" fill="none"/>
<path d="M942.4,1101.3V1107.9M937.4,1101.3h10M937.4,1107.9h10" stroke="#D7280F" stroke-width="1.3" fill="none"/>
<path d="M956.2,1100.7V1108.5M951.2,1100.7h10M951.2,1108.5h10" stroke="#D7280F" stroke-width="1.3" fill="none"/>
<path d="M976.8,1104.9V1109.8M971.8,1104.9h10M971.8,1109.8h10" stroke="#D7280F" stroke-width="1.3" fill="none"/>
<path d="M983.7,1105.3V1112.1M978.7,1105.3h10M978.7,1112.1h10" stroke="#D7280F" stroke-width="1.3" fill="none"/>
<path d="M992.0,1103.9V1117.7M987.0,1103.9h10M987.0,1117.7h10" stroke="#D7280F" stroke-width="1.3" fill="none"/>
<path d="M1000.9,1110.6V1119.3M995.9,1110.6h10M995.9,1119.3h10" stroke="#D7280F" stroke-width="1.3" fill="none"/>
<polyline points="759.80,1249.32 763.25,1075.30 766.69,1113.55 772.55,1121.82 783.91,1132.85 796.66,1128.71 808.03,1125.26 820.78,1128.02 832.14,1130.43 844.89,1133.88 856.26,1132.16 870.04,1136.29 877.96,1072.20 882.44,1075.99 893.47,1109.76 907.93,1115.96 918.27,1120.44 932.05,1109.76 942.38,1104.59 956.16,1104.59 976.83,1107.34 983.72,1108.72 991.99,1110.79 1000.95,1114.93" fill="none" stroke="#D7280F" stroke-width="2.5" stroke-linejoin="round" />
<path d="M759.8,1009.8V1016.7M754.3,1009.8h11.0M754.3,1016.7h11.0" stroke="#222" stroke-width="1.5" fill="none"/>
<path d="M765.0,1047.7V1058.1M759.5,1047.7h11.0M759.5,1058.1h11.0" stroke="#222" stroke-width="1.5" fill="none"/>
<path d="M771.9,1090.8V1104.6M766.4,1090.8h11.0M766.4,1104.6h11.0" stroke="#222" stroke-width="1.5" fill="none"/>
<path d="M783.9,1151.1V1164.9M778.4,1151.1h11.0M778.4,1164.9h11.0" stroke="#222" stroke-width="1.5" fill="none"/>
<path d="M796.0,1166.6V1174.9M790.5,1166.6h11.0M790.5,1174.9h11.0" stroke="#222" stroke-width="1.5" fill="none"/>
<path d="M808.0,1170.8V1176.3M802.5,1170.8h11.0M802.5,1176.3h11.0" stroke="#222" stroke-width="1.5" fill="none"/>
<path d="M821.8,1170.8V1179.0M816.3,1170.8h11.0M816.3,1179.0h11.0" stroke="#222" stroke-width="1.5" fill="none"/>
<path d="M832.1,1163.9V1177.6M826.6,1163.9h11.0M826.6,1177.6h11.0" stroke="#222" stroke-width="1.5" fill="none"/>
<path d="M845.9,1161.4V1195.9M840.4,1161.4h11.0M840.4,1195.9h11.0" stroke="#222" stroke-width="1.5" fill="none"/>
<path d="M856.3,1158.3V1182.5M850.8,1158.3h11.0M850.8,1182.5h11.0" stroke="#222" stroke-width="1.5" fill="none"/>
<path d="M870.0,1164.5V1185.2M864.5,1164.5h11.0M864.5,1185.2h11.0" stroke="#222" stroke-width="1.5" fill="none"/>
<path d="M873.5,1130.4V1147.7M868.0,1130.4h11.0M868.0,1147.7h11.0" stroke="#222" stroke-width="1.5" fill="none"/>
<path d="M883.8,1067.0V1084.3M878.3,1067.0h11.0M878.3,1084.3h11.0" stroke="#222" stroke-width="1.5" fill="none"/>
<path d="M894.2,1099.4V1120.1M888.7,1099.4h11.0M888.7,1120.1h11.0" stroke="#222" stroke-width="1.5" fill="none"/>
<path d="M907.9,1142.5V1163.2M902.4,1142.5h11.0M902.4,1163.2h11.0" stroke="#222" stroke-width="1.5" fill="none"/>
<path d="M918.3,1166.6V1201.1M912.8,1166.6h11.0M912.8,1201.1h11.0" stroke="#222" stroke-width="1.5" fill="none"/>
<path d="M932.0,1161.8V1179.0M926.5,1161.8h11.0M926.5,1179.0h11.0" stroke="#222" stroke-width="1.5" fill="none"/>
<path d="M942.4,1164.9V1171.8M936.9,1164.9h11.0M936.9,1171.8h11.0" stroke="#222" stroke-width="1.5" fill="none"/>
<path d="M956.2,1168.0V1185.2M950.7,1168.0h11.0M950.7,1185.2h11.0" stroke="#222" stroke-width="1.5" fill="none"/>
<path d="M976.8,1148.7V1159.0M971.3,1148.7h11.0M971.3,1159.0h11.0" stroke="#222" stroke-width="1.5" fill="none"/>
<path d="M982.0,1145.3V1172.8M976.5,1145.3h11.0M976.5,1172.8h11.0" stroke="#222" stroke-width="1.5" fill="none"/>
<path d="M990.6,1174.2V1191.4M985.1,1174.2h11.0M985.1,1191.4h11.0" stroke="#222" stroke-width="1.5" fill="none"/>
<path d="M1000.9,1154.2V1178.3M995.4,1154.2h11.0M995.4,1178.3h11.0" stroke="#222" stroke-width="1.5" fill="none"/>
<polyline points="759.80,1013.27 764.97,1052.90 771.86,1097.70 783.91,1158.00 795.97,1170.75 808.03,1173.51 821.81,1174.89 832.14,1170.75 845.92,1178.68 856.26,1170.41 870.04,1174.89 873.48,1139.05 883.82,1075.64 894.15,1109.76 907.93,1152.83 918.27,1183.85 932.05,1170.41 942.38,1168.34 956.16,1176.61 976.83,1153.87 982.00,1159.03 990.62,1182.81 1000.95,1166.27" fill="none" stroke="#000" stroke-width="2.6" stroke-linejoin="round" />
<rect x="1203.00" y="999.30" width="106.80" height="249.70" fill="#E2E2E2" />
<line x1="1203.00" y1="1024.60" x2="1309.80" y2="1024.60" stroke="#333" stroke-width="1.6" />
<line x1="1203.00" y1="1019.10" x2="1203.00" y2="1030.10" stroke="#333" stroke-width="1.6" />
<line x1="1309.80" y1="1019.10" x2="1309.80" y2="1030.10" stroke="#333" stroke-width="1.6" />
<text x="1256.40" y="1018.30" font-size="21" text-anchor="middle" >Amp</text>
<text x="1211.40" y="976.50" font-size="21" text-anchor="middle" >F18 strains</text>
<line x1="1092.70" y1="1008.50" x2="1092.70" y2="1249.00" stroke="#222" stroke-width="1.8" />
<line x1="1085.70" y1="1249.33" x2="1092.70" y2="1249.33" stroke="#222" stroke-width="1.6" />
<text x="1079.50" y="1257.73" font-size="21" text-anchor="end">10<tspan font-size="14.6" dy="-7.2">−7</tspan></text>
<line x1="1085.70" y1="1217.94" x2="1092.70" y2="1217.94" stroke="#222" stroke-width="1.6" />
<text x="1079.50" y="1226.34" font-size="21" text-anchor="end">10<tspan font-size="14.6" dy="-7.2">−6</tspan></text>
<line x1="1085.70" y1="1186.55" x2="1092.70" y2="1186.55" stroke="#222" stroke-width="1.6" />
<text x="1079.50" y="1194.95" font-size="21" text-anchor="end">10<tspan font-size="14.6" dy="-7.2">−5</tspan></text>
<line x1="1085.70" y1="1155.16" x2="1092.70" y2="1155.16" stroke="#222" stroke-width="1.6" />
<text x="1079.50" y="1163.56" font-size="21" text-anchor="end">10<tspan font-size="14.6" dy="-7.2">−4</tspan></text>
<line x1="1085.70" y1="1123.77" x2="1092.70" y2="1123.77" stroke="#222" stroke-width="1.6" />
<text x="1079.50" y="1132.17" font-size="21" text-anchor="end">10<tspan font-size="14.6" dy="-7.2">−3</tspan></text>
<line x1="1085.70" y1="1092.38" x2="1092.70" y2="1092.38" stroke="#222" stroke-width="1.6" />
<text x="1079.50" y="1100.78" font-size="21" text-anchor="end">10<tspan font-size="14.6" dy="-7.2">−2</tspan></text>
<line x1="1085.70" y1="1060.99" x2="1092.70" y2="1060.99" stroke="#222" stroke-width="1.6" />
<text x="1079.50" y="1069.39" font-size="21" text-anchor="end">10<tspan font-size="14.6" dy="-7.2">−1</tspan></text>
<line x1="1085.70" y1="1029.60" x2="1092.70" y2="1029.60" stroke="#222" stroke-width="1.6" />
<text x="1079.50" y="1038.00" font-size="21" text-anchor="end">10<tspan font-size="14.6" dy="-7.2">0</tspan></text>
<line x1="1085.70" y1="1249.00" x2="1334.70" y2="1249.00" stroke="#222" stroke-width="1.8" />
<line x1="1092.70" y1="1249.00" x2="1092.70" y2="1255.50" stroke="#222" stroke-width="1.6" />
<text x="1092.70" y="1275.80" font-size="21" text-anchor="middle" >0</text>
<line x1="1140.93" y1="1249.00" x2="1140.93" y2="1255.50" stroke="#222" stroke-width="1.6" />
<text x="1140.93" y="1275.80" font-size="21" text-anchor="middle" >14</text>
<line x1="1189.16" y1="1249.00" x2="1189.16" y2="1255.50" stroke="#222" stroke-width="1.6" />
<text x="1189.16" y="1275.80" font-size="21" text-anchor="middle" >28</text>
<line x1="1237.39" y1="1249.00" x2="1237.39" y2="1255.50" stroke="#222" stroke-width="1.6" />
<text x="1237.39" y="1275.80" font-size="21" text-anchor="middle" >42</text>
<line x1="1285.62" y1="1249.00" x2="1285.62" y2="1255.50" stroke="#222" stroke-width="1.6" />
<text x="1285.62" y="1275.80" font-size="21" text-anchor="middle" >56</text>
<line x1="1333.85" y1="1249.00" x2="1333.85" y2="1255.50" stroke="#222" stroke-width="1.6" />
<text x="1333.85" y="1275.80" font-size="21" text-anchor="middle" >70</text>
<text x="1213.70" y="1310.00" font-size="20.5" text-anchor="middle" >Time (days)</text>
<path d="M1092.7,1031.2V1037.4M1087.2,1031.2h11.0M1087.2,1037.4h11.0" stroke="#222" stroke-width="1.5" fill="none"/>
<path d="M1097.9,1065.7V1075.1M1092.4,1065.7h11.0M1092.4,1075.1h11.0" stroke="#222" stroke-width="1.5" fill="none"/>
<path d="M1104.8,1104.9V1117.5M1099.3,1104.9h11.0M1099.3,1117.5h11.0" stroke="#222" stroke-width="1.5" fill="none"/>
<path d="M1116.8,1159.9V1172.4M1111.3,1159.9h11.0M1111.3,1172.4h11.0" stroke="#222" stroke-width="1.5" fill="none"/>
<path d="M1128.9,1174.0V1181.5M1123.4,1174.0h11.0M1123.4,1181.5h11.0" stroke="#222" stroke-width="1.5" fill="none"/>
<path d="M1140.9,1177.8V1182.8M1135.4,1177.8h11.0M1135.4,1182.8h11.0" stroke="#222" stroke-width="1.5" fill="none"/>
<path d="M1154.7,1177.8V1185.3M1149.2,1177.8h11.0M1149.2,1185.3h11.0" stroke="#222" stroke-width="1.5" fill="none"/>
<path d="M1165.0,1171.5V1184.0M1159.5,1171.5h11.0M1159.5,1184.0h11.0" stroke="#222" stroke-width="1.5" fill="none"/>
<path d="M1178.8,1169.3V1200.7M1173.3,1169.3h11.0M1173.3,1200.7h11.0" stroke="#222" stroke-width="1.5" fill="none"/>
<path d="M1189.2,1166.5V1188.4M1183.7,1166.5h11.0M1183.7,1188.4h11.0" stroke="#222" stroke-width="1.5" fill="none"/>
<path d="M1202.9,1172.1V1190.9M1197.4,1172.1h11.0M1197.4,1190.9h11.0" stroke="#222" stroke-width="1.5" fill="none"/>
<path d="M1206.4,1141.0V1156.7M1200.9,1141.0h11.0M1200.9,1156.7h11.0" stroke="#222" stroke-width="1.5" fill="none"/>
<path d="M1216.7,1083.3V1099.0M1211.2,1083.3h11.0M1211.2,1099.0h11.0" stroke="#222" stroke-width="1.5" fill="none"/>
<path d="M1227.1,1112.8V1131.6M1221.6,1112.8h11.0M1221.6,1131.6h11.0" stroke="#222" stroke-width="1.5" fill="none"/>
<path d="M1240.8,1152.0V1170.9M1235.3,1152.0h11.0M1235.3,1170.9h11.0" stroke="#222" stroke-width="1.5" fill="none"/>
<path d="M1251.2,1174.0V1205.4M1245.7,1174.0h11.0M1245.7,1205.4h11.0" stroke="#222" stroke-width="1.5" fill="none"/>
<path d="M1265.0,1169.6V1185.3M1259.5,1169.6h11.0M1259.5,1185.3h11.0" stroke="#222" stroke-width="1.5" fill="none"/>
<path d="M1275.3,1172.4V1178.7M1269.8,1172.4h11.0M1269.8,1178.7h11.0" stroke="#222" stroke-width="1.5" fill="none"/>
<path d="M1289.1,1175.2V1190.9M1283.6,1175.2h11.0M1283.6,1190.9h11.0" stroke="#222" stroke-width="1.5" fill="none"/>
<path d="M1309.7,1157.7V1167.1M1304.2,1157.7h11.0M1304.2,1167.1h11.0" stroke="#222" stroke-width="1.5" fill="none"/>
<path d="M1314.9,1154.5V1179.6M1309.4,1154.5h11.0M1309.4,1179.6h11.0" stroke="#222" stroke-width="1.5" fill="none"/>
<path d="M1323.5,1180.9V1196.6M1318.0,1180.9h11.0M1318.0,1196.6h11.0" stroke="#222" stroke-width="1.5" fill="none"/>
<path d="M1333.8,1162.7V1184.7M1328.3,1162.7h11.0M1328.3,1184.7h11.0" stroke="#222" stroke-width="1.5" fill="none"/>
<polyline points="1092.70,1034.31 1097.87,1070.41 1104.76,1111.21 1116.82,1166.15 1128.87,1177.76 1140.93,1180.27 1154.71,1181.53 1165.05,1177.76 1178.83,1184.98 1189.16,1177.45 1202.94,1181.53 1206.38,1148.88 1216.72,1091.12 1227.06,1122.20 1240.84,1161.44 1251.17,1189.69 1264.95,1177.45 1275.29,1175.56 1289.07,1183.10 1309.74,1162.38 1314.90,1167.09 1323.52,1188.75 1333.85,1173.68" fill="none" stroke="#000" stroke-width="2.6" stroke-linejoin="round" />
<path d="M1096.1,1153.4V1163.5M1091.1,1153.4h10M1091.1,1163.5h10" stroke="#EBA8A4" stroke-width="1.3" fill="none"/>
<path d="M1104.8,1175.2V1184.4M1099.8,1175.2h10M1099.8,1184.4h10" stroke="#EBA8A4" stroke-width="1.3" fill="none"/>
<path d="M1116.8,1166.2V1173.0M1111.8,1166.2h10M1111.8,1173.0h10" stroke="#EBA8A4" stroke-width="1.3" fill="none"/>
<path d="M1128.9,1178.6V1184.4M1123.9,1178.6h10M1123.9,1184.4h10" stroke="#EBA8A4" stroke-width="1.3" fill="none"/>
<path d="M1140.9,1171.9V1185.7M1135.9,1171.9h10M1135.9,1185.7h10" stroke="#EBA8A4" stroke-width="1.3" fill="none"/>
<path d="M1153.0,1172.7V1183.8M1148.0,1172.7h10M1148.0,1183.8h10" stroke="#EBA8A4" stroke-width="1.3" fill="none"/>
<path d="M1165.0,1165.5V1176.7M1160.0,1165.5h10M1160.0,1176.7h10" stroke="#EBA8A4" stroke-width="1.3" fill="none"/>
<path d="M1177.1,1169.9V1183.6M1172.1,1169.9h10M1172.1,1183.6h10" stroke="#EBA8A4" stroke-width="1.3" fill="none"/>
<path d="M1189.2,1172.1V1180.4M1184.2,1172.1h10M1184.2,1180.4h10" stroke="#EBA8A4" stroke-width="1.3" fill="none"/>
<path d="M1202.9,1165.7V1178.6M1197.9,1165.7h10M1197.9,1178.6h10" stroke="#EBA8A4" stroke-width="1.3" fill="none"/>
<path d="M1213.3,1177.1V1181.9M1208.3,1177.1h10M1208.3,1181.9h10" stroke="#EBA8A4" stroke-width="1.3" fill="none"/>
<path d="M1225.3,1166.1V1178.4M1220.3,1166.1h10M1220.3,1178.4h10" stroke="#EBA8A4" stroke-width="1.3" fill="none"/>
<path d="M1237.4,1174.4V1185.2M1232.4,1174.4h10M1232.4,1185.2h10" stroke="#EBA8A4" stroke-width="1.3" fill="none"/>
<path d="M1249.4,1169.6V1179.0M1244.4,1169.6h10M1244.4,1179.0h10" stroke="#EBA8A4" stroke-width="1.3" fill="none"/>
<path d="M1261.5,1173.5V1178.5M1256.5,1173.5h10M1256.5,1178.5h10" stroke="#EBA8A4" stroke-width="1.3" fill="none"/>
<path d="M1275.3,1169.3V1181.1M1270.3,1169.3h10M1270.3,1181.1h10" stroke="#EBA8A4" stroke-width="1.3" fill="none"/>
<path d="M1285.6,1166.2V1173.6M1280.6,1166.2h10M1280.6,1173.6h10" stroke="#EBA8A4" stroke-width="1.3" fill="none"/>
<path d="M1309.7,1165.1V1175.6M1304.7,1165.1h10M1304.7,1175.6h10" stroke="#EBA8A4" stroke-width="1.3" fill="none"/>
<path d="M1321.8,1167.1V1175.1M1316.8,1167.1h10M1316.8,1175.1h10" stroke="#EBA8A4" stroke-width="1.3" fill="none"/>
<path d="M1333.8,1167.6V1173.7M1328.8,1167.6h10M1328.8,1173.7h10" stroke="#EBA8A4" stroke-width="1.3" fill="none"/>
<polyline points="1092.70,1249.33 1096.14,1158.44 1104.76,1179.81 1116.82,1169.61 1128.87,1181.48 1140.93,1178.79 1152.99,1178.27 1165.05,1171.06 1177.10,1176.79 1189.16,1176.26 1202.94,1172.11 1213.28,1179.48 1225.33,1172.23 1237.39,1179.78 1249.45,1174.30 1261.51,1176.02 1275.29,1175.20 1285.62,1169.91 1309.74,1170.35 1321.79,1171.11 1333.85,1170.64" fill="none" stroke="#EBA8A4" stroke-width="2.5" stroke-linejoin="round" />
<path d="M1096.1,1146.6V1153.9M1091.1,1146.6h10M1091.1,1153.9h10" stroke="#EBA8A4" stroke-width="1.3" fill="none"/>
<path d="M1104.8,1163.7V1171.2M1099.8,1163.7h10M1099.8,1171.2h10" stroke="#EBA8A4" stroke-width="1.3" fill="none"/>
<path d="M1116.8,1163.6V1175.0M1111.8,1163.6h10M1111.8,1175.0h10" stroke="#EBA8A4" stroke-width="1.3" fill="none"/>
<path d="M1128.9,1157.7V1168.3M1123.9,1157.7h10M1123.9,1168.3h10" stroke="#EBA8A4" stroke-width="1.3" fill="none"/>
<path d="M1140.9,1160.6V1172.9M1135.9,1160.6h10M1135.9,1172.9h10" stroke="#EBA8A4" stroke-width="1.3" fill="none"/>
<path d="M1153.0,1161.1V1174.6M1148.0,1161.1h10M1148.0,1174.6h10" stroke="#EBA8A4" stroke-width="1.3" fill="none"/>
<path d="M1165.0,1158.5V1170.9M1160.0,1158.5h10M1160.0,1170.9h10" stroke="#EBA8A4" stroke-width="1.3" fill="none"/>
<path d="M1177.1,1169.7V1179.3M1172.1,1169.7h10M1172.1,1179.3h10" stroke="#EBA8A4" stroke-width="1.3" fill="none"/>
<path d="M1189.2,1161.2V1173.1M1184.2,1161.2h10M1184.2,1173.1h10" stroke="#EBA8A4" stroke-width="1.3" fill="none"/>
<path d="M1202.9,1163.1V1175.0M1197.9,1163.1h10M1197.9,1175.0h10" stroke="#EBA8A4" stroke-width="1.3" fill="none"/>
<path d="M1213.3,1167.8V1174.7M1208.3,1167.8h10M1208.3,1174.7h10" stroke="#EBA8A4" stroke-width="1.3" fill="none"/>
<path d="M1225.3,1179.8V1185.3M1220.3,1179.8h10M1220.3,1185.3h10" stroke="#EBA8A4" stroke-width="1.3" fill="none"/>
<path d="M1237.4,1185.4V1193.0M1232.4,1185.4h10M1232.4,1193.0h10" stroke="#EBA8A4" stroke-width="1.3" fill="none"/>
<path d="M1249.4,1169.9V1181.6M1244.4,1169.9h10M1244.4,1181.6h10" stroke="#EBA8A4" stroke-width="1.3" fill="none"/>
<path d="M1261.5,1170.0V1183.6M1256.5,1170.0h10M1256.5,1183.6h10" stroke="#EBA8A4" stroke-width="1.3" fill="none"/>
<path d="M1275.3,1173.2V1184.7M1270.3,1173.2h10M1270.3,1184.7h10" stroke="#EBA8A4" stroke-width="1.3" fill="none"/>
<path d="M1285.6,1171.7V1185.4M1280.6,1171.7h10M1280.6,1185.4h10" stroke="#EBA8A4" stroke-width="1.3" fill="none"/>
<path d="M1309.7,1176.5V1184.5M1304.7,1176.5h10M1304.7,1184.5h10" stroke="#EBA8A4" stroke-width="1.3" fill="none"/>
<path d="M1321.8,1180.6V1191.0M1316.8,1180.6h10M1316.8,1191.0h10" stroke="#EBA8A4" stroke-width="1.3" fill="none"/>
<path d="M1333.8,1181.5V1194.1M1328.8,1181.5h10M1328.8,1194.1h10" stroke="#EBA8A4" stroke-width="1.3" fill="none"/>
<polyline points="1092.70,1249.33 1096.14,1150.23 1104.76,1167.46 1116.82,1169.28 1128.87,1162.99 1140.93,1166.73 1152.99,1167.86 1165.05,1164.72 1177.10,1174.53 1189.16,1167.11 1202.94,1169.07 1213.28,1171.27 1225.33,1182.53 1237.39,1189.20 1249.45,1175.80 1261.51,1176.85 1275.29,1178.93 1285.62,1178.58 1309.74,1180.48 1321.79,1185.80 1333.85,1187.80" fill="none" stroke="#EBA8A4" stroke-width="2.5" stroke-linejoin="round" />
<path d="M1096.1,1167.7V1179.7M1091.1,1167.7h10M1091.1,1179.7h10" stroke="#EBA8A4" stroke-width="1.3" fill="none"/>
<path d="M1104.8,1151.1V1164.6M1099.8,1151.1h10M1099.8,1164.6h10" stroke="#EBA8A4" stroke-width="1.3" fill="none"/>
<path d="M1116.8,1158.0V1165.1M1111.8,1158.0h10M1111.8,1165.1h10" stroke="#EBA8A4" stroke-width="1.3" fill="none"/>
<path d="M1128.9,1148.1V1161.3M1123.9,1148.1h10M1123.9,1161.3h10" stroke="#EBA8A4" stroke-width="1.3" fill="none"/>
<path d="M1140.9,1149.3V1162.9M1135.9,1149.3h10M1135.9,1162.9h10" stroke="#EBA8A4" stroke-width="1.3" fill="none"/>
<path d="M1153.0,1154.6V1161.3M1148.0,1154.6h10M1148.0,1161.3h10" stroke="#EBA8A4" stroke-width="1.3" fill="none"/>
<path d="M1165.0,1149.1V1156.7M1160.0,1149.1h10M1160.0,1156.7h10" stroke="#EBA8A4" stroke-width="1.3" fill="none"/>
<path d="M1177.1,1153.0V1161.8M1172.1,1153.0h10M1172.1,1161.8h10" stroke="#EBA8A4" stroke-width="1.3" fill="none"/>
<path d="M1189.2,1155.6V1166.9M1184.2,1155.6h10M1184.2,1166.9h10" stroke="#EBA8A4" stroke-width="1.3" fill="none"/>
<path d="M1202.9,1153.7V1166.7M1197.9,1153.7h10M1197.9,1166.7h10" stroke="#EBA8A4" stroke-width="1.3" fill="none"/>
<path d="M1213.3,1163.7V1177.4M1208.3,1163.7h10M1208.3,1177.4h10" stroke="#EBA8A4" stroke-width="1.3" fill="none"/>
<path d="M1225.3,1185.0V1193.4M1220.3,1185.0h10M1220.3,1193.4h10" stroke="#EBA8A4" stroke-width="1.3" fill="none"/>
<path d="M1237.4,1188.5V1201.8M1232.4,1188.5h10M1232.4,1201.8h10" stroke="#EBA8A4" stroke-width="1.3" fill="none"/>
<path d="M1249.4,1161.3V1174.1M1244.4,1161.3h10M1244.4,1174.1h10" stroke="#EBA8A4" stroke-width="1.3" fill="none"/>
<path d="M1261.5,1152.3V1160.3M1256.5,1152.3h10M1256.5,1160.3h10" stroke="#EBA8A4" stroke-width="1.3" fill="none"/>
<path d="M1275.3,1162.1V1172.1M1270.3,1162.1h10M1270.3,1172.1h10" stroke="#EBA8A4" stroke-width="1.3" fill="none"/>
<path d="M1285.6,1167.3V1173.5M1280.6,1167.3h10M1280.6,1173.5h10" stroke="#EBA8A4" stroke-width="1.3" fill="none"/>
<path d="M1309.7,1173.6V1181.7M1304.7,1173.6h10M1304.7,1181.7h10" stroke="#EBA8A4" stroke-width="1.3" fill="none"/>
<path d="M1321.8,1168.6V1178.3M1316.8,1168.6h10M1316.8,1178.3h10" stroke="#EBA8A4" stroke-width="1.3" fill="none"/>
<path d="M1333.8,1169.4V1178.3M1328.8,1169.4h10M1328.8,1178.3h10" stroke="#EBA8A4" stroke-width="1.3" fill="none"/>
<polyline points="1092.70,1249.33 1096.14,1173.68 1104.76,1157.88 1116.82,1161.59 1128.87,1154.71 1140.93,1156.12 1152.99,1157.94 1165.05,1152.91 1177.10,1157.36 1189.16,1161.25 1202.94,1160.16 1213.28,1170.54 1225.33,1189.19 1237.39,1195.12 1249.45,1167.71 1261.51,1156.32 1275.29,1167.09 1285.62,1170.38 1309.74,1177.65 1321.79,1173.44 1333.85,1173.85" fill="none" stroke="#EBA8A4" stroke-width="2.5" stroke-linejoin="round" />
<path d="M1096.1,1170.5V1176.5M1091.1,1170.5h10M1091.1,1176.5h10" stroke="#EBA8A4" stroke-width="1.3" fill="none"/>
<path d="M1104.8,1149.8V1156.1M1099.8,1149.8h10M1099.8,1156.1h10" stroke="#EBA8A4" stroke-width="1.3" fill="none"/>
<path d="M1116.8,1146.8V1155.6M1111.8,1146.8h10M1111.8,1155.6h10" stroke="#EBA8A4" stroke-width="1.3" fill="none"/>
<path d="M1128.9,1145.5V1150.2M1123.9,1145.5h10M1123.9,1150.2h10" stroke="#EBA8A4" stroke-width="1.3" fill="none"/>
<path d="M1140.9,1145.4V1159.0M1135.9,1145.4h10M1135.9,1159.0h10" stroke="#EBA8A4" stroke-width="1.3" fill="none"/>
<path d="M1153.0,1156.6V1162.2M1148.0,1156.6h10M1148.0,1162.2h10" stroke="#EBA8A4" stroke-width="1.3" fill="none"/>
<path d="M1165.0,1143.0V1151.3M1160.0,1143.0h10M1160.0,1151.3h10" stroke="#EBA8A4" stroke-width="1.3" fill="none"/>
<path d="M1177.1,1155.3V1162.4M1172.1,1155.3h10M1172.1,1162.4h10" stroke="#EBA8A4" stroke-width="1.3" fill="none"/>
<path d="M1189.2,1143.6V1151.1M1184.2,1143.6h10M1184.2,1151.1h10" stroke="#EBA8A4" stroke-width="1.3" fill="none"/>
<path d="M1202.9,1151.9V1162.5M1197.9,1151.9h10M1197.9,1162.5h10" stroke="#EBA8A4" stroke-width="1.3" fill="none"/>
<path d="M1213.3,1165.7V1171.7M1208.3,1165.7h10M1208.3,1171.7h10" stroke="#EBA8A4" stroke-width="1.3" fill="none"/>
<path d="M1225.3,1176.3V1183.8M1220.3,1176.3h10M1220.3,1183.8h10" stroke="#EBA8A4" stroke-width="1.3" fill="none"/>
<path d="M1237.4,1181.1V1190.4M1232.4,1181.1h10M1232.4,1190.4h10" stroke="#EBA8A4" stroke-width="1.3" fill="none"/>
<path d="M1249.4,1165.7V1171.5M1244.4,1165.7h10M1244.4,1171.5h10" stroke="#EBA8A4" stroke-width="1.3" fill="none"/>
<path d="M1261.5,1150.9V1155.5M1256.5,1150.9h10M1256.5,1155.5h10" stroke="#EBA8A4" stroke-width="1.3" fill="none"/>
<path d="M1275.3,1149.2V1155.9M1270.3,1149.2h10M1270.3,1155.9h10" stroke="#EBA8A4" stroke-width="1.3" fill="none"/>
<path d="M1285.6,1149.7V1155.3M1280.6,1149.7h10M1280.6,1155.3h10" stroke="#EBA8A4" stroke-width="1.3" fill="none"/>
<path d="M1309.7,1148.6V1162.1M1304.7,1148.6h10M1304.7,1162.1h10" stroke="#EBA8A4" stroke-width="1.3" fill="none"/>
<path d="M1321.8,1148.5V1155.7M1316.8,1148.5h10M1316.8,1155.7h10" stroke="#EBA8A4" stroke-width="1.3" fill="none"/>
<path d="M1333.8,1152.5V1163.1M1328.8,1152.5h10M1328.8,1163.1h10" stroke="#EBA8A4" stroke-width="1.3" fill="none"/>
<polyline points="1092.70,1249.33 1096.14,1173.50 1104.76,1152.95 1116.82,1151.23 1128.87,1147.81 1140.93,1152.22 1152.99,1159.42 1165.05,1147.17 1177.10,1158.86 1189.16,1147.31 1202.94,1157.15 1213.28,1168.69 1225.33,1180.04 1237.39,1185.74 1249.45,1168.60 1261.51,1153.24 1275.29,1152.54 1285.62,1152.51 1309.74,1155.35 1321.79,1152.13 1333.85,1157.82" fill="none" stroke="#EBA8A4" stroke-width="2.5" stroke-linejoin="round" />
<path d="M1096.1,1148.0V1154.3M1091.1,1148.0h10M1091.1,1154.3h10" stroke="#E37770" stroke-width="1.3" fill="none"/>
<path d="M1104.8,1135.6V1147.4M1099.8,1135.6h10M1099.8,1147.4h10" stroke="#E37770" stroke-width="1.3" fill="none"/>
<path d="M1116.8,1134.3V1139.0M1111.8,1134.3h10M1111.8,1139.0h10" stroke="#E37770" stroke-width="1.3" fill="none"/>
<path d="M1128.9,1132.9V1143.0M1123.9,1132.9h10M1123.9,1143.0h10" stroke="#E37770" stroke-width="1.3" fill="none"/>
<path d="M1140.9,1129.5V1141.8M1135.9,1129.5h10M1135.9,1141.8h10" stroke="#E37770" stroke-width="1.3" fill="none"/>
<path d="M1153.0,1140.7V1145.6M1148.0,1140.7h10M1148.0,1145.6h10" stroke="#E37770" stroke-width="1.3" fill="none"/>
<path d="M1165.0,1135.1V1145.4M1160.0,1135.1h10M1160.0,1145.4h10" stroke="#E37770" stroke-width="1.3" fill="none"/>
<path d="M1177.1,1144.7V1149.7M1172.1,1144.7h10M1172.1,1149.7h10" stroke="#E37770" stroke-width="1.3" fill="none"/>
<path d="M1189.2,1135.0V1143.2M1184.2,1135.0h10M1184.2,1143.2h10" stroke="#E37770" stroke-width="1.3" fill="none"/>
<path d="M1202.9,1132.7V1142.6M1197.9,1132.7h10M1197.9,1142.6h10" stroke="#E37770" stroke-width="1.3" fill="none"/>
<path d="M1213.3,1143.9V1157.2M1208.3,1143.9h10M1208.3,1157.2h10" stroke="#E37770" stroke-width="1.3" fill="none"/>
<path d="M1225.3,1155.0V1166.9M1220.3,1155.0h10M1220.3,1166.9h10" stroke="#E37770" stroke-width="1.3" fill="none"/>
<path d="M1237.4,1162.9V1168.4M1232.4,1162.9h10M1232.4,1168.4h10" stroke="#E37770" stroke-width="1.3" fill="none"/>
<path d="M1249.4,1143.0V1148.4M1244.4,1143.0h10M1244.4,1148.4h10" stroke="#E37770" stroke-width="1.3" fill="none"/>
<path d="M1261.5,1126.7V1138.8M1256.5,1126.7h10M1256.5,1138.8h10" stroke="#E37770" stroke-width="1.3" fill="none"/>
<path d="M1275.3,1124.1V1131.1M1270.3,1124.1h10M1270.3,1131.1h10" stroke="#E37770" stroke-width="1.3" fill="none"/>
<path d="M1285.6,1123.1V1135.4M1280.6,1123.1h10M1280.6,1135.4h10" stroke="#E37770" stroke-width="1.3" fill="none"/>
<path d="M1309.7,1119.7V1127.4M1304.7,1119.7h10M1304.7,1127.4h10" stroke="#E37770" stroke-width="1.3" fill="none"/>
<path d="M1321.8,1122.6V1136.2M1316.8,1122.6h10M1316.8,1136.2h10" stroke="#E37770" stroke-width="1.3" fill="none"/>
<path d="M1333.8,1118.2V1125.8M1328.8,1118.2h10M1328.8,1125.8h10" stroke="#E37770" stroke-width="1.3" fill="none"/>
<polyline points="1092.70,1249.33 1096.14,1151.16 1104.76,1141.52 1116.82,1136.65 1128.87,1137.95 1140.93,1135.63 1152.99,1143.17 1165.05,1140.23 1177.10,1147.24 1189.16,1139.12 1202.94,1137.61 1213.28,1150.55 1225.33,1160.94 1237.39,1165.65 1249.45,1145.68 1261.51,1132.71 1275.29,1127.60 1285.62,1129.27 1309.74,1123.51 1321.79,1129.42 1333.85,1122.01" fill="none" stroke="#E37770" stroke-width="2.5" stroke-linejoin="round" />
<path d="M1096.1,1135.6V1145.5M1091.1,1135.6h10M1091.1,1145.5h10" stroke="#E37770" stroke-width="1.3" fill="none"/>
<path d="M1104.8,1137.1V1145.7M1099.8,1137.1h10M1099.8,1145.7h10" stroke="#E37770" stroke-width="1.3" fill="none"/>
<path d="M1116.8,1139.4V1148.6M1111.8,1139.4h10M1111.8,1148.6h10" stroke="#E37770" stroke-width="1.3" fill="none"/>
<path d="M1128.9,1133.3V1140.2M1123.9,1133.3h10M1123.9,1140.2h10" stroke="#E37770" stroke-width="1.3" fill="none"/>
<path d="M1140.9,1128.2V1137.7M1135.9,1128.2h10M1135.9,1137.7h10" stroke="#E37770" stroke-width="1.3" fill="none"/>
<path d="M1153.0,1134.8V1147.9M1148.0,1134.8h10M1148.0,1147.9h10" stroke="#E37770" stroke-width="1.3" fill="none"/>
<path d="M1165.0,1136.4V1143.4M1160.0,1136.4h10M1160.0,1143.4h10" stroke="#E37770" stroke-width="1.3" fill="none"/>
<path d="M1177.1,1133.0V1144.5M1172.1,1133.0h10M1172.1,1144.5h10" stroke="#E37770" stroke-width="1.3" fill="none"/>
<path d="M1189.2,1130.4V1136.1M1184.2,1130.4h10M1184.2,1136.1h10" stroke="#E37770" stroke-width="1.3" fill="none"/>
<path d="M1202.9,1130.8V1141.2M1197.9,1130.8h10M1197.9,1141.2h10" stroke="#E37770" stroke-width="1.3" fill="none"/>
<path d="M1213.3,1140.7V1151.1M1208.3,1140.7h10M1208.3,1151.1h10" stroke="#E37770" stroke-width="1.3" fill="none"/>
<path d="M1225.3,1152.8V1160.9M1220.3,1152.8h10M1220.3,1160.9h10" stroke="#E37770" stroke-width="1.3" fill="none"/>
<path d="M1237.4,1154.2V1165.0M1232.4,1154.2h10M1232.4,1165.0h10" stroke="#E37770" stroke-width="1.3" fill="none"/>
<path d="M1249.4,1136.6V1147.0M1244.4,1136.6h10M1244.4,1147.0h10" stroke="#E37770" stroke-width="1.3" fill="none"/>
<path d="M1261.5,1131.3V1136.8M1256.5,1131.3h10M1256.5,1136.8h10" stroke="#E37770" stroke-width="1.3" fill="none"/>
<path d="M1275.3,1141.4V1154.9M1270.3,1141.4h10M1270.3,1154.9h10" stroke="#E37770" stroke-width="1.3" fill="none"/>
<path d="M1285.6,1136.3V1144.4M1280.6,1136.3h10M1280.6,1144.4h10" stroke="#E37770" stroke-width="1.3" fill="none"/>
<path d="M1309.7,1140.5V1149.2M1304.7,1140.5h10M1304.7,1149.2h10" stroke="#E37770" stroke-width="1.3" fill="none"/>
<path d="M1321.8,1146.7V1157.9M1316.8,1146.7h10M1316.8,1157.9h10" stroke="#E37770" stroke-width="1.3" fill="none"/>
<path d="M1333.8,1145.6V1150.9M1328.8,1145.6h10M1328.8,1150.9h10" stroke="#E37770" stroke-width="1.3" fill="none"/>
<polyline points="1092.70,1249.33 1096.14,1140.56 1104.76,1141.37 1116.82,1144.00 1128.87,1136.76 1140.93,1132.96 1152.99,1141.36 1165.05,1139.90 1177.10,1138.75 1189.16,1133.23 1202.94,1136.01 1213.28,1145.86 1225.33,1156.88 1237.39,1159.61 1249.45,1141.80 1261.51,1134.06 1275.29,1148.12 1285.62,1140.33 1309.74,1144.86 1321.79,1152.30 1333.85,1148.23" fill="none" stroke="#E37770" stroke-width="2.5" stroke-linejoin="round" />
<path d="M1096.1,1110.6V1123.0M1091.1,1110.6h10M1091.1,1123.0h10" stroke="#E37770" stroke-width="1.3" fill="none"/>
<path d="M1104.8,1132.2V1142.3M1099.8,1132.2h10M1099.8,1142.3h10" stroke="#E37770" stroke-width="1.3" fill="none"/>
<path d="M1116.8,1120.3V1133.2M1111.8,1120.3h10M1111.8,1133.2h10" stroke="#E37770" stroke-width="1.3" fill="none"/>
<path d="M1128.9,1123.0V1134.9M1123.9,1123.0h10M1123.9,1134.9h10" stroke="#E37770" stroke-width="1.3" fill="none"/>
<path d="M1140.9,1130.2V1135.9M1135.9,1130.2h10M1135.9,1135.9h10" stroke="#E37770" stroke-width="1.3" fill="none"/>
<path d="M1153.0,1120.6V1130.4M1148.0,1120.6h10M1148.0,1130.4h10" stroke="#E37770" stroke-width="1.3" fill="none"/>
<path d="M1165.0,1132.2V1142.9M1160.0,1132.2h10M1160.0,1142.9h10" stroke="#E37770" stroke-width="1.3" fill="none"/>
<path d="M1177.1,1131.7V1139.8M1172.1,1131.7h10M1172.1,1139.8h10" stroke="#E37770" stroke-width="1.3" fill="none"/>
<path d="M1189.2,1125.7V1135.8M1184.2,1125.7h10M1184.2,1135.8h10" stroke="#E37770" stroke-width="1.3" fill="none"/>
<path d="M1202.9,1135.0V1140.0M1197.9,1135.0h10M1197.9,1140.0h10" stroke="#E37770" stroke-width="1.3" fill="none"/>
<path d="M1213.3,1119.9V1128.0M1208.3,1119.9h10M1208.3,1128.0h10" stroke="#E37770" stroke-width="1.3" fill="none"/>
<path d="M1225.3,1122.5V1135.8M1220.3,1122.5h10M1220.3,1135.8h10" stroke="#E37770" stroke-width="1.3" fill="none"/>
<path d="M1237.4,1124.6V1136.7M1232.4,1124.6h10M1232.4,1136.7h10" stroke="#E37770" stroke-width="1.3" fill="none"/>
<path d="M1249.4,1129.6V1138.6M1244.4,1129.6h10M1244.4,1138.6h10" stroke="#E37770" stroke-width="1.3" fill="none"/>
<path d="M1261.5,1128.5V1137.2M1256.5,1128.5h10M1256.5,1137.2h10" stroke="#E37770" stroke-width="1.3" fill="none"/>
<path d="M1275.3,1135.2V1146.8M1270.3,1135.2h10M1270.3,1146.8h10" stroke="#E37770" stroke-width="1.3" fill="none"/>
<path d="M1285.6,1138.1V1148.1M1280.6,1138.1h10M1280.6,1148.1h10" stroke="#E37770" stroke-width="1.3" fill="none"/>
<path d="M1309.7,1143.2V1148.3M1304.7,1143.2h10M1304.7,1148.3h10" stroke="#E37770" stroke-width="1.3" fill="none"/>
<path d="M1321.8,1137.3V1150.4M1316.8,1137.3h10M1316.8,1150.4h10" stroke="#E37770" stroke-width="1.3" fill="none"/>
<path d="M1333.8,1138.1V1145.8M1328.8,1138.1h10M1328.8,1145.8h10" stroke="#E37770" stroke-width="1.3" fill="none"/>
<polyline points="1092.70,1249.33 1096.14,1116.80 1104.76,1137.24 1116.82,1126.77 1128.87,1128.94 1140.93,1133.05 1152.99,1125.47 1165.05,1137.60 1177.10,1135.76 1189.16,1130.76 1202.94,1137.51 1213.28,1123.96 1225.33,1129.12 1237.39,1130.66 1249.45,1134.11 1261.51,1132.84 1275.29,1141.01 1285.62,1143.12 1309.74,1145.75 1321.79,1143.84 1333.85,1141.94" fill="none" stroke="#E37770" stroke-width="2.5" stroke-linejoin="round" />
<path d="M1096.1,1118.5V1128.0M1091.1,1118.5h10M1091.1,1128.0h10" stroke="#E37770" stroke-width="1.3" fill="none"/>
<path d="M1104.8,1119.9V1133.4M1099.8,1119.9h10M1099.8,1133.4h10" stroke="#E37770" stroke-width="1.3" fill="none"/>
<path d="M1116.8,1127.1V1131.9M1111.8,1127.1h10M1111.8,1131.9h10" stroke="#E37770" stroke-width="1.3" fill="none"/>
<path d="M1128.9,1120.4V1127.2M1123.9,1120.4h10M1123.9,1127.2h10" stroke="#E37770" stroke-width="1.3" fill="none"/>
<path d="M1140.9,1112.0V1125.0M1135.9,1112.0h10M1135.9,1125.0h10" stroke="#E37770" stroke-width="1.3" fill="none"/>
<path d="M1153.0,1113.2V1123.4M1148.0,1113.2h10M1148.0,1123.4h10" stroke="#E37770" stroke-width="1.3" fill="none"/>
<path d="M1165.0,1114.6V1126.3M1160.0,1114.6h10M1160.0,1126.3h10" stroke="#E37770" stroke-width="1.3" fill="none"/>
<path d="M1177.1,1112.3V1121.1M1172.1,1112.3h10M1172.1,1121.1h10" stroke="#E37770" stroke-width="1.3" fill="none"/>
<path d="M1189.2,1122.1V1132.5M1184.2,1122.1h10M1184.2,1132.5h10" stroke="#E37770" stroke-width="1.3" fill="none"/>
<path d="M1202.9,1124.7V1133.2M1197.9,1124.7h10M1197.9,1133.2h10" stroke="#E37770" stroke-width="1.3" fill="none"/>
<path d="M1213.3,1136.9V1142.1M1208.3,1136.9h10M1208.3,1142.1h10" stroke="#E37770" stroke-width="1.3" fill="none"/>
<path d="M1225.3,1156.5V1162.2M1220.3,1156.5h10M1220.3,1162.2h10" stroke="#E37770" stroke-width="1.3" fill="none"/>
<path d="M1237.4,1153.8V1161.4M1232.4,1153.8h10M1232.4,1161.4h10" stroke="#E37770" stroke-width="1.3" fill="none"/>
<path d="M1249.4,1131.2V1143.7M1244.4,1131.2h10M1244.4,1143.7h10" stroke="#E37770" stroke-width="1.3" fill="none"/>
<path d="M1261.5,1120.9V1125.7M1256.5,1120.9h10M1256.5,1125.7h10" stroke="#E37770" stroke-width="1.3" fill="none"/>
<path d="M1275.3,1119.7V1133.0M1270.3,1119.7h10M1270.3,1133.0h10" stroke="#E37770" stroke-width="1.3" fill="none"/>
<path d="M1285.6,1127.3V1132.1M1280.6,1127.3h10M1280.6,1132.1h10" stroke="#E37770" stroke-width="1.3" fill="none"/>
<path d="M1309.7,1118.8V1128.9M1304.7,1118.8h10M1304.7,1128.9h10" stroke="#E37770" stroke-width="1.3" fill="none"/>
<path d="M1321.8,1119.2V1124.9M1316.8,1119.2h10M1316.8,1124.9h10" stroke="#E37770" stroke-width="1.3" fill="none"/>
<path d="M1333.8,1123.4V1134.0M1328.8,1123.4h10M1328.8,1134.0h10" stroke="#E37770" stroke-width="1.3" fill="none"/>
<polyline points="1092.70,1249.33 1096.14,1123.26 1104.76,1126.65 1116.82,1129.48 1128.87,1123.83 1140.93,1118.48 1152.99,1118.30 1165.05,1120.45 1177.10,1116.71 1189.16,1127.27 1202.94,1128.96 1213.28,1139.51 1225.33,1159.35 1237.39,1157.60 1249.45,1137.45 1261.51,1123.28 1275.29,1126.39 1285.62,1129.72 1309.74,1123.87 1321.79,1122.07 1333.85,1128.72" fill="none" stroke="#E37770" stroke-width="2.5" stroke-linejoin="round" />
<path d="M1096.1,1105.1V1118.7M1091.1,1105.1h10M1091.1,1118.7h10" stroke="#DD4A3A" stroke-width="1.3" fill="none"/>
<path d="M1104.8,1113.2V1121.9M1099.8,1113.2h10M1099.8,1121.9h10" stroke="#DD4A3A" stroke-width="1.3" fill="none"/>
<path d="M1116.8,1110.8V1120.6M1111.8,1110.8h10M1111.8,1120.6h10" stroke="#DD4A3A" stroke-width="1.3" fill="none"/>
<path d="M1128.9,1107.6V1114.2M1123.9,1107.6h10M1123.9,1114.2h10" stroke="#DD4A3A" stroke-width="1.3" fill="none"/>
<path d="M1140.9,1118.8V1123.9M1135.9,1118.8h10M1135.9,1123.9h10" stroke="#DD4A3A" stroke-width="1.3" fill="none"/>
<path d="M1153.0,1122.2V1128.1M1148.0,1122.2h10M1148.0,1128.1h10" stroke="#DD4A3A" stroke-width="1.3" fill="none"/>
<path d="M1165.0,1118.2V1123.1M1160.0,1118.2h10M1160.0,1123.1h10" stroke="#DD4A3A" stroke-width="1.3" fill="none"/>
<path d="M1177.1,1111.1V1118.3M1172.1,1111.1h10M1172.1,1118.3h10" stroke="#DD4A3A" stroke-width="1.3" fill="none"/>
<path d="M1189.2,1118.4V1125.9M1184.2,1118.4h10M1184.2,1125.9h10" stroke="#DD4A3A" stroke-width="1.3" fill="none"/>
<path d="M1202.9,1115.8V1129.5M1197.9,1115.8h10M1197.9,1129.5h10" stroke="#DD4A3A" stroke-width="1.3" fill="none"/>
<path d="M1213.3,1128.4V1135.8M1208.3,1128.4h10M1208.3,1135.8h10" stroke="#DD4A3A" stroke-width="1.3" fill="none"/>
<path d="M1225.3,1155.8V1160.5M1220.3,1155.8h10M1220.3,1160.5h10" stroke="#DD4A3A" stroke-width="1.3" fill="none"/>
<path d="M1237.4,1152.4V1162.9M1232.4,1152.4h10M1232.4,1162.9h10" stroke="#DD4A3A" stroke-width="1.3" fill="none"/>
<path d="M1249.4,1123.6V1134.4M1244.4,1123.6h10M1244.4,1134.4h10" stroke="#DD4A3A" stroke-width="1.3" fill="none"/>
<path d="M1261.5,1112.1V1122.9M1256.5,1112.1h10M1256.5,1122.9h10" stroke="#DD4A3A" stroke-width="1.3" fill="none"/>
<path d="M1275.3,1106.2V1114.5M1270.3,1106.2h10M1270.3,1114.5h10" stroke="#DD4A3A" stroke-width="1.3" fill="none"/>
<path d="M1285.6,1108.1V1120.0M1280.6,1108.1h10M1280.6,1120.0h10" stroke="#DD4A3A" stroke-width="1.3" fill="none"/>
<path d="M1309.7,1102.9V1116.4M1304.7,1102.9h10M1304.7,1116.4h10" stroke="#DD4A3A" stroke-width="1.3" fill="none"/>
<path d="M1321.8,1101.8V1108.2M1316.8,1101.8h10M1316.8,1108.2h10" stroke="#DD4A3A" stroke-width="1.3" fill="none"/>
<path d="M1333.8,1099.6V1107.6M1328.8,1099.6h10M1328.8,1107.6h10" stroke="#DD4A3A" stroke-width="1.3" fill="none"/>
<polyline points="1092.70,1249.33 1096.14,1111.91 1104.76,1117.54 1116.82,1115.69 1128.87,1110.89 1140.93,1121.32 1152.99,1125.16 1165.05,1120.61 1177.10,1114.70 1189.16,1122.16 1202.94,1122.68 1213.28,1132.10 1225.33,1158.16 1237.39,1157.62 1249.45,1128.99 1261.51,1117.50 1275.29,1110.35 1285.62,1114.05 1309.74,1109.69 1321.79,1104.98 1333.85,1103.62" fill="none" stroke="#DD4A3A" stroke-width="2.5" stroke-linejoin="round" />
<path d="M1096.1,1093.2V1103.6M1091.1,1093.2h10M1091.1,1103.6h10" stroke="#DD4A3A" stroke-width="1.3" fill="none"/>
<path d="M1104.8,1103.4V1116.8M1099.8,1103.4h10M1099.8,1116.8h10" stroke="#DD4A3A" stroke-width="1.3" fill="none"/>
<path d="M1116.8,1105.3V1113.2M1111.8,1105.3h10M1111.8,1113.2h10" stroke="#DD4A3A" stroke-width="1.3" fill="none"/>
<path d="M1128.9,1107.3V1118.8M1123.9,1107.3h10M1123.9,1118.8h10" stroke="#DD4A3A" stroke-width="1.3" fill="none"/>
<path d="M1140.9,1105.7V1114.1M1135.9,1105.7h10M1135.9,1114.1h10" stroke="#DD4A3A" stroke-width="1.3" fill="none"/>
<path d="M1153.0,1106.2V1112.8M1148.0,1106.2h10M1148.0,1112.8h10" stroke="#DD4A3A" stroke-width="1.3" fill="none"/>
<path d="M1165.0,1114.4V1121.2M1160.0,1114.4h10M1160.0,1121.2h10" stroke="#DD4A3A" stroke-width="1.3" fill="none"/>
<path d="M1177.1,1106.4V1111.7M1172.1,1106.4h10M1172.1,1111.7h10" stroke="#DD4A3A" stroke-width="1.3" fill="none"/>
<path d="M1189.2,1098.9V1108.0M1184.2,1098.9h10M1184.2,1108.0h10" stroke="#DD4A3A" stroke-width="1.3" fill="none"/>
<path d="M1202.9,1098.8V1111.7M1197.9,1098.8h10M1197.9,1111.7h10" stroke="#DD4A3A" stroke-width="1.3" fill="none"/>
<path d="M1213.3,1123.7V1130.3M1208.3,1123.7h10M1208.3,1130.3h10" stroke="#DD4A3A" stroke-width="1.3" fill="none"/>
<path d="M1225.3,1146.2V1159.8M1220.3,1146.2h10M1220.3,1159.8h10" stroke="#DD4A3A" stroke-width="1.3" fill="none"/>
<path d="M1237.4,1140.9V1150.2M1232.4,1140.9h10M1232.4,1150.2h10" stroke="#DD4A3A" stroke-width="1.3" fill="none"/>
<path d="M1249.4,1119.2V1132.3M1244.4,1119.2h10M1244.4,1132.3h10" stroke="#DD4A3A" stroke-width="1.3" fill="none"/>
<path d="M1261.5,1098.4V1110.6M1256.5,1098.4h10M1256.5,1110.6h10" stroke="#DD4A3A" stroke-width="1.3" fill="none"/>
<path d="M1275.3,1086.6V1092.6M1270.3,1086.6h10M1270.3,1092.6h10" stroke="#DD4A3A" stroke-width="1.3" fill="none"/>
<path d="M1285.6,1086.4V1096.9M1280.6,1086.4h10M1280.6,1096.9h10" stroke="#DD4A3A" stroke-width="1.3" fill="none"/>
<path d="M1309.7,1073.9V1082.7M1304.7,1073.9h10M1304.7,1082.7h10" stroke="#DD4A3A" stroke-width="1.3" fill="none"/>
<path d="M1321.8,1083.0V1091.7M1316.8,1083.0h10M1316.8,1091.7h10" stroke="#DD4A3A" stroke-width="1.3" fill="none"/>
<path d="M1333.8,1074.8V1085.5M1328.8,1074.8h10M1328.8,1085.5h10" stroke="#DD4A3A" stroke-width="1.3" fill="none"/>
<polyline points="1092.70,1249.33 1096.14,1098.38 1104.76,1110.07 1116.82,1109.25 1128.87,1113.06 1140.93,1109.92 1152.99,1109.51 1165.05,1117.80 1177.10,1109.03 1189.16,1103.47 1202.94,1105.25 1213.28,1126.99 1225.33,1153.01 1237.39,1145.55 1249.45,1125.74 1261.51,1104.52 1275.29,1089.60 1285.62,1091.63 1309.74,1078.29 1321.79,1087.34 1333.85,1080.16" fill="none" stroke="#DD4A3A" stroke-width="2.5" stroke-linejoin="round" />
<path d="M1096.1,1100.1V1107.8M1091.1,1100.1h10M1091.1,1107.8h10" stroke="#DD4A3A" stroke-width="1.3" fill="none"/>
<path d="M1104.8,1097.9V1106.9M1099.8,1097.9h10M1099.8,1106.9h10" stroke="#DD4A3A" stroke-width="1.3" fill="none"/>
<path d="M1116.8,1111.0V1123.3M1111.8,1111.0h10M1111.8,1123.3h10" stroke="#DD4A3A" stroke-width="1.3" fill="none"/>
<path d="M1128.9,1100.8V1114.2M1123.9,1100.8h10M1123.9,1114.2h10" stroke="#DD4A3A" stroke-width="1.3" fill="none"/>
<path d="M1140.9,1104.6V1115.2M1135.9,1104.6h10M1135.9,1115.2h10" stroke="#DD4A3A" stroke-width="1.3" fill="none"/>
<path d="M1153.0,1101.4V1110.6M1148.0,1101.4h10M1148.0,1110.6h10" stroke="#DD4A3A" stroke-width="1.3" fill="none"/>
<path d="M1165.0,1106.4V1118.6M1160.0,1106.4h10M1160.0,1118.6h10" stroke="#DD4A3A" stroke-width="1.3" fill="none"/>
<path d="M1177.1,1098.1V1105.5M1172.1,1098.1h10M1172.1,1105.5h10" stroke="#DD4A3A" stroke-width="1.3" fill="none"/>
<path d="M1189.2,1110.5V1122.1M1184.2,1110.5h10M1184.2,1122.1h10" stroke="#DD4A3A" stroke-width="1.3" fill="none"/>
<path d="M1202.9,1106.0V1111.9M1197.9,1106.0h10M1197.9,1111.9h10" stroke="#DD4A3A" stroke-width="1.3" fill="none"/>
<path d="M1213.3,1114.2V1123.2M1208.3,1114.2h10M1208.3,1123.2h10" stroke="#DD4A3A" stroke-width="1.3" fill="none"/>
<path d="M1225.3,1127.0V1134.5M1220.3,1127.0h10M1220.3,1134.5h10" stroke="#DD4A3A" stroke-width="1.3" fill="none"/>
<path d="M1237.4,1124.3V1137.3M1232.4,1124.3h10M1232.4,1137.3h10" stroke="#DD4A3A" stroke-width="1.3" fill="none"/>
<path d="M1249.4,1113.7V1120.6M1244.4,1113.7h10M1244.4,1120.6h10" stroke="#DD4A3A" stroke-width="1.3" fill="none"/>
<path d="M1261.5,1092.5V1102.3M1256.5,1092.5h10M1256.5,1102.3h10" stroke="#DD4A3A" stroke-width="1.3" fill="none"/>
<path d="M1275.3,1079.1V1089.7M1270.3,1079.1h10M1270.3,1089.7h10" stroke="#DD4A3A" stroke-width="1.3" fill="none"/>
<path d="M1285.6,1080.0V1085.9M1280.6,1080.0h10M1280.6,1085.9h10" stroke="#DD4A3A" stroke-width="1.3" fill="none"/>
<path d="M1309.7,1067.3V1078.7M1304.7,1067.3h10M1304.7,1078.7h10" stroke="#DD4A3A" stroke-width="1.3" fill="none"/>
<path d="M1321.8,1063.9V1076.7M1316.8,1063.9h10M1316.8,1076.7h10" stroke="#DD4A3A" stroke-width="1.3" fill="none"/>
<path d="M1333.8,1065.7V1075.7M1328.8,1065.7h10M1328.8,1075.7h10" stroke="#DD4A3A" stroke-width="1.3" fill="none"/>
<polyline points="1092.70,1249.33 1096.14,1103.95 1104.76,1102.38 1116.82,1117.16 1128.87,1107.51 1140.93,1109.92 1152.99,1106.03 1165.05,1112.49 1177.10,1101.81 1189.16,1116.31 1202.94,1108.92 1213.28,1118.73 1225.33,1130.76 1237.39,1130.80 1249.45,1117.14 1261.51,1097.39 1275.29,1084.43 1285.62,1082.93 1309.74,1073.03 1321.79,1070.33 1333.85,1070.70" fill="none" stroke="#DD4A3A" stroke-width="2.5" stroke-linejoin="round" />
<path d="M1096.1,1101.1V1111.3M1091.1,1101.1h10M1091.1,1111.3h10" stroke="#DD4A3A" stroke-width="1.3" fill="none"/>
<path d="M1104.8,1104.7V1118.4M1099.8,1104.7h10M1099.8,1118.4h10" stroke="#DD4A3A" stroke-width="1.3" fill="none"/>
<path d="M1116.8,1094.8V1108.2M1111.8,1094.8h10M1111.8,1108.2h10" stroke="#DD4A3A" stroke-width="1.3" fill="none"/>
<path d="M1128.9,1108.2V1117.2M1123.9,1108.2h10M1123.9,1117.2h10" stroke="#DD4A3A" stroke-width="1.3" fill="none"/>
<path d="M1140.9,1111.0V1120.3M1135.9,1111.0h10M1135.9,1120.3h10" stroke="#DD4A3A" stroke-width="1.3" fill="none"/>
<path d="M1153.0,1108.8V1114.6M1148.0,1108.8h10M1148.0,1114.6h10" stroke="#DD4A3A" stroke-width="1.3" fill="none"/>
<path d="M1165.0,1105.3V1112.6M1160.0,1105.3h10M1160.0,1112.6h10" stroke="#DD4A3A" stroke-width="1.3" fill="none"/>
<path d="M1177.1,1109.5V1120.5M1172.1,1109.5h10M1172.1,1120.5h10" stroke="#DD4A3A" stroke-width="1.3" fill="none"/>
<path d="M1189.2,1110.0V1116.3M1184.2,1110.0h10M1184.2,1116.3h10" stroke="#DD4A3A" stroke-width="1.3" fill="none"/>
<path d="M1202.9,1104.1V1116.1M1197.9,1104.1h10M1197.9,1116.1h10" stroke="#DD4A3A" stroke-width="1.3" fill="none"/>
<path d="M1213.3,1123.4V1132.9M1208.3,1123.4h10M1208.3,1132.9h10" stroke="#DD4A3A" stroke-width="1.3" fill="none"/>
<path d="M1225.3,1152.4V1163.9M1220.3,1152.4h10M1220.3,1163.9h10" stroke="#DD4A3A" stroke-width="1.3" fill="none"/>
<path d="M1237.4,1148.7V1154.9M1232.4,1148.7h10M1232.4,1154.9h10" stroke="#DD4A3A" stroke-width="1.3" fill="none"/>
<path d="M1249.4,1116.6V1124.7M1244.4,1116.6h10M1244.4,1124.7h10" stroke="#DD4A3A" stroke-width="1.3" fill="none"/>
<path d="M1261.5,1088.0V1100.0M1256.5,1088.0h10M1256.5,1100.0h10" stroke="#DD4A3A" stroke-width="1.3" fill="none"/>
<path d="M1275.3,1084.4V1090.3M1270.3,1084.4h10M1270.3,1090.3h10" stroke="#DD4A3A" stroke-width="1.3" fill="none"/>
<path d="M1285.6,1075.4V1082.4M1280.6,1075.4h10M1280.6,1082.4h10" stroke="#DD4A3A" stroke-width="1.3" fill="none"/>
<path d="M1309.7,1071.0V1078.8M1304.7,1071.0h10M1304.7,1078.8h10" stroke="#DD4A3A" stroke-width="1.3" fill="none"/>
<path d="M1321.8,1077.9V1083.1M1316.8,1077.9h10M1316.8,1083.1h10" stroke="#DD4A3A" stroke-width="1.3" fill="none"/>
<path d="M1333.8,1078.9V1084.7M1328.8,1078.9h10M1328.8,1084.7h10" stroke="#DD4A3A" stroke-width="1.3" fill="none"/>
<polyline points="1092.70,1249.33 1096.14,1106.19 1104.76,1111.52 1116.82,1101.52 1128.87,1112.72 1140.93,1115.66 1152.99,1111.70 1165.05,1108.93 1177.10,1114.97 1189.16,1113.16 1202.94,1110.13 1213.28,1128.16 1225.33,1158.18 1237.39,1151.78 1249.45,1120.66 1261.51,1094.01 1275.29,1087.37 1285.62,1078.92 1309.74,1074.91 1321.79,1080.48 1333.85,1081.80" fill="none" stroke="#DD4A3A" stroke-width="2.5" stroke-linejoin="round" />
<path d="M1096.1,1094.5V1100.6M1091.1,1094.5h10M1091.1,1100.6h10" stroke="#D7280F" stroke-width="1.3" fill="none"/>
<path d="M1104.8,1092.0V1104.1M1099.8,1092.0h10M1099.8,1104.1h10" stroke="#D7280F" stroke-width="1.3" fill="none"/>
<path d="M1116.8,1104.2V1115.2M1111.8,1104.2h10M1111.8,1115.2h10" stroke="#D7280F" stroke-width="1.3" fill="none"/>
<path d="M1128.9,1093.0V1102.8M1123.9,1093.0h10M1123.9,1102.8h10" stroke="#D7280F" stroke-width="1.3" fill="none"/>
<path d="M1140.9,1093.7V1104.2M1135.9,1093.7h10M1135.9,1104.2h10" stroke="#D7280F" stroke-width="1.3" fill="none"/>
<path d="M1153.0,1096.6V1110.0M1148.0,1096.6h10M1148.0,1110.0h10" stroke="#D7280F" stroke-width="1.3" fill="none"/>
<path d="M1165.0,1100.0V1112.3M1160.0,1100.0h10M1160.0,1112.3h10" stroke="#D7280F" stroke-width="1.3" fill="none"/>
<path d="M1177.1,1105.3V1117.0M1172.1,1105.3h10M1172.1,1117.0h10" stroke="#D7280F" stroke-width="1.3" fill="none"/>
<path d="M1189.2,1107.4V1117.0M1184.2,1107.4h10M1184.2,1117.0h10" stroke="#D7280F" stroke-width="1.3" fill="none"/>
<path d="M1202.9,1093.6V1101.7M1197.9,1093.6h10M1197.9,1101.7h10" stroke="#D7280F" stroke-width="1.3" fill="none"/>
<path d="M1213.3,1120.7V1127.5M1208.3,1120.7h10M1208.3,1127.5h10" stroke="#D7280F" stroke-width="1.3" fill="none"/>
<path d="M1225.3,1131.3V1142.2M1220.3,1131.3h10M1220.3,1142.2h10" stroke="#D7280F" stroke-width="1.3" fill="none"/>
<path d="M1237.4,1134.4V1145.1M1232.4,1134.4h10M1232.4,1145.1h10" stroke="#D7280F" stroke-width="1.3" fill="none"/>
<path d="M1249.4,1107.2V1121.0M1244.4,1107.2h10M1244.4,1121.0h10" stroke="#D7280F" stroke-width="1.3" fill="none"/>
<path d="M1261.5,1099.2V1104.7M1256.5,1099.2h10M1256.5,1104.7h10" stroke="#D7280F" stroke-width="1.3" fill="none"/>
<path d="M1275.3,1098.5V1108.3M1270.3,1098.5h10M1270.3,1108.3h10" stroke="#D7280F" stroke-width="1.3" fill="none"/>
<path d="M1285.6,1097.3V1108.8M1280.6,1097.3h10M1280.6,1108.8h10" stroke="#D7280F" stroke-width="1.3" fill="none"/>
<path d="M1309.7,1090.4V1099.7M1304.7,1090.4h10M1304.7,1099.7h10" stroke="#D7280F" stroke-width="1.3" fill="none"/>
<path d="M1321.8,1096.9V1109.5M1316.8,1096.9h10M1316.8,1109.5h10" stroke="#D7280F" stroke-width="1.3" fill="none"/>
<path d="M1333.8,1097.3V1105.1M1328.8,1097.3h10M1328.8,1105.1h10" stroke="#D7280F" stroke-width="1.3" fill="none"/>
<polyline points="1092.70,1249.33 1096.14,1097.55 1104.76,1098.02 1116.82,1109.70 1128.87,1097.87 1140.93,1098.94 1152.99,1103.31 1165.05,1106.17 1177.10,1111.15 1189.16,1112.18 1202.94,1097.67 1213.28,1124.10 1225.33,1136.78 1237.39,1139.75 1249.45,1114.11 1261.51,1101.94 1275.29,1103.36 1285.62,1103.05 1309.74,1095.02 1321.79,1103.20 1333.85,1101.20" fill="none" stroke="#D7280F" stroke-width="2.5" stroke-linejoin="round" />
<path d="M1096.1,1109.2V1119.6M1091.1,1109.2h10M1091.1,1119.6h10" stroke="#D7280F" stroke-width="1.3" fill="none"/>
<path d="M1104.8,1098.4V1106.5M1099.8,1098.4h10M1099.8,1106.5h10" stroke="#D7280F" stroke-width="1.3" fill="none"/>
<path d="M1116.8,1091.1V1097.6M1111.8,1091.1h10M1111.8,1097.6h10" stroke="#D7280F" stroke-width="1.3" fill="none"/>
<path d="M1128.9,1096.7V1105.9M1123.9,1096.7h10M1123.9,1105.9h10" stroke="#D7280F" stroke-width="1.3" fill="none"/>
<path d="M1140.9,1096.0V1107.7M1135.9,1096.0h10M1135.9,1107.7h10" stroke="#D7280F" stroke-width="1.3" fill="none"/>
<path d="M1153.0,1103.1V1107.6M1148.0,1103.1h10M1148.0,1107.6h10" stroke="#D7280F" stroke-width="1.3" fill="none"/>
<path d="M1165.0,1099.9V1110.3M1160.0,1099.9h10M1160.0,1110.3h10" stroke="#D7280F" stroke-width="1.3" fill="none"/>
<path d="M1177.1,1092.4V1102.4M1172.1,1092.4h10M1172.1,1102.4h10" stroke="#D7280F" stroke-width="1.3" fill="none"/>
<path d="M1189.2,1099.4V1106.0M1184.2,1099.4h10M1184.2,1106.0h10" stroke="#D7280F" stroke-width="1.3" fill="none"/>
<path d="M1202.9,1092.8V1101.4M1197.9,1092.8h10M1197.9,1101.4h10" stroke="#D7280F" stroke-width="1.3" fill="none"/>
<path d="M1213.3,1110.6V1116.8M1208.3,1110.6h10M1208.3,1116.8h10" stroke="#D7280F" stroke-width="1.3" fill="none"/>
<path d="M1225.3,1123.4V1133.2M1220.3,1123.4h10M1220.3,1133.2h10" stroke="#D7280F" stroke-width="1.3" fill="none"/>
<path d="M1237.4,1117.1V1122.3M1232.4,1117.1h10M1232.4,1122.3h10" stroke="#D7280F" stroke-width="1.3" fill="none"/>
<path d="M1249.4,1107.8V1112.3M1244.4,1107.8h10M1244.4,1112.3h10" stroke="#D7280F" stroke-width="1.3" fill="none"/>
<path d="M1261.5,1086.1V1090.7M1256.5,1086.1h10M1256.5,1090.7h10" stroke="#D7280F" stroke-width="1.3" fill="none"/>
<path d="M1275.3,1065.6V1079.0M1270.3,1065.6h10M1270.3,1079.0h10" stroke="#D7280F" stroke-width="1.3" fill="none"/>
<path d="M1285.6,1068.5V1074.6M1280.6,1068.5h10M1280.6,1074.6h10" stroke="#D7280F" stroke-width="1.3" fill="none"/>
<path d="M1309.7,1061.8V1069.6M1304.7,1061.8h10M1304.7,1069.6h10" stroke="#D7280F" stroke-width="1.3" fill="none"/>
<path d="M1321.8,1055.4V1060.3M1316.8,1055.4h10M1316.8,1060.3h10" stroke="#D7280F" stroke-width="1.3" fill="none"/>
<path d="M1333.8,1053.3V1062.4M1328.8,1053.3h10M1328.8,1062.4h10" stroke="#D7280F" stroke-width="1.3" fill="none"/>
<polyline points="1092.70,1249.33 1096.14,1114.40 1104.76,1102.45 1116.82,1094.38 1128.87,1101.34 1140.93,1101.85 1152.99,1105.35 1165.05,1105.09 1177.10,1097.36 1189.16,1102.69 1202.94,1097.07 1213.28,1113.69 1225.33,1128.33 1237.39,1119.74 1249.45,1110.05 1261.51,1088.41 1275.29,1072.32 1285.62,1071.59 1309.74,1065.74 1321.79,1057.85 1333.85,1057.85" fill="none" stroke="#D7280F" stroke-width="2.5" stroke-linejoin="round" />
<path d="M1096.1,1078.1V1086.8M1091.1,1078.1h10M1091.1,1086.8h10" stroke="#D7280F" stroke-width="1.3" fill="none"/>
<path d="M1104.8,1090.6V1104.3M1099.8,1090.6h10M1099.8,1104.3h10" stroke="#D7280F" stroke-width="1.3" fill="none"/>
<path d="M1116.8,1088.6V1094.3M1111.8,1088.6h10M1111.8,1094.3h10" stroke="#D7280F" stroke-width="1.3" fill="none"/>
<path d="M1128.9,1090.2V1096.2M1123.9,1090.2h10M1123.9,1096.2h10" stroke="#D7280F" stroke-width="1.3" fill="none"/>
<path d="M1140.9,1094.2V1100.3M1135.9,1094.2h10M1135.9,1100.3h10" stroke="#D7280F" stroke-width="1.3" fill="none"/>
<path d="M1153.0,1082.5V1095.0M1148.0,1082.5h10M1148.0,1095.0h10" stroke="#D7280F" stroke-width="1.3" fill="none"/>
<path d="M1165.0,1094.0V1102.4M1160.0,1094.0h10M1160.0,1102.4h10" stroke="#D7280F" stroke-width="1.3" fill="none"/>
<path d="M1177.1,1085.5V1094.8M1172.1,1085.5h10M1172.1,1094.8h10" stroke="#D7280F" stroke-width="1.3" fill="none"/>
<path d="M1189.2,1095.5V1101.3M1184.2,1095.5h10M1184.2,1101.3h10" stroke="#D7280F" stroke-width="1.3" fill="none"/>
<path d="M1202.9,1087.3V1100.0M1197.9,1087.3h10M1197.9,1100.0h10" stroke="#D7280F" stroke-width="1.3" fill="none"/>
<path d="M1213.3,1106.8V1112.0M1208.3,1106.8h10M1208.3,1112.0h10" stroke="#D7280F" stroke-width="1.3" fill="none"/>
<path d="M1225.3,1118.5V1130.3M1220.3,1118.5h10M1220.3,1130.3h10" stroke="#D7280F" stroke-width="1.3" fill="none"/>
<path d="M1237.4,1109.5V1117.2M1232.4,1109.5h10M1232.4,1117.2h10" stroke="#D7280F" stroke-width="1.3" fill="none"/>
<path d="M1249.4,1093.9V1105.7M1244.4,1093.9h10M1244.4,1105.7h10" stroke="#D7280F" stroke-width="1.3" fill="none"/>
<path d="M1261.5,1087.5V1101.1M1256.5,1087.5h10M1256.5,1101.1h10" stroke="#D7280F" stroke-width="1.3" fill="none"/>
<path d="M1275.3,1082.8V1089.7M1270.3,1082.8h10M1270.3,1089.7h10" stroke="#D7280F" stroke-width="1.3" fill="none"/>
<path d="M1285.6,1091.3V1096.9M1280.6,1091.3h10M1280.6,1096.9h10" stroke="#D7280F" stroke-width="1.3" fill="none"/>
<path d="M1309.7,1088.8V1094.1M1304.7,1088.8h10M1304.7,1094.1h10" stroke="#D7280F" stroke-width="1.3" fill="none"/>
<path d="M1321.8,1079.6V1091.8M1316.8,1079.6h10M1316.8,1091.8h10" stroke="#D7280F" stroke-width="1.3" fill="none"/>
<path d="M1333.8,1086.1V1090.6M1328.8,1086.1h10M1328.8,1090.6h10" stroke="#D7280F" stroke-width="1.3" fill="none"/>
<polyline points="1092.70,1249.33 1096.14,1082.47 1104.76,1097.44 1116.82,1091.45 1128.87,1093.21 1140.93,1097.23 1152.99,1088.74 1165.05,1098.17 1177.10,1090.12 1189.16,1098.40 1202.94,1093.62 1213.28,1109.42 1225.33,1124.38 1237.39,1113.34 1249.45,1099.77 1261.51,1094.28 1275.29,1086.23 1285.62,1094.13 1309.74,1091.45 1321.79,1085.67 1333.85,1088.34" fill="none" stroke="#D7280F" stroke-width="2.5" stroke-linejoin="round" />
<path d="M1096.1,1067.7V1077.1M1091.1,1067.7h10M1091.1,1077.1h10" stroke="#D7280F" stroke-width="1.3" fill="none"/>
<path d="M1104.8,1083.5V1089.2M1099.8,1083.5h10M1099.8,1089.2h10" stroke="#D7280F" stroke-width="1.3" fill="none"/>
<path d="M1116.8,1074.5V1080.2M1111.8,1074.5h10M1111.8,1080.2h10" stroke="#D7280F" stroke-width="1.3" fill="none"/>
<path d="M1128.9,1076.8V1081.4M1123.9,1076.8h10M1123.9,1081.4h10" stroke="#D7280F" stroke-width="1.3" fill="none"/>
<path d="M1140.9,1088.7V1096.1M1135.9,1088.7h10M1135.9,1096.1h10" stroke="#D7280F" stroke-width="1.3" fill="none"/>
<path d="M1153.0,1086.4V1091.8M1148.0,1086.4h10M1148.0,1091.8h10" stroke="#D7280F" stroke-width="1.3" fill="none"/>
<path d="M1165.0,1072.2V1084.0M1160.0,1072.2h10M1160.0,1084.0h10" stroke="#D7280F" stroke-width="1.3" fill="none"/>
<path d="M1177.1,1079.4V1090.6M1172.1,1079.4h10M1172.1,1090.6h10" stroke="#D7280F" stroke-width="1.3" fill="none"/>
<path d="M1189.2,1074.1V1079.8M1184.2,1074.1h10M1184.2,1079.8h10" stroke="#D7280F" stroke-width="1.3" fill="none"/>
<path d="M1202.9,1079.5V1092.8M1197.9,1079.5h10M1197.9,1092.8h10" stroke="#D7280F" stroke-width="1.3" fill="none"/>
<path d="M1213.3,1109.0V1119.6M1208.3,1109.0h10M1208.3,1119.6h10" stroke="#D7280F" stroke-width="1.3" fill="none"/>
<path d="M1225.3,1133.5V1138.1M1220.3,1133.5h10M1220.3,1138.1h10" stroke="#D7280F" stroke-width="1.3" fill="none"/>
<path d="M1237.4,1125.9V1133.7M1232.4,1125.9h10M1232.4,1133.7h10" stroke="#D7280F" stroke-width="1.3" fill="none"/>
<path d="M1249.4,1102.0V1113.5M1244.4,1102.0h10M1244.4,1113.5h10" stroke="#D7280F" stroke-width="1.3" fill="none"/>
<path d="M1261.5,1082.4V1089.5M1256.5,1082.4h10M1256.5,1089.5h10" stroke="#D7280F" stroke-width="1.3" fill="none"/>
<path d="M1275.3,1072.0V1083.7M1270.3,1072.0h10M1270.3,1083.7h10" stroke="#D7280F" stroke-width="1.3" fill="none"/>
<path d="M1285.6,1062.2V1070.1M1280.6,1062.2h10M1280.6,1070.1h10" stroke="#D7280F" stroke-width="1.3" fill="none"/>
<path d="M1309.7,1060.2V1072.2M1304.7,1060.2h10M1304.7,1072.2h10" stroke="#D7280F" stroke-width="1.3" fill="none"/>
<path d="M1321.8,1069.4V1079.0M1316.8,1069.4h10M1316.8,1079.0h10" stroke="#D7280F" stroke-width="1.3" fill="none"/>
<path d="M1333.8,1066.4V1078.8M1328.8,1066.4h10M1328.8,1078.8h10" stroke="#D7280F" stroke-width="1.3" fill="none"/>
<polyline points="1092.70,1249.33 1096.14,1072.44 1104.76,1086.31 1116.82,1077.34 1128.87,1079.08 1140.93,1092.37 1152.99,1089.09 1165.05,1078.09 1177.10,1085.00 1189.16,1076.99 1202.94,1086.14 1213.28,1114.29 1225.33,1135.77 1237.39,1129.83 1249.45,1107.76 1261.51,1085.95 1275.29,1077.84 1285.62,1066.14 1309.74,1066.21 1321.79,1074.25 1333.85,1072.63" fill="none" stroke="#D7280F" stroke-width="2.5" stroke-linejoin="round" />
<path d="M1096.1,1090.6V1102.6M1091.1,1090.6h10M1091.1,1102.6h10" stroke="#D7280F" stroke-width="1.3" fill="none"/>
<path d="M1104.8,1079.1V1088.6M1099.8,1079.1h10M1099.8,1088.6h10" stroke="#D7280F" stroke-width="1.3" fill="none"/>
<path d="M1116.8,1082.1V1092.3M1111.8,1082.1h10M1111.8,1092.3h10" stroke="#D7280F" stroke-width="1.3" fill="none"/>
<path d="M1128.9,1076.4V1084.4M1123.9,1076.4h10M1123.9,1084.4h10" stroke="#D7280F" stroke-width="1.3" fill="none"/>
<path d="M1140.9,1077.0V1084.5M1135.9,1077.0h10M1135.9,1084.5h10" stroke="#D7280F" stroke-width="1.3" fill="none"/>
<path d="M1153.0,1068.4V1080.5M1148.0,1068.4h10M1148.0,1080.5h10" stroke="#D7280F" stroke-width="1.3" fill="none"/>
<path d="M1165.0,1074.1V1085.0M1160.0,1074.1h10M1160.0,1085.0h10" stroke="#D7280F" stroke-width="1.3" fill="none"/>
<path d="M1177.1,1071.3V1084.0M1172.1,1071.3h10M1172.1,1084.0h10" stroke="#D7280F" stroke-width="1.3" fill="none"/>
<path d="M1189.2,1074.8V1084.8M1184.2,1074.8h10M1184.2,1084.8h10" stroke="#D7280F" stroke-width="1.3" fill="none"/>
<path d="M1202.9,1071.9V1082.7M1197.9,1071.9h10M1197.9,1082.7h10" stroke="#D7280F" stroke-width="1.3" fill="none"/>
<path d="M1213.3,1095.8V1105.9M1208.3,1095.8h10M1208.3,1105.9h10" stroke="#D7280F" stroke-width="1.3" fill="none"/>
<path d="M1225.3,1122.2V1131.8M1220.3,1122.2h10M1220.3,1131.8h10" stroke="#D7280F" stroke-width="1.3" fill="none"/>
<path d="M1237.4,1110.4V1118.6M1232.4,1110.4h10M1232.4,1118.6h10" stroke="#D7280F" stroke-width="1.3" fill="none"/>
<path d="M1249.4,1084.0V1097.3M1244.4,1084.0h10M1244.4,1097.3h10" stroke="#D7280F" stroke-width="1.3" fill="none"/>
<path d="M1261.5,1071.8V1078.2M1256.5,1071.8h10M1256.5,1078.2h10" stroke="#D7280F" stroke-width="1.3" fill="none"/>
<path d="M1275.3,1071.8V1080.0M1270.3,1071.8h10M1270.3,1080.0h10" stroke="#D7280F" stroke-width="1.3" fill="none"/>
<path d="M1285.6,1075.5V1085.1M1280.6,1075.5h10M1280.6,1085.1h10" stroke="#D7280F" stroke-width="1.3" fill="none"/>
<path d="M1309.7,1074.6V1087.3M1304.7,1074.6h10M1304.7,1087.3h10" stroke="#D7280F" stroke-width="1.3" fill="none"/>
<path d="M1321.8,1074.8V1085.6M1316.8,1074.8h10M1316.8,1085.6h10" stroke="#D7280F" stroke-width="1.3" fill="none"/>
<path d="M1333.8,1080.3V1085.7M1328.8,1080.3h10M1328.8,1085.7h10" stroke="#D7280F" stroke-width="1.3" fill="none"/>
<polyline points="1092.70,1249.33 1096.14,1096.58 1104.76,1083.87 1116.82,1087.20 1128.87,1080.39 1140.93,1080.76 1152.99,1074.45 1165.05,1079.52 1177.10,1077.62 1189.16,1079.83 1202.94,1077.27 1213.28,1100.84 1225.33,1126.98 1237.39,1114.53 1249.45,1090.67 1261.51,1074.99 1275.29,1075.91 1285.62,1080.27 1309.74,1080.98 1321.79,1080.23 1333.85,1082.98" fill="none" stroke="#D7280F" stroke-width="2.5" stroke-linejoin="round" />
<path d="M1096.1,1055.2V1060.5M1091.1,1055.2h10M1091.1,1060.5h10" stroke="#D7280F" stroke-width="1.3" fill="none"/>
<path d="M1104.8,1065.7V1079.3M1099.8,1065.7h10M1099.8,1079.3h10" stroke="#D7280F" stroke-width="1.3" fill="none"/>
<path d="M1116.8,1067.2V1076.5M1111.8,1067.2h10M1111.8,1076.5h10" stroke="#D7280F" stroke-width="1.3" fill="none"/>
<path d="M1128.9,1067.3V1073.9M1123.9,1067.3h10M1123.9,1073.9h10" stroke="#D7280F" stroke-width="1.3" fill="none"/>
<path d="M1140.9,1072.7V1081.2M1135.9,1072.7h10M1135.9,1081.2h10" stroke="#D7280F" stroke-width="1.3" fill="none"/>
<path d="M1153.0,1067.3V1076.3M1148.0,1067.3h10M1148.0,1076.3h10" stroke="#D7280F" stroke-width="1.3" fill="none"/>
<path d="M1165.0,1067.7V1072.2M1160.0,1067.7h10M1160.0,1072.2h10" stroke="#D7280F" stroke-width="1.3" fill="none"/>
<path d="M1177.1,1063.1V1071.6M1172.1,1063.1h10M1172.1,1071.6h10" stroke="#D7280F" stroke-width="1.3" fill="none"/>
<path d="M1189.2,1073.5V1083.2M1184.2,1073.5h10M1184.2,1083.2h10" stroke="#D7280F" stroke-width="1.3" fill="none"/>
<path d="M1202.9,1070.3V1079.8M1197.9,1070.3h10M1197.9,1079.8h10" stroke="#D7280F" stroke-width="1.3" fill="none"/>
<path d="M1213.3,1091.9V1100.8M1208.3,1091.9h10M1208.3,1100.8h10" stroke="#D7280F" stroke-width="1.3" fill="none"/>
<path d="M1225.3,1107.0V1112.5M1220.3,1107.0h10M1220.3,1112.5h10" stroke="#D7280F" stroke-width="1.3" fill="none"/>
<path d="M1237.4,1102.6V1113.4M1232.4,1102.6h10M1232.4,1113.4h10" stroke="#D7280F" stroke-width="1.3" fill="none"/>
<path d="M1249.4,1088.7V1098.8M1244.4,1088.7h10M1244.4,1098.8h10" stroke="#D7280F" stroke-width="1.3" fill="none"/>
<path d="M1261.5,1056.5V1064.8M1256.5,1056.5h10M1256.5,1064.8h10" stroke="#D7280F" stroke-width="1.3" fill="none"/>
<path d="M1275.3,1054.2V1061.5M1270.3,1054.2h10M1270.3,1061.5h10" stroke="#D7280F" stroke-width="1.3" fill="none"/>
<path d="M1285.6,1053.0V1062.7M1280.6,1053.0h10M1280.6,1062.7h10" stroke="#D7280F" stroke-width="1.3" fill="none"/>
<path d="M1309.7,1055.3V1060.4M1304.7,1055.3h10M1304.7,1060.4h10" stroke="#D7280F" stroke-width="1.3" fill="none"/>
<path d="M1321.8,1053.0V1062.7M1316.8,1053.0h10M1316.8,1062.7h10" stroke="#D7280F" stroke-width="1.3" fill="none"/>
<path d="M1333.8,1051.7V1064.0M1328.8,1051.7h10M1328.8,1064.0h10" stroke="#D7280F" stroke-width="1.3" fill="none"/>
<polyline points="1092.70,1249.33 1096.14,1057.85 1104.76,1072.52 1116.82,1071.85 1128.87,1070.60 1140.93,1076.93 1152.99,1071.79 1165.05,1069.94 1177.10,1067.38 1189.16,1078.35 1202.94,1075.06 1213.28,1096.34 1225.33,1109.75 1237.39,1108.00 1249.45,1093.75 1261.51,1060.65 1275.29,1057.85 1285.62,1057.85 1309.74,1057.85 1321.79,1057.85 1333.85,1057.85" fill="none" stroke="#D7280F" stroke-width="2.5" stroke-linejoin="round" />
<text x="-1.00" y="1367.60" font-size="33" font-weight="bold" >e</text>
<use href="#mouse" x="0.00" y="1330.30"/>
<line x1="113.40" y1="1402.00" x2="390.50" y2="1402.00" stroke="#000" stroke-width="2.4" />
<path d="M398.50,1402.00 L382.50,1396.00 L385.50,1402.00 L382.50,1408.00 Z" fill="#000"/>
<line x1="123.80" y1="1372.00" x2="123.80" y2="1396.00" stroke="#000" stroke-width="2.2" />
<path d="M123.80,1402.00 L118.20,1387.00 L123.80,1391.00 L129.40,1387.00 Z" fill="#000"/>
<line x1="173.70" y1="1372.00" x2="173.70" y2="1396.00" stroke="#000" stroke-width="2.2" />
<path d="M173.70,1402.00 L168.10,1387.00 L173.70,1391.00 L179.30,1387.00 Z" fill="#000"/>
<text x="92.00" y="1365.30" font-size="21" >Kp-2H7 Isolate mix</text>
<line x1="122.90" y1="1420.00" x2="122.90" y2="1684.18" stroke="#000" stroke-width="2" />
<line x1="116.40" y1="1684.18" x2="122.90" y2="1684.18" stroke="#000" stroke-width="1.6" />
<line x1="119.40" y1="1670.93" x2="122.90" y2="1670.93" stroke="#000" stroke-width="1.0" />
<line x1="119.40" y1="1663.17" x2="122.90" y2="1663.17" stroke="#000" stroke-width="1.0" />
<line x1="119.40" y1="1657.67" x2="122.90" y2="1657.67" stroke="#000" stroke-width="1.0" />
<line x1="119.40" y1="1653.40" x2="122.90" y2="1653.40" stroke="#000" stroke-width="1.0" />
<line x1="119.40" y1="1649.92" x2="122.90" y2="1649.92" stroke="#000" stroke-width="1.0" />
<line x1="119.40" y1="1646.97" x2="122.90" y2="1646.97" stroke="#000" stroke-width="1.0" />
<line x1="119.40" y1="1644.42" x2="122.90" y2="1644.42" stroke="#000" stroke-width="1.0" />
<line x1="119.40" y1="1642.16" x2="122.90" y2="1642.16" stroke="#000" stroke-width="1.0" />
<text x="109.90" y="1692.68" font-size="21" text-anchor="end">10<tspan font-size="15" dy="-7.5">4</tspan></text>
<line x1="116.40" y1="1640.15" x2="122.90" y2="1640.15" stroke="#000" stroke-width="1.6" />
<line x1="119.40" y1="1626.90" x2="122.90" y2="1626.90" stroke="#000" stroke-width="1.0" />
<line x1="119.40" y1="1619.14" x2="122.90" y2="1619.14" stroke="#000" stroke-width="1.0" />
<line x1="119.40" y1="1613.64" x2="122.90" y2="1613.64" stroke="#000" stroke-width="1.0" />
<line x1="119.40" y1="1609.37" x2="122.90" y2="1609.37" stroke="#000" stroke-width="1.0" />
<line x1="119.40" y1="1605.89" x2="122.90" y2="1605.89" stroke="#000" stroke-width="1.0" />
<line x1="119.40" y1="1602.94" x2="122.90" y2="1602.94" stroke="#000" stroke-width="1.0" />
<line x1="119.40" y1="1600.39" x2="122.90" y2="1600.39" stroke="#000" stroke-width="1.0" />
<line x1="119.40" y1="1598.13" x2="122.90" y2="1598.13" stroke="#000" stroke-width="1.0" />
<text x="109.90" y="1648.65" font-size="21" text-anchor="end">10<tspan font-size="15" dy="-7.5">5</tspan></text>
<line x1="116.40" y1="1596.12" x2="122.90" y2="1596.12" stroke="#000" stroke-width="1.6" />
<line x1="119.40" y1="1582.87" x2="122.90" y2="1582.87" stroke="#000" stroke-width="1.0" />
<line x1="119.40" y1="1575.11" x2="122.90" y2="1575.11" stroke="#000" stroke-width="1.0" />
<line x1="119.40" y1="1569.61" x2="122.90" y2="1569.61" stroke="#000" stroke-width="1.0" />
<line x1="119.40" y1="1565.34" x2="122.90" y2="1565.34" stroke="#000" stroke-width="1.0" />
<line x1="119.40" y1="1561.86" x2="122.90" y2="1561.86" stroke="#000" stroke-width="1.0" />
<line x1="119.40" y1="1558.91" x2="122.90" y2="1558.91" stroke="#000" stroke-width="1.0" />
<line x1="119.40" y1="1556.36" x2="122.90" y2="1556.36" stroke="#000" stroke-width="1.0" />
<line x1="119.40" y1="1554.10" x2="122.90" y2="1554.10" stroke="#000" stroke-width="1.0" />
<text x="109.90" y="1604.62" font-size="21" text-anchor="end">10<tspan font-size="15" dy="-7.5">6</tspan></text>
<line x1="116.40" y1="1552.09" x2="122.90" y2="1552.09" stroke="#000" stroke-width="1.6" />
<line x1="119.40" y1="1538.84" x2="122.90" y2="1538.84" stroke="#000" stroke-width="1.0" />
<line x1="119.40" y1="1531.08" x2="122.90" y2="1531.08" stroke="#000" stroke-width="1.0" />
<line x1="119.40" y1="1525.58" x2="122.90" y2="1525.58" stroke="#000" stroke-width="1.0" />
<line x1="119.40" y1="1521.31" x2="122.90" y2="1521.31" stroke="#000" stroke-width="1.0" />
<line x1="119.40" y1="1517.83" x2="122.90" y2="1517.83" stroke="#000" stroke-width="1.0" />
<line x1="119.40" y1="1514.88" x2="122.90" y2="1514.88" stroke="#000" stroke-width="1.0" />
<line x1="119.40" y1="1512.33" x2="122.90" y2="1512.33" stroke="#000" stroke-width="1.0" />
<line x1="119.40" y1="1510.07" x2="122.90" y2="1510.07" stroke="#000" stroke-width="1.0" />
<text x="109.90" y="1560.59" font-size="21" text-anchor="end">10<tspan font-size="15" dy="-7.5">7</tspan></text>
<line x1="116.40" y1="1508.06" x2="122.90" y2="1508.06" stroke="#000" stroke-width="1.6" />
<line x1="119.40" y1="1494.81" x2="122.90" y2="1494.81" stroke="#000" stroke-width="1.0" />
<line x1="119.40" y1="1487.05" x2="122.90" y2="1487.05" stroke="#000" stroke-width="1.0" />
<line x1="119.40" y1="1481.55" x2="122.90" y2="1481.55" stroke="#000" stroke-width="1.0" />
<line x1="119.40" y1="1477.28" x2="122.90" y2="1477.28" stroke="#000" stroke-width="1.0" />
<line x1="119.40" y1="1473.80" x2="122.90" y2="1473.80" stroke="#000" stroke-width="1.0" />
<line x1="119.40" y1="1470.85" x2="122.90" y2="1470.85" stroke="#000" stroke-width="1.0" />
<line x1="119.40" y1="1468.30" x2="122.90" y2="1468.30" stroke="#000" stroke-width="1.0" />
<line x1="119.40" y1="1466.04" x2="122.90" y2="1466.04" stroke="#000" stroke-width="1.0" />
<text x="109.90" y="1516.56" font-size="21" text-anchor="end">10<tspan font-size="15" dy="-7.5">8</tspan></text>
<line x1="116.40" y1="1464.03" x2="122.90" y2="1464.03" stroke="#000" stroke-width="1.6" />
<line x1="119.40" y1="1450.78" x2="122.90" y2="1450.78" stroke="#000" stroke-width="1.0" />
<line x1="119.40" y1="1443.02" x2="122.90" y2="1443.02" stroke="#000" stroke-width="1.0" />
<line x1="119.40" y1="1437.52" x2="122.90" y2="1437.52" stroke="#000" stroke-width="1.0" />
<line x1="119.40" y1="1433.25" x2="122.90" y2="1433.25" stroke="#000" stroke-width="1.0" />
<line x1="119.40" y1="1429.77" x2="122.90" y2="1429.77" stroke="#000" stroke-width="1.0" />
<line x1="119.40" y1="1426.82" x2="122.90" y2="1426.82" stroke="#000" stroke-width="1.0" />
<line x1="119.40" y1="1424.27" x2="122.90" y2="1424.27" stroke="#000" stroke-width="1.0" />
<line x1="119.40" y1="1422.01" x2="122.90" y2="1422.01" stroke="#000" stroke-width="1.0" />
<text x="109.90" y="1472.53" font-size="21" text-anchor="end">10<tspan font-size="15" dy="-7.5">9</tspan></text>
<line x1="116.40" y1="1420.00" x2="122.90" y2="1420.00" stroke="#000" stroke-width="1.6" />
<text x="109.90" y="1428.50" font-size="21" text-anchor="end">10<tspan font-size="15" dy="-7.5">10</tspan></text>
<line x1="121.90" y1="1684.20" x2="388.00" y2="1684.20" stroke="#222" stroke-width="1.8" />
<line x1="122.90" y1="1684.20" x2="122.90" y2="1691.00" stroke="#000" stroke-width="1.6" />
<text x="122.90" y="1713.10" font-size="21" text-anchor="middle" >–7</text>
<line x1="172.88" y1="1684.20" x2="172.88" y2="1691.00" stroke="#000" stroke-width="1.6" />
<text x="172.88" y="1713.10" font-size="21" text-anchor="middle" >0</text>
<line x1="222.86" y1="1684.20" x2="222.86" y2="1691.00" stroke="#000" stroke-width="1.6" />
<text x="222.86" y="1713.10" font-size="21" text-anchor="middle" >7</text>
<line x1="272.84" y1="1684.20" x2="272.84" y2="1691.00" stroke="#000" stroke-width="1.6" />
<text x="272.84" y="1713.10" font-size="21" text-anchor="middle" >14</text>
<line x1="322.82" y1="1684.20" x2="322.82" y2="1691.00" stroke="#000" stroke-width="1.6" />
<text x="322.82" y="1713.10" font-size="21" text-anchor="middle" >21</text>
<line x1="372.80" y1="1684.20" x2="372.80" y2="1691.00" stroke="#000" stroke-width="1.6" />
<text x="372.80" y="1713.10" font-size="21" text-anchor="middle" >28</text>
<text x="249.35" y="1739.80" font-size="20.5" text-anchor="middle" >Time (days)</text>
<text x="51.00" y="1552.09" font-size="20.3" text-anchor="middle" transform="rotate(-90 51.00 1552.09)"><tspan font-style="italic">Klebsiella</tspan> CFU (per g faeces)</text>
<path d="M151.5,1459.6V1486.0M145.5,1459.6h12M145.5,1486.0h12" stroke="#000" stroke-width="1.5" fill="none"/>
<path d="M172.9,1455.2V1466.2M166.9,1455.2h12M166.9,1466.2h12" stroke="#000" stroke-width="1.5" fill="none"/>
<path d="M201.4,1448.6V1467.6M195.4,1448.6h12M195.4,1467.6h12" stroke="#000" stroke-width="1.5" fill="none"/>
<path d="M222.9,1463.6V1480.3M216.9,1463.6h12M216.9,1480.3h12" stroke="#000" stroke-width="1.5" fill="none"/>
<path d="M251.4,1450.8V1471.1M245.4,1450.8h12M245.4,1471.1h12" stroke="#000" stroke-width="1.5" fill="none"/>
<path d="M272.8,1450.8V1498.8M266.8,1450.8h12M266.8,1498.8h12" stroke="#000" stroke-width="1.5" fill="none"/>
<path d="M301.4,1479.4V1503.2M295.4,1479.4h12M295.4,1503.2h12" stroke="#000" stroke-width="1.5" fill="none"/>
<path d="M322.8,1456.1V1488.2M316.8,1456.1h12M316.8,1488.2h12" stroke="#000" stroke-width="1.5" fill="none"/>
<path d="M372.8,1466.2V1489.1M366.8,1466.2h12M366.8,1489.1h12" stroke="#000" stroke-width="1.5" fill="none"/>
<polyline points="151.46,1464.91 172.88,1461.39 201.44,1460.51 222.86,1470.19 251.42,1463.15 272.84,1491.77 301.40,1486.93 322.82,1482.52 372.80,1476.36" fill="none" stroke="#000" stroke-width="2.6" stroke-linejoin="round" />
<circle cx="151.46" cy="1464.91" r="5.6" fill="#000" />
<circle cx="172.88" cy="1461.39" r="5.6" fill="#000" />
<circle cx="201.44" cy="1460.51" r="5.6" fill="#000" />
<circle cx="222.86" cy="1470.19" r="5.6" fill="#000" />
<circle cx="251.42" cy="1463.15" r="5.6" fill="#000" />
<circle cx="272.84" cy="1491.77" r="5.6" fill="#000" />
<circle cx="301.40" cy="1486.93" r="5.6" fill="#000" />
<circle cx="322.82" cy="1482.52" r="5.6" fill="#000" />
<circle cx="372.80" cy="1476.36" r="5.6" fill="#000" />
<path d="M151.5,1453.0V1496.6M145.5,1453.0h12M145.5,1496.6h12" stroke="#0F74B5" stroke-width="1.5" fill="none"/>
<path d="M172.9,1450.8V1466.2M166.9,1450.8h12M166.9,1466.2h12" stroke="#0F74B5" stroke-width="1.5" fill="none"/>
<path d="M201.4,1473.7V1494.9M195.4,1473.7h12M195.4,1494.9h12" stroke="#0F74B5" stroke-width="1.5" fill="none"/>
<path d="M222.9,1477.7V1507.6M216.9,1477.7h12M216.9,1507.6h12" stroke="#0F74B5" stroke-width="1.5" fill="none"/>
<path d="M251.4,1509.4V1522.1M245.4,1509.4h12M245.4,1522.1h12" stroke="#0F74B5" stroke-width="1.5" fill="none"/>
<path d="M272.8,1509.4V1525.7M266.8,1509.4h12M266.8,1525.7h12" stroke="#0F74B5" stroke-width="1.5" fill="none"/>
<path d="M301.4,1506.3V1534.5M295.4,1506.3h12M295.4,1534.5h12" stroke="#0F74B5" stroke-width="1.5" fill="none"/>
<path d="M322.8,1514.7V1536.2M316.8,1514.7h12M316.8,1536.2h12" stroke="#0F74B5" stroke-width="1.5" fill="none"/>
<path d="M372.8,1508.1V1527.9M366.8,1508.1h12M366.8,1527.9h12" stroke="#0F74B5" stroke-width="1.5" fill="none"/>
<polyline points="151.46,1464.03 172.88,1460.95 201.44,1480.32 222.86,1489.13 251.42,1518.19 272.84,1521.27 301.40,1520.83 322.82,1524.35 372.80,1515.99" fill="none" stroke="#0F74B5" stroke-width="2.6" stroke-linejoin="round" />
<circle cx="151.46" cy="1464.03" r="5.6" fill="#0F74B5" />
<circle cx="172.88" cy="1460.95" r="5.6" fill="#0F74B5" />
<circle cx="201.44" cy="1480.32" r="5.6" fill="#0F74B5" />
<circle cx="222.86" cy="1489.13" r="5.6" fill="#0F74B5" />
<circle cx="251.42" cy="1518.19" r="5.6" fill="#0F74B5" />
<circle cx="272.84" cy="1521.27" r="5.6" fill="#0F74B5" />
<circle cx="301.40" cy="1520.83" r="5.6" fill="#0F74B5" />
<circle cx="322.82" cy="1524.35" r="5.6" fill="#0F74B5" />
<circle cx="372.80" cy="1515.99" r="5.6" fill="#0F74B5" />
<path d="M151.5,1444.2V1455.2M145.5,1444.2h12M145.5,1455.2h12" stroke="#D07DB0" stroke-width="1.5" fill="none"/>
<path d="M172.9,1447.3V1499.3M166.9,1447.3h12M166.9,1499.3h12" stroke="#D07DB0" stroke-width="1.5" fill="none"/>
<path d="M201.4,1533.6V1571.9M195.4,1533.6h12M195.4,1571.9h12" stroke="#D07DB0" stroke-width="1.5" fill="none"/>
<path d="M222.9,1564.9V1604.9M216.9,1564.9h12M216.9,1604.9h12" stroke="#D07DB0" stroke-width="1.5" fill="none"/>
<path d="M251.4,1618.1V1649.0M245.4,1618.1h12M245.4,1649.0h12" stroke="#D07DB0" stroke-width="1.5" fill="none"/>
<path d="M272.8,1593.9V1645.9M266.8,1593.9h12M266.8,1645.9h12" stroke="#D07DB0" stroke-width="1.5" fill="none"/>
<path d="M301.4,1613.7V1651.2M295.4,1613.7h12M295.4,1651.2h12" stroke="#D07DB0" stroke-width="1.5" fill="none"/>
<path d="M322.8,1610.2V1635.7M316.8,1610.2h12M316.8,1635.7h12" stroke="#D07DB0" stroke-width="1.5" fill="none"/>
<path d="M372.8,1607.1V1622.5M366.8,1607.1h12M366.8,1622.5h12" stroke="#D07DB0" stroke-width="1.5" fill="none"/>
<polyline points="151.46,1448.18 172.88,1475.48 201.44,1545.49 222.86,1587.75 251.42,1632.22 272.84,1631.34 301.40,1622.98 322.82,1629.58 372.80,1615.05" fill="none" stroke="#D07DB0" stroke-width="2.6" stroke-linejoin="round" />
<circle cx="151.46" cy="1448.18" r="5.6" fill="#D07DB0" />
<circle cx="172.88" cy="1475.48" r="5.6" fill="#D07DB0" />
<circle cx="201.44" cy="1545.49" r="5.6" fill="#D07DB0" />
<circle cx="222.86" cy="1587.75" r="5.6" fill="#D07DB0" />
<circle cx="251.42" cy="1632.22" r="5.6" fill="#D07DB0" />
<circle cx="272.84" cy="1631.34" r="5.6" fill="#D07DB0" />
<circle cx="301.40" cy="1622.98" r="5.6" fill="#D07DB0" />
<circle cx="322.82" cy="1629.58" r="5.6" fill="#D07DB0" />
<circle cx="372.80" cy="1615.05" r="5.6" fill="#D07DB0" />
<path d="M151.5,1450.8V1468.4M145.5,1450.8h12M145.5,1468.4h12" stroke="#D9620F" stroke-width="1.5" fill="none"/>
<path d="M172.9,1451.7V1512.5M166.9,1451.7h12M166.9,1512.5h12" stroke="#D9620F" stroke-width="1.5" fill="none"/>
<path d="M201.4,1531.0V1574.1M195.4,1531.0h12M195.4,1574.1h12" stroke="#D9620F" stroke-width="1.5" fill="none"/>
<path d="M222.9,1564.0V1609.3M216.9,1564.0h12M216.9,1609.3h12" stroke="#D9620F" stroke-width="1.5" fill="none"/>
<path d="M251.4,1607.1V1620.3M245.4,1607.1h12M245.4,1620.3h12" stroke="#D9620F" stroke-width="1.5" fill="none"/>
<path d="M272.8,1615.9V1624.7M266.8,1615.9h12M266.8,1624.7h12" stroke="#D9620F" stroke-width="1.5" fill="none"/>
<path d="M301.4,1589.5V1631.3M295.4,1589.5h12M295.4,1631.3h12" stroke="#D9620F" stroke-width="1.5" fill="none"/>
<path d="M322.8,1622.5V1645.9M316.8,1622.5h12M316.8,1645.9h12" stroke="#D9620F" stroke-width="1.5" fill="none"/>
<path d="M372.8,1639.3V1642.4M366.8,1639.3h12M366.8,1642.4h12" stroke="#D9620F" stroke-width="1.5" fill="none"/>
<polyline points="151.46,1459.63 172.88,1473.28 201.44,1555.17 222.86,1599.20 251.42,1614.17 272.84,1620.34 301.40,1622.98 322.82,1635.31 372.80,1641.03" fill="none" stroke="#D9620F" stroke-width="2.6" stroke-linejoin="round" />
<circle cx="151.46" cy="1459.63" r="5.6" fill="#D9620F" />
<circle cx="172.88" cy="1473.28" r="5.6" fill="#D9620F" />
<circle cx="201.44" cy="1555.17" r="5.6" fill="#D9620F" />
<circle cx="222.86" cy="1599.20" r="5.6" fill="#D9620F" />
<circle cx="251.42" cy="1614.17" r="5.6" fill="#D9620F" />
<circle cx="272.84" cy="1620.34" r="5.6" fill="#D9620F" />
<circle cx="301.40" cy="1622.98" r="5.6" fill="#D9620F" />
<circle cx="322.82" cy="1635.31" r="5.6" fill="#D9620F" />
<circle cx="372.80" cy="1641.03" r="5.6" fill="#D9620F" />
<line x1="389.20" y1="1477.90" x2="424.20" y2="1477.90" stroke="#000" stroke-width="2.8" />
<circle cx="406.70" cy="1477.90" r="5.2" fill="#000" />
<text x="433.40" y="1483.40" font-size="21" >Kp only</text>
<text x="433.40" y="1508.80" font-size="21" >(<tspan font-style="italic">n</tspan> = 5)</text>
<line x1="389.20" y1="1530.00" x2="424.20" y2="1530.00" stroke="#0F74B5" stroke-width="2.8" />
<circle cx="406.70" cy="1530.00" r="5.2" fill="#0F74B5" />
<text x="433.40" y="1537.40" font-size="21" >F13-mix</text>
<text x="433.40" y="1561.30" font-size="21" >(<tspan font-style="italic">n</tspan> = 5)</text>
<line x1="389.20" y1="1586.60" x2="424.20" y2="1586.60" stroke="#D07DB0" stroke-width="2.8" />
<circle cx="406.70" cy="1586.60" r="5.2" fill="#D07DB0" />
<text x="433.40" y="1593.60" font-size="21" >F31-mix</text>
<text x="433.40" y="1617.50" font-size="21" >(<tspan font-style="italic">n</tspan> = 5)</text>
<line x1="389.20" y1="1642.80" x2="424.20" y2="1642.80" stroke="#D9620F" stroke-width="2.8" />
<circle cx="406.70" cy="1642.80" r="5.2" fill="#D9620F" />
<text x="433.40" y="1648.90" font-size="21" >F18-mix</text>
<text x="433.40" y="1671.90" font-size="21" >(<tspan font-style="italic">n</tspan> = 5)</text>
<line x1="525.60" y1="1602.30" x2="525.60" y2="1641.50" stroke="#000" stroke-width="2" />
<text x="543.20" y="1656.70" font-size="16.6" transform="rotate(-90 543.20 1656.70)"><tspan font-style="italic">P</tspan> = 0.44</text>
<line x1="550.40" y1="1517.50" x2="550.40" y2="1602.30" stroke="#000" stroke-width="2" />
<text x="568.00" y="1595.00" font-size="16.6" transform="rotate(-90 568.00 1595.00)"><tspan font-style="italic">P</tspan> = 0.039</text>
<line x1="575.70" y1="1477.50" x2="575.70" y2="1602.30" stroke="#000" stroke-width="2" />
<text x="593.30" y="1581.20" font-size="16.6" transform="rotate(-90 593.30 1581.20)"><tspan font-style="italic">P</tspan> = 0.0003</text>
<text x="652.50" y="1367.80" font-size="33" font-weight="bold" >f</text>
<use href="#mouse" x="649.60" y="1330.30"/>
<line x1="763.10" y1="1402.00" x2="1039.50" y2="1402.00" stroke="#000" stroke-width="2.4" />
<path d="M1047.50,1402.00 L1031.50,1396.00 L1034.50,1402.00 L1031.50,1408.00 Z" fill="#000"/>
<line x1="773.00" y1="1372.00" x2="773.00" y2="1396.00" stroke="#000" stroke-width="2.2" />
<path d="M773.00,1402.00 L767.40,1387.00 L773.00,1391.00 L778.60,1387.00 Z" fill="#000"/>
<line x1="823.20" y1="1372.00" x2="823.20" y2="1396.00" stroke="#000" stroke-width="2.2" />
<path d="M823.20,1402.00 L817.60,1387.00 L823.20,1391.00 L828.80,1387.00 Z" fill="#000"/>
<text x="741.20" y="1365.30" font-size="21" >Kp-2H7</text>
<text x="821.50" y="1365.30" font-size="21" >Isolate mix</text>
<line x1="772.80" y1="1420.00" x2="772.80" y2="1684.48" stroke="#000" stroke-width="2" />
<line x1="766.30" y1="1684.48" x2="772.80" y2="1684.48" stroke="#000" stroke-width="1.6" />
<line x1="769.30" y1="1671.21" x2="772.80" y2="1671.21" stroke="#000" stroke-width="1.0" />
<line x1="769.30" y1="1663.45" x2="772.80" y2="1663.45" stroke="#000" stroke-width="1.0" />
<line x1="769.30" y1="1657.94" x2="772.80" y2="1657.94" stroke="#000" stroke-width="1.0" />
<line x1="769.30" y1="1653.67" x2="772.80" y2="1653.67" stroke="#000" stroke-width="1.0" />
<line x1="769.30" y1="1650.18" x2="772.80" y2="1650.18" stroke="#000" stroke-width="1.0" />
<line x1="769.30" y1="1647.23" x2="772.80" y2="1647.23" stroke="#000" stroke-width="1.0" />
<line x1="769.30" y1="1644.67" x2="772.80" y2="1644.67" stroke="#000" stroke-width="1.0" />
<line x1="769.30" y1="1642.42" x2="772.80" y2="1642.42" stroke="#000" stroke-width="1.0" />
<text x="759.80" y="1692.98" font-size="21" text-anchor="end">10<tspan font-size="15" dy="-7.5">4</tspan></text>
<line x1="766.30" y1="1640.40" x2="772.80" y2="1640.40" stroke="#000" stroke-width="1.6" />
<line x1="769.30" y1="1627.13" x2="772.80" y2="1627.13" stroke="#000" stroke-width="1.0" />
<line x1="769.30" y1="1619.37" x2="772.80" y2="1619.37" stroke="#000" stroke-width="1.0" />
<line x1="769.30" y1="1613.86" x2="772.80" y2="1613.86" stroke="#000" stroke-width="1.0" />
<line x1="769.30" y1="1609.59" x2="772.80" y2="1609.59" stroke="#000" stroke-width="1.0" />
<line x1="769.30" y1="1606.10" x2="772.80" y2="1606.10" stroke="#000" stroke-width="1.0" />
<line x1="769.30" y1="1603.15" x2="772.80" y2="1603.15" stroke="#000" stroke-width="1.0" />
<line x1="769.30" y1="1600.59" x2="772.80" y2="1600.59" stroke="#000" stroke-width="1.0" />
<line x1="769.30" y1="1598.34" x2="772.80" y2="1598.34" stroke="#000" stroke-width="1.0" />
<text x="759.80" y="1648.90" font-size="21" text-anchor="end">10<tspan font-size="15" dy="-7.5">5</tspan></text>
<line x1="766.30" y1="1596.32" x2="772.80" y2="1596.32" stroke="#000" stroke-width="1.6" />
<line x1="769.30" y1="1583.05" x2="772.80" y2="1583.05" stroke="#000" stroke-width="1.0" />
<line x1="769.30" y1="1575.29" x2="772.80" y2="1575.29" stroke="#000" stroke-width="1.0" />
<line x1="769.30" y1="1569.78" x2="772.80" y2="1569.78" stroke="#000" stroke-width="1.0" />
<line x1="769.30" y1="1565.51" x2="772.80" y2="1565.51" stroke="#000" stroke-width="1.0" />
<line x1="769.30" y1="1562.02" x2="772.80" y2="1562.02" stroke="#000" stroke-width="1.0" />
<line x1="769.30" y1="1559.07" x2="772.80" y2="1559.07" stroke="#000" stroke-width="1.0" />
<line x1="769.30" y1="1556.51" x2="772.80" y2="1556.51" stroke="#000" stroke-width="1.0" />
<line x1="769.30" y1="1554.26" x2="772.80" y2="1554.26" stroke="#000" stroke-width="1.0" />
<text x="759.80" y="1604.82" font-size="21" text-anchor="end">10<tspan font-size="15" dy="-7.5">6</tspan></text>
<line x1="766.30" y1="1552.24" x2="772.80" y2="1552.24" stroke="#000" stroke-width="1.6" />
<line x1="769.30" y1="1538.97" x2="772.80" y2="1538.97" stroke="#000" stroke-width="1.0" />
<line x1="769.30" y1="1531.21" x2="772.80" y2="1531.21" stroke="#000" stroke-width="1.0" />
<line x1="769.30" y1="1525.70" x2="772.80" y2="1525.70" stroke="#000" stroke-width="1.0" />
<line x1="769.30" y1="1521.43" x2="772.80" y2="1521.43" stroke="#000" stroke-width="1.0" />
<line x1="769.30" y1="1517.94" x2="772.80" y2="1517.94" stroke="#000" stroke-width="1.0" />
<line x1="769.30" y1="1514.99" x2="772.80" y2="1514.99" stroke="#000" stroke-width="1.0" />
<line x1="769.30" y1="1512.43" x2="772.80" y2="1512.43" stroke="#000" stroke-width="1.0" />
<line x1="769.30" y1="1510.18" x2="772.80" y2="1510.18" stroke="#000" stroke-width="1.0" />
<text x="759.80" y="1560.74" font-size="21" text-anchor="end">10<tspan font-size="15" dy="-7.5">7</tspan></text>
<line x1="766.30" y1="1508.16" x2="772.80" y2="1508.16" stroke="#000" stroke-width="1.6" />
<line x1="769.30" y1="1494.89" x2="772.80" y2="1494.89" stroke="#000" stroke-width="1.0" />
<line x1="769.30" y1="1487.13" x2="772.80" y2="1487.13" stroke="#000" stroke-width="1.0" />
<line x1="769.30" y1="1481.62" x2="772.80" y2="1481.62" stroke="#000" stroke-width="1.0" />
<line x1="769.30" y1="1477.35" x2="772.80" y2="1477.35" stroke="#000" stroke-width="1.0" />
<line x1="769.30" y1="1473.86" x2="772.80" y2="1473.86" stroke="#000" stroke-width="1.0" />
<line x1="769.30" y1="1470.91" x2="772.80" y2="1470.91" stroke="#000" stroke-width="1.0" />
<line x1="769.30" y1="1468.35" x2="772.80" y2="1468.35" stroke="#000" stroke-width="1.0" />
<line x1="769.30" y1="1466.10" x2="772.80" y2="1466.10" stroke="#000" stroke-width="1.0" />
<text x="759.80" y="1516.66" font-size="21" text-anchor="end">10<tspan font-size="15" dy="-7.5">8</tspan></text>
<line x1="766.30" y1="1464.08" x2="772.80" y2="1464.08" stroke="#000" stroke-width="1.6" />
<line x1="769.30" y1="1450.81" x2="772.80" y2="1450.81" stroke="#000" stroke-width="1.0" />
<line x1="769.30" y1="1443.05" x2="772.80" y2="1443.05" stroke="#000" stroke-width="1.0" />
<line x1="769.30" y1="1437.54" x2="772.80" y2="1437.54" stroke="#000" stroke-width="1.0" />
<line x1="769.30" y1="1433.27" x2="772.80" y2="1433.27" stroke="#000" stroke-width="1.0" />
<line x1="769.30" y1="1429.78" x2="772.80" y2="1429.78" stroke="#000" stroke-width="1.0" />
<line x1="769.30" y1="1426.83" x2="772.80" y2="1426.83" stroke="#000" stroke-width="1.0" />
<line x1="769.30" y1="1424.27" x2="772.80" y2="1424.27" stroke="#000" stroke-width="1.0" />
<line x1="769.30" y1="1422.02" x2="772.80" y2="1422.02" stroke="#000" stroke-width="1.0" />
<text x="759.80" y="1472.58" font-size="21" text-anchor="end">10<tspan font-size="15" dy="-7.5">9</tspan></text>
<line x1="766.30" y1="1420.00" x2="772.80" y2="1420.00" stroke="#000" stroke-width="1.6" />
<text x="759.80" y="1428.50" font-size="21" text-anchor="end">10<tspan font-size="15" dy="-7.5">10</tspan></text>
<line x1="771.80" y1="1684.20" x2="1038.10" y2="1684.20" stroke="#222" stroke-width="1.8" />
<line x1="772.80" y1="1684.20" x2="772.80" y2="1691.00" stroke="#000" stroke-width="1.6" />
<text x="772.80" y="1713.00" font-size="21" text-anchor="middle" >–7</text>
<line x1="822.74" y1="1684.20" x2="822.74" y2="1691.00" stroke="#000" stroke-width="1.6" />
<text x="822.74" y="1713.00" font-size="21" text-anchor="middle" >0</text>
<line x1="872.68" y1="1684.20" x2="872.68" y2="1691.00" stroke="#000" stroke-width="1.6" />
<text x="872.68" y="1713.00" font-size="21" text-anchor="middle" >7</text>
<line x1="922.61" y1="1684.20" x2="922.61" y2="1691.00" stroke="#000" stroke-width="1.6" />
<text x="922.61" y="1713.00" font-size="21" text-anchor="middle" >14</text>
<line x1="972.55" y1="1684.20" x2="972.55" y2="1691.00" stroke="#000" stroke-width="1.6" />
<text x="972.55" y="1713.00" font-size="21" text-anchor="middle" >21</text>
<line x1="1022.49" y1="1684.20" x2="1022.49" y2="1691.00" stroke="#000" stroke-width="1.6" />
<text x="1022.49" y="1713.00" font-size="21" text-anchor="middle" >28</text>
<text x="899.14" y="1739.50" font-size="20.5" text-anchor="middle" >Time (days)</text>
<text x="701.50" y="1552.24" font-size="20.3" text-anchor="middle" transform="rotate(-90 701.50 1552.24)"><tspan font-style="italic">Klebsiella</tspan> CFU (per g faeces)</text>
<path d="M801.3,1486.1V1494.9M795.8,1486.1h11.0M795.8,1494.9h11.0" stroke="#A9D6E4" stroke-width="1.5" fill="none"/>
<path d="M822.7,1453.1V1466.3M817.2,1453.1h11.0M817.2,1466.3h11.0" stroke="#A9D6E4" stroke-width="1.5" fill="none"/>
<path d="M851.3,1543.4V1554.4M845.8,1543.4h11.0M845.8,1554.4h11.0" stroke="#A9D6E4" stroke-width="1.5" fill="none"/>
<path d="M872.7,1580.9V1587.5M867.2,1580.9h11.0M867.2,1587.5h11.0" stroke="#A9D6E4" stroke-width="1.5" fill="none"/>
<path d="M901.2,1587.5V1596.3M895.7,1587.5h11.0M895.7,1596.3h11.0" stroke="#A9D6E4" stroke-width="1.5" fill="none"/>
<path d="M922.6,1607.3V1618.4M917.1,1607.3h11.0M917.1,1618.4h11.0" stroke="#A9D6E4" stroke-width="1.5" fill="none"/>
<path d="M951.1,1602.9V1611.7M945.6,1602.9h11.0M945.6,1611.7h11.0" stroke="#A9D6E4" stroke-width="1.5" fill="none"/>
<path d="M972.6,1605.1V1618.4M967.1,1605.1h11.0M967.1,1618.4h11.0" stroke="#A9D6E4" stroke-width="1.5" fill="none"/>
<path d="M1022.5,1589.7V1598.5M1017.0,1589.7h11.0M1017.0,1598.5h11.0" stroke="#A9D6E4" stroke-width="1.5" fill="none"/>
<polyline points="801.34,1490.97 822.74,1459.67 851.27,1549.60 872.68,1584.86 901.21,1591.47 922.61,1612.63 951.15,1607.78 972.55,1612.19 1022.49,1594.56" fill="none" stroke="#A9D6E4" stroke-width="2.6" stroke-linejoin="round" />
<circle cx="801.34" cy="1490.97" r="5.4" fill="#A9D6E4" />
<circle cx="822.74" cy="1459.67" r="5.4" fill="#A9D6E4" />
<circle cx="851.27" cy="1549.60" r="5.4" fill="#A9D6E4" />
<circle cx="872.68" cy="1584.86" r="5.4" fill="#A9D6E4" />
<circle cx="901.21" cy="1591.47" r="5.4" fill="#A9D6E4" />
<circle cx="922.61" cy="1612.63" r="5.4" fill="#A9D6E4" />
<circle cx="951.15" cy="1607.78" r="5.4" fill="#A9D6E4" />
<circle cx="972.55" cy="1612.19" r="5.4" fill="#A9D6E4" />
<circle cx="1022.49" cy="1594.56" r="5.4" fill="#A9D6E4" />
<path d="M801.3,1488.3V1499.3M795.8,1488.3h11.0M795.8,1499.3h11.0" stroke="#84B6C9" stroke-width="1.5" fill="none"/>
<path d="M822.7,1450.9V1470.7M817.2,1450.9h11.0M817.2,1470.7h11.0" stroke="#84B6C9" stroke-width="1.5" fill="none"/>
<path d="M851.3,1530.2V1547.8M845.8,1530.2h11.0M845.8,1547.8h11.0" stroke="#84B6C9" stroke-width="1.5" fill="none"/>
<path d="M872.7,1530.2V1561.1M867.2,1530.2h11.0M867.2,1561.1h11.0" stroke="#84B6C9" stroke-width="1.5" fill="none"/>
<path d="M901.2,1552.2V1583.1M895.7,1552.2h11.0M895.7,1583.1h11.0" stroke="#84B6C9" stroke-width="1.5" fill="none"/>
<path d="M922.6,1576.5V1596.3M917.1,1576.5h11.0M917.1,1596.3h11.0" stroke="#84B6C9" stroke-width="1.5" fill="none"/>
<path d="M951.1,1578.7V1598.5M945.6,1578.7h11.0M945.6,1598.5h11.0" stroke="#84B6C9" stroke-width="1.5" fill="none"/>
<path d="M972.6,1585.3V1605.1M967.1,1585.3h11.0M967.1,1605.1h11.0" stroke="#84B6C9" stroke-width="1.5" fill="none"/>
<path d="M1022.5,1574.3V1585.3M1017.0,1574.3h11.0M1017.0,1585.3h11.0" stroke="#84B6C9" stroke-width="1.5" fill="none"/>
<polyline points="801.34,1493.17 822.74,1464.08 851.27,1536.81 872.68,1549.15 901.21,1569.43 922.61,1584.86 951.15,1589.71 972.55,1597.64 1022.49,1579.13" fill="none" stroke="#84B6C9" stroke-width="2.6" stroke-linejoin="round" />
<circle cx="801.34" cy="1493.17" r="5.4" fill="#84B6C9" />
<circle cx="822.74" cy="1464.08" r="5.4" fill="#84B6C9" />
<circle cx="851.27" cy="1536.81" r="5.4" fill="#84B6C9" />
<circle cx="872.68" cy="1549.15" r="5.4" fill="#84B6C9" />
<circle cx="901.21" cy="1569.43" r="5.4" fill="#84B6C9" />
<circle cx="922.61" cy="1584.86" r="5.4" fill="#84B6C9" />
<circle cx="951.15" cy="1589.71" r="5.4" fill="#84B6C9" />
<circle cx="972.55" cy="1597.64" r="5.4" fill="#84B6C9" />
<circle cx="1022.49" cy="1579.13" r="5.4" fill="#84B6C9" />
<path d="M801.3,1494.9V1503.8M795.8,1494.9h11.0M795.8,1503.8h11.0" stroke="#5F9BB1" stroke-width="1.5" fill="none"/>
<path d="M822.7,1448.7V1468.5M817.2,1448.7h11.0M817.2,1468.5h11.0" stroke="#5F9BB1" stroke-width="1.5" fill="none"/>
<path d="M851.3,1510.4V1558.9M845.8,1510.4h11.0M845.8,1558.9h11.0" stroke="#5F9BB1" stroke-width="1.5" fill="none"/>
<path d="M872.7,1530.2V1569.9M867.2,1530.2h11.0M867.2,1569.9h11.0" stroke="#5F9BB1" stroke-width="1.5" fill="none"/>
<path d="M901.2,1554.4V1591.9M895.7,1554.4h11.0M895.7,1591.9h11.0" stroke="#5F9BB1" stroke-width="1.5" fill="none"/>
<path d="M922.6,1561.1V1591.9M917.1,1561.1h11.0M917.1,1591.9h11.0" stroke="#5F9BB1" stroke-width="1.5" fill="none"/>
<path d="M951.1,1569.9V1591.9M945.6,1569.9h11.0M945.6,1591.9h11.0" stroke="#5F9BB1" stroke-width="1.5" fill="none"/>
<path d="M972.6,1565.5V1587.5M967.1,1565.5h11.0M967.1,1587.5h11.0" stroke="#5F9BB1" stroke-width="1.5" fill="none"/>
<path d="M1022.5,1558.9V1587.5M1017.0,1558.9h11.0M1017.0,1587.5h11.0" stroke="#5F9BB1" stroke-width="1.5" fill="none"/>
<polyline points="801.34,1499.34 822.74,1464.08 851.27,1521.38 872.68,1563.70 901.21,1582.21 922.61,1579.13 951.15,1580.89 972.55,1577.81 1022.49,1579.57" fill="none" stroke="#5F9BB1" stroke-width="2.6" stroke-linejoin="round" />
<circle cx="801.34" cy="1499.34" r="5.4" fill="#5F9BB1" />
<circle cx="822.74" cy="1464.08" r="5.4" fill="#5F9BB1" />
<circle cx="851.27" cy="1521.38" r="5.4" fill="#5F9BB1" />
<circle cx="872.68" cy="1563.70" r="5.4" fill="#5F9BB1" />
<circle cx="901.21" cy="1582.21" r="5.4" fill="#5F9BB1" />
<circle cx="922.61" cy="1579.13" r="5.4" fill="#5F9BB1" />
<circle cx="951.15" cy="1580.89" r="5.4" fill="#5F9BB1" />
<circle cx="972.55" cy="1577.81" r="5.4" fill="#5F9BB1" />
<circle cx="1022.49" cy="1579.57" r="5.4" fill="#5F9BB1" />
<path d="M801.3,1459.7V1472.9M795.8,1459.7h11.0M795.8,1472.9h11.0" stroke="#4B889F" stroke-width="1.5" fill="none"/>
<path d="M822.7,1446.4V1468.5M817.2,1446.4h11.0M817.2,1468.5h11.0" stroke="#4B889F" stroke-width="1.5" fill="none"/>
<path d="M851.3,1506.8V1523.6M845.8,1506.8h11.0M845.8,1523.6h11.0" stroke="#4B889F" stroke-width="1.5" fill="none"/>
<path d="M872.7,1512.6V1530.2M867.2,1512.6h11.0M867.2,1530.2h11.0" stroke="#4B889F" stroke-width="1.5" fill="none"/>
<path d="M901.2,1528.0V1552.7M895.7,1528.0h11.0M895.7,1552.7h11.0" stroke="#4B889F" stroke-width="1.5" fill="none"/>
<path d="M922.6,1530.6V1561.1M917.1,1530.6h11.0M917.1,1561.1h11.0" stroke="#4B889F" stroke-width="1.5" fill="none"/>
<path d="M951.1,1538.1V1574.3M945.6,1538.1h11.0M945.6,1574.3h11.0" stroke="#4B889F" stroke-width="1.5" fill="none"/>
<path d="M972.6,1507.7V1544.3M967.1,1507.7h11.0M967.1,1544.3h11.0" stroke="#4B889F" stroke-width="1.5" fill="none"/>
<path d="M1022.5,1539.9V1559.7M1017.0,1539.9h11.0M1017.0,1559.7h11.0" stroke="#4B889F" stroke-width="1.5" fill="none"/>
<polyline points="801.34,1467.61 822.74,1463.64 851.27,1518.74 872.68,1516.09 901.21,1542.54 922.61,1545.63 951.15,1547.39 972.55,1520.50 1022.49,1551.36" fill="none" stroke="#4B889F" stroke-width="2.6" stroke-linejoin="round" />
<circle cx="801.34" cy="1467.61" r="5.4" fill="#4B889F" />
<circle cx="822.74" cy="1463.64" r="5.4" fill="#4B889F" />
<circle cx="851.27" cy="1518.74" r="5.4" fill="#4B889F" />
<circle cx="872.68" cy="1516.09" r="5.4" fill="#4B889F" />
<circle cx="901.21" cy="1542.54" r="5.4" fill="#4B889F" />
<circle cx="922.61" cy="1545.63" r="5.4" fill="#4B889F" />
<circle cx="951.15" cy="1547.39" r="5.4" fill="#4B889F" />
<circle cx="972.55" cy="1520.50" r="5.4" fill="#4B889F" />
<circle cx="1022.49" cy="1551.36" r="5.4" fill="#4B889F" />
<path d="M801.3,1466.3V1481.7M795.8,1466.3h11.0M795.8,1481.7h11.0" stroke="#D9620F" stroke-width="1.5" fill="none"/>
<path d="M822.7,1448.7V1475.1M817.2,1448.7h11.0M817.2,1475.1h11.0" stroke="#D9620F" stroke-width="1.5" fill="none"/>
<path d="M851.3,1525.8V1543.4M845.8,1525.8h11.0M845.8,1543.4h11.0" stroke="#D9620F" stroke-width="1.5" fill="none"/>
<path d="M872.7,1561.1V1574.3M867.2,1561.1h11.0M867.2,1574.3h11.0" stroke="#D9620F" stroke-width="1.5" fill="none"/>
<path d="M901.2,1576.9V1622.8M895.7,1576.9h11.0M895.7,1622.8h11.0" stroke="#D9620F" stroke-width="1.5" fill="none"/>
<path d="M922.6,1614.0V1646.1M917.1,1614.0h11.0M917.1,1646.1h11.0" stroke="#D9620F" stroke-width="1.5" fill="none"/>
<path d="M951.1,1616.2V1640.4M945.6,1616.2h11.0M945.6,1640.4h11.0" stroke="#D9620F" stroke-width="1.5" fill="none"/>
<path d="M972.6,1610.4V1679.2M967.1,1610.4h11.0M967.1,1679.2h11.0" stroke="#D9620F" stroke-width="1.5" fill="none"/>
<path d="M1022.5,1617.5V1654.1M1017.0,1617.5h11.0M1017.0,1654.1h11.0" stroke="#D9620F" stroke-width="1.5" fill="none"/>
<polyline points="801.34,1473.78 822.74,1463.20 851.27,1533.73 872.68,1568.11 901.21,1616.16 922.61,1618.36 951.15,1625.85 972.55,1637.31 1022.49,1634.67" fill="none" stroke="#D9620F" stroke-width="2.6" stroke-linejoin="round" />
<circle cx="801.34" cy="1473.78" r="5.4" fill="#D9620F" />
<circle cx="822.74" cy="1463.20" r="5.4" fill="#D9620F" />
<circle cx="851.27" cy="1533.73" r="5.4" fill="#D9620F" />
<circle cx="872.68" cy="1568.11" r="5.4" fill="#D9620F" />
<circle cx="901.21" cy="1616.16" r="5.4" fill="#D9620F" />
<circle cx="922.61" cy="1618.36" r="5.4" fill="#D9620F" />
<circle cx="951.15" cy="1625.85" r="5.4" fill="#D9620F" />
<circle cx="972.55" cy="1637.31" r="5.4" fill="#D9620F" />
<circle cx="1022.49" cy="1634.67" r="5.4" fill="#D9620F" />
<path d="M801.3,1457.5V1467.6M795.8,1457.5h11.0M795.8,1467.6h11.0" stroke="#000" stroke-width="1.5" fill="none"/>
<path d="M822.7,1475.5V1483.9M817.2,1475.5h11.0M817.2,1483.9h11.0" stroke="#000" stroke-width="1.5" fill="none"/>
<path d="M851.3,1452.6V1481.3M845.8,1452.6h11.0M845.8,1481.3h11.0" stroke="#000" stroke-width="1.5" fill="none"/>
<path d="M872.7,1447.8V1467.2M867.2,1447.8h11.0M867.2,1467.2h11.0" stroke="#000" stroke-width="1.5" fill="none"/>
<path d="M901.2,1461.0V1489.2M895.7,1461.0h11.0M895.7,1489.2h11.0" stroke="#000" stroke-width="1.5" fill="none"/>
<path d="M922.6,1441.2V1485.2M917.1,1441.2h11.0M917.1,1485.2h11.0" stroke="#000" stroke-width="1.5" fill="none"/>
<path d="M951.1,1444.2V1491.0M945.6,1444.2h11.0M945.6,1491.0h11.0" stroke="#000" stroke-width="1.5" fill="none"/>
<path d="M972.6,1455.7V1468.5M967.1,1455.7h11.0M967.1,1468.5h11.0" stroke="#000" stroke-width="1.5" fill="none"/>
<path d="M1022.5,1435.4V1479.9M1017.0,1435.4h11.0M1017.0,1479.9h11.0" stroke="#000" stroke-width="1.5" fill="none"/>
<polyline points="801.34,1462.76 822.74,1479.51 851.27,1461.88 872.68,1457.47 901.21,1469.37 922.61,1453.06 951.15,1455.26 972.55,1463.64 1022.49,1448.21" fill="none" stroke="#000" stroke-width="2.6" stroke-linejoin="round" />
<circle cx="801.34" cy="1462.76" r="5.4" fill="#000" />
<circle cx="822.74" cy="1479.51" r="5.4" fill="#000" />
<circle cx="851.27" cy="1461.88" r="5.4" fill="#000" />
<circle cx="872.68" cy="1457.47" r="5.4" fill="#000" />
<circle cx="901.21" cy="1469.37" r="5.4" fill="#000" />
<circle cx="922.61" cy="1453.06" r="5.4" fill="#000" />
<circle cx="951.15" cy="1455.26" r="5.4" fill="#000" />
<circle cx="972.55" cy="1463.64" r="5.4" fill="#000" />
<circle cx="1022.49" cy="1448.21" r="5.4" fill="#000" />
<line x1="1051.80" y1="1405.80" x2="1086.80" y2="1405.80" stroke="#000" stroke-width="2.8" />
<circle cx="1069.50" cy="1405.80" r="4.6" fill="#000" />
<text x="1097.30" y="1412.10" font-size="21" >Kp only</text>
<text x="1097.30" y="1433.90" font-size="21" >(<tspan font-style="italic">n</tspan> = 4)</text>
<line x1="1051.80" y1="1460.20" x2="1086.80" y2="1460.20" stroke="#4B889F" stroke-width="2.8" />
<circle cx="1069.50" cy="1460.20" r="4.6" fill="#4B889F" />
<text x="1097.30" y="1466.80" font-size="21" >F18-mix excluding D</text>
<text x="1097.30" y="1488.30" font-size="21" >(<tspan font-style="italic">n</tspan> = 8)</text>
<line x1="1051.80" y1="1518.00" x2="1086.80" y2="1518.00" stroke="#5F9BB1" stroke-width="2.8" />
<circle cx="1069.50" cy="1518.00" r="4.6" fill="#5F9BB1" />
<text x="1097.30" y="1524.60" font-size="21" >F18-mix excluding B</text>
<text x="1097.30" y="1545.70" font-size="21" >(<tspan font-style="italic">n</tspan> = 7)</text>
<line x1="1051.80" y1="1573.30" x2="1086.80" y2="1573.30" stroke="#84B6C9" stroke-width="2.8" />
<circle cx="1069.50" cy="1573.30" r="4.6" fill="#84B6C9" />
<text x="1097.30" y="1579.30" font-size="21" >F18-mix excluding A</text>
<text x="1097.30" y="1600.90" font-size="21" >(<tspan font-style="italic">n</tspan> = 8)</text>
<line x1="1051.80" y1="1623.20" x2="1086.80" y2="1623.20" stroke="#A9D6E4" stroke-width="2.8" />
<circle cx="1069.50" cy="1623.20" r="4.6" fill="#A9D6E4" />
<text x="1097.30" y="1629.30" font-size="21" >F18-mix excluding C</text>
<text x="1097.30" y="1650.80" font-size="21" >(<tspan font-style="italic">n</tspan> = 8)</text>
<line x1="1051.80" y1="1677.90" x2="1086.80" y2="1677.90" stroke="#D9620F" stroke-width="2.8" />
<circle cx="1069.50" cy="1677.90" r="4.6" fill="#D9620F" />
<text x="1097.30" y="1683.70" font-size="21" >F18-mix</text>
<text x="1097.30" y="1706.00" font-size="21" >(<tspan font-style="italic">n</tspan> = 8)</text>
<line x1="1301.10" y1="1624.50" x2="1301.10" y2="1677.10" stroke="#000" stroke-width="2" />
<text x="1317.60" y="1686.80" font-size="16.6" transform="rotate(-90 1317.60 1686.80)"><tspan font-style="italic">P</tspan> = 0.014</text>
<line x1="1323.50" y1="1573.30" x2="1323.50" y2="1677.10" stroke="#000" stroke-width="2" />
<text x="1340.00" y="1665.80" font-size="16.6" transform="rotate(-90 1340.00 1665.80)"><tspan font-style="italic">P</tspan> = 0.0005</text>
<line x1="1346.30" y1="1518.80" x2="1346.30" y2="1677.10" stroke="#000" stroke-width="2" />
<text x="1362.80" y="1639.50" font-size="16.6" transform="rotate(-90 1362.80 1639.50)"><tspan font-style="italic">P</tspan> = 0.0002</text>
<line x1="1370.50" y1="1460.20" x2="1370.50" y2="1677.10" stroke="#000" stroke-width="2" />
<text x="1387.00" y="1605.30" font-size="16.6" transform="rotate(-90 1387.00 1605.30)"><tspan font-style="italic">P</tspan> &lt; 0.001</text>
<line x1="1392.40" y1="1405.80" x2="1392.40" y2="1677.10" stroke="#000" stroke-width="2" />
<text x="1408.90" y="1583.00" font-size="16.6" transform="rotate(-90 1408.90 1583.00)"><tspan font-style="italic">P</tspan> &lt; 0.0001</text>
</svg></body></html>
